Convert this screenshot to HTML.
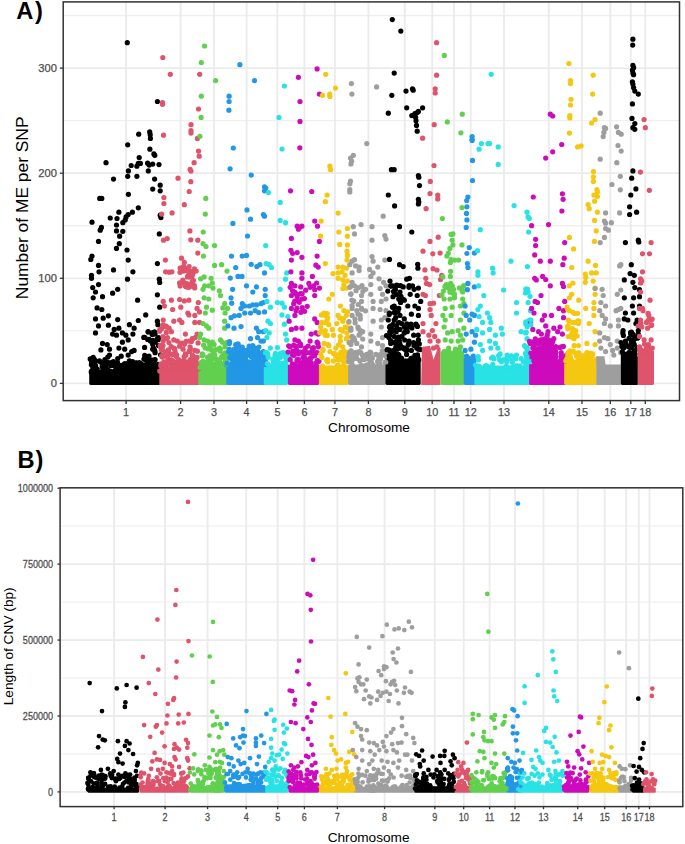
<!DOCTYPE html>
<html><head><meta charset="utf-8"><style>html,body{margin:0;padding:0;background:#fff;width:685px;height:844px;overflow:hidden}svg{display:block}text{font-family:"Liberation Sans",sans-serif}</style></head><body>
<svg width="685" height="844" viewBox="0 0 685 844" font-family="Liberation Sans, sans-serif">
<rect width="685" height="844" fill="#FFFFFF"/>
<line x1="63.2" x2="679.5" y1="330.85" y2="330.85" stroke="#F0F0F0" stroke-width="1.4"/>
<line x1="63.2" x2="679.5" y1="225.75" y2="225.75" stroke="#F0F0F0" stroke-width="1.4"/>
<line x1="63.2" x2="679.5" y1="120.65" y2="120.65" stroke="#F0F0F0" stroke-width="1.4"/>
<line x1="63.2" x2="679.5" y1="15.55" y2="15.55" stroke="#F0F0F0" stroke-width="1.4"/>
<line x1="63.2" x2="679.5" y1="383.40" y2="383.40" stroke="#EBEBEB" stroke-width="1.8"/>
<line x1="63.2" x2="679.5" y1="278.30" y2="278.30" stroke="#EBEBEB" stroke-width="1.8"/>
<line x1="63.2" x2="679.5" y1="173.20" y2="173.20" stroke="#EBEBEB" stroke-width="1.8"/>
<line x1="63.2" x2="679.5" y1="68.10" y2="68.10" stroke="#EBEBEB" stroke-width="1.8"/>
<line x1="126.10" x2="126.10" y1="1.9" y2="400.6" stroke="#EBEBEB" stroke-width="1.8"/>
<line x1="180.60" x2="180.60" y1="1.9" y2="400.6" stroke="#EBEBEB" stroke-width="1.8"/>
<line x1="214.00" x2="214.00" y1="1.9" y2="400.6" stroke="#EBEBEB" stroke-width="1.8"/>
<line x1="246.60" x2="246.60" y1="1.9" y2="400.6" stroke="#EBEBEB" stroke-width="1.8"/>
<line x1="277.40" x2="277.40" y1="1.9" y2="400.6" stroke="#EBEBEB" stroke-width="1.8"/>
<line x1="304.40" x2="304.40" y1="1.9" y2="400.6" stroke="#EBEBEB" stroke-width="1.8"/>
<line x1="334.90" x2="334.90" y1="1.9" y2="400.6" stroke="#EBEBEB" stroke-width="1.8"/>
<line x1="368.40" x2="368.40" y1="1.9" y2="400.6" stroke="#EBEBEB" stroke-width="1.8"/>
<line x1="404.80" x2="404.80" y1="1.9" y2="400.6" stroke="#EBEBEB" stroke-width="1.8"/>
<line x1="432.20" x2="432.20" y1="1.9" y2="400.6" stroke="#EBEBEB" stroke-width="1.8"/>
<line x1="454.00" x2="454.00" y1="1.9" y2="400.6" stroke="#EBEBEB" stroke-width="1.8"/>
<line x1="470.70" x2="470.70" y1="1.9" y2="400.6" stroke="#EBEBEB" stroke-width="1.8"/>
<line x1="504.00" x2="504.00" y1="1.9" y2="400.6" stroke="#EBEBEB" stroke-width="1.8"/>
<line x1="548.80" x2="548.80" y1="1.9" y2="400.6" stroke="#EBEBEB" stroke-width="1.8"/>
<line x1="582.00" x2="582.00" y1="1.9" y2="400.6" stroke="#EBEBEB" stroke-width="1.8"/>
<line x1="610.30" x2="610.30" y1="1.9" y2="400.6" stroke="#EBEBEB" stroke-width="1.8"/>
<line x1="630.80" x2="630.80" y1="1.9" y2="400.6" stroke="#EBEBEB" stroke-width="1.8"/>
<line x1="645.30" x2="645.30" y1="1.9" y2="400.6" stroke="#EBEBEB" stroke-width="1.8"/>
<rect x="89.2" y="370.3" width="71.0" height="14.6" rx="1.3" fill="#000000"/>
<g fill="#000000"><circle cx="90.2" cy="358.9" r="2.6"/><circle cx="90.8" cy="259.4" r="2.6"/><circle cx="91.2" cy="372.1" r="2.6"/><circle cx="91.4" cy="359.3" r="2.6"/><circle cx="91.4" cy="364.7" r="2.6"/><circle cx="91.5" cy="275.3" r="2.6"/><circle cx="91.5" cy="278.3" r="2.6"/><circle cx="91.6" cy="362.5" r="2.6"/><circle cx="91.7" cy="370.8" r="2.6"/><circle cx="91.8" cy="362.3" r="2.6"/><circle cx="92.0" cy="222.2" r="2.6"/><circle cx="92.0" cy="256.1" r="2.6"/><circle cx="92.1" cy="362.3" r="2.6"/><circle cx="92.1" cy="371.5" r="2.6"/><circle cx="92.7" cy="287.6" r="2.6"/><circle cx="92.9" cy="367.2" r="2.6"/><circle cx="93.2" cy="297.8" r="2.6"/><circle cx="93.2" cy="357.4" r="2.6"/><circle cx="93.5" cy="371.3" r="2.6"/><circle cx="93.5" cy="363.2" r="2.6"/><circle cx="94.0" cy="364.4" r="2.6"/><circle cx="94.2" cy="359.2" r="2.6"/><circle cx="94.5" cy="372.7" r="2.6"/><circle cx="95.0" cy="369.0" r="2.6"/><circle cx="95.2" cy="365.4" r="2.6"/><circle cx="95.5" cy="292.0" r="2.6"/><circle cx="95.5" cy="318.9" r="2.6"/><circle cx="95.5" cy="332.9" r="2.6"/><circle cx="95.5" cy="360.9" r="2.6"/><circle cx="95.6" cy="365.7" r="2.6"/><circle cx="96.6" cy="369.2" r="2.6"/><circle cx="97.1" cy="307.9" r="2.6"/><circle cx="97.2" cy="369.1" r="2.6"/><circle cx="98.5" cy="372.3" r="2.6"/><circle cx="98.5" cy="241.4" r="2.6"/><circle cx="98.5" cy="265.4" r="2.6"/><circle cx="98.5" cy="284.6" r="2.6"/><circle cx="98.5" cy="325.9" r="2.6"/><circle cx="99.0" cy="271.8" r="2.6"/><circle cx="99.4" cy="360.9" r="2.6"/><circle cx="99.7" cy="198.4" r="2.6"/><circle cx="100.2" cy="230.2" r="2.6"/><circle cx="100.7" cy="362.1" r="2.6"/><circle cx="100.9" cy="349.9" r="2.6"/><circle cx="101.4" cy="227.4" r="2.6"/><circle cx="101.8" cy="198.4" r="2.6"/><circle cx="101.8" cy="309.5" r="2.6"/><circle cx="102.2" cy="366.3" r="2.6"/><circle cx="102.3" cy="371.8" r="2.6"/><circle cx="102.4" cy="363.3" r="2.6"/><circle cx="102.5" cy="296.7" r="2.6"/><circle cx="102.5" cy="343.4" r="2.6"/><circle cx="102.5" cy="363.0" r="2.6"/><circle cx="102.6" cy="366.2" r="2.6"/><circle cx="102.6" cy="371.7" r="2.6"/><circle cx="102.7" cy="368.1" r="2.6"/><circle cx="103.2" cy="318.2" r="2.6"/><circle cx="103.4" cy="369.8" r="2.6"/><circle cx="103.8" cy="366.5" r="2.6"/><circle cx="104.2" cy="366.6" r="2.6"/><circle cx="104.6" cy="368.1" r="2.6"/><circle cx="104.9" cy="359.7" r="2.6"/><circle cx="105.2" cy="367.4" r="2.6"/><circle cx="105.5" cy="371.7" r="2.6"/><circle cx="105.5" cy="365.6" r="2.6"/><circle cx="106.0" cy="162.7" r="2.6"/><circle cx="106.1" cy="371.0" r="2.6"/><circle cx="106.3" cy="368.1" r="2.6"/><circle cx="106.7" cy="362.4" r="2.6"/><circle cx="106.8" cy="371.1" r="2.6"/><circle cx="107.2" cy="344.6" r="2.6"/><circle cx="107.4" cy="362.5" r="2.6"/><circle cx="107.5" cy="370.7" r="2.6"/><circle cx="107.8" cy="357.1" r="2.6"/><circle cx="108.0" cy="370.0" r="2.6"/><circle cx="108.4" cy="315.8" r="2.6"/><circle cx="108.4" cy="325.2" r="2.6"/><circle cx="109.2" cy="362.9" r="2.6"/><circle cx="109.5" cy="349.2" r="2.6"/><circle cx="109.5" cy="355.1" r="2.6"/><circle cx="109.6" cy="363.8" r="2.6"/><circle cx="109.9" cy="371.3" r="2.6"/><circle cx="110.2" cy="218.0" r="2.6"/><circle cx="110.9" cy="365.7" r="2.6"/><circle cx="111.1" cy="371.6" r="2.6"/><circle cx="111.2" cy="372.4" r="2.6"/><circle cx="111.4" cy="362.7" r="2.6"/><circle cx="112.6" cy="293.2" r="2.6"/><circle cx="112.6" cy="334.1" r="2.6"/><circle cx="113.4" cy="361.5" r="2.6"/><circle cx="113.4" cy="364.2" r="2.6"/><circle cx="113.5" cy="179.1" r="2.6"/><circle cx="113.5" cy="269.9" r="2.6"/><circle cx="114.2" cy="329.4" r="2.6"/><circle cx="114.5" cy="371.9" r="2.6"/><circle cx="114.7" cy="365.8" r="2.6"/><circle cx="114.7" cy="370.8" r="2.6"/><circle cx="114.7" cy="366.1" r="2.6"/><circle cx="116.2" cy="370.9" r="2.6"/><circle cx="116.3" cy="371.6" r="2.6"/><circle cx="116.5" cy="225.0" r="2.6"/><circle cx="116.5" cy="230.9" r="2.6"/><circle cx="116.5" cy="248.4" r="2.6"/><circle cx="116.5" cy="335.2" r="2.6"/><circle cx="116.9" cy="370.3" r="2.6"/><circle cx="117.0" cy="218.5" r="2.6"/><circle cx="117.5" cy="362.3" r="2.6"/><circle cx="117.5" cy="368.6" r="2.6"/><circle cx="117.7" cy="289.3" r="2.6"/><circle cx="117.7" cy="319.6" r="2.6"/><circle cx="117.7" cy="358.6" r="2.6"/><circle cx="117.9" cy="367.6" r="2.6"/><circle cx="118.9" cy="212.2" r="2.6"/><circle cx="118.9" cy="328.2" r="2.6"/><circle cx="118.9" cy="348.1" r="2.6"/><circle cx="118.9" cy="365.6" r="2.6"/><circle cx="118.9" cy="371.0" r="2.6"/><circle cx="119.3" cy="243.7" r="2.6"/><circle cx="119.5" cy="369.9" r="2.6"/><circle cx="119.6" cy="236.2" r="2.6"/><circle cx="119.8" cy="372.5" r="2.6"/><circle cx="120.2" cy="368.0" r="2.6"/><circle cx="120.4" cy="365.7" r="2.6"/><circle cx="121.1" cy="366.0" r="2.6"/><circle cx="121.2" cy="356.2" r="2.6"/><circle cx="121.4" cy="369.0" r="2.6"/><circle cx="121.8" cy="368.4" r="2.6"/><circle cx="122.2" cy="369.6" r="2.6"/><circle cx="122.4" cy="332.9" r="2.6"/><circle cx="122.4" cy="342.2" r="2.6"/><circle cx="122.4" cy="371.8" r="2.6"/><circle cx="122.4" cy="368.5" r="2.6"/><circle cx="122.5" cy="368.2" r="2.6"/><circle cx="122.8" cy="222.7" r="2.6"/><circle cx="122.8" cy="231.3" r="2.6"/><circle cx="123.3" cy="369.7" r="2.6"/><circle cx="123.5" cy="365.5" r="2.6"/><circle cx="123.7" cy="364.7" r="2.6"/><circle cx="124.3" cy="367.4" r="2.6"/><circle cx="124.7" cy="349.2" r="2.6"/><circle cx="124.8" cy="363.7" r="2.6"/><circle cx="125.2" cy="219.9" r="2.6"/><circle cx="125.3" cy="365.2" r="2.6"/><circle cx="125.5" cy="372.3" r="2.6"/><circle cx="125.9" cy="335.2" r="2.6"/><circle cx="125.9" cy="369.5" r="2.6"/><circle cx="126.1" cy="216.9" r="2.6"/><circle cx="126.4" cy="370.5" r="2.6"/><circle cx="126.6" cy="370.6" r="2.6"/><circle cx="127.0" cy="250.0" r="2.6"/><circle cx="127.2" cy="363.8" r="2.6"/><circle cx="127.3" cy="42.7" r="2.6"/><circle cx="127.5" cy="279.2" r="2.6"/><circle cx="127.6" cy="364.1" r="2.6"/><circle cx="127.7" cy="144.8" r="2.6"/><circle cx="127.7" cy="176.3" r="2.6"/><circle cx="128.0" cy="370.2" r="2.6"/><circle cx="128.2" cy="364.8" r="2.6"/><circle cx="128.2" cy="214.5" r="2.6"/><circle cx="128.2" cy="260.1" r="2.6"/><circle cx="128.2" cy="339.9" r="2.6"/><circle cx="128.2" cy="355.1" r="2.6"/><circle cx="128.2" cy="372.4" r="2.6"/><circle cx="128.4" cy="369.2" r="2.6"/><circle cx="128.4" cy="170.9" r="2.6"/><circle cx="128.4" cy="194.3" r="2.6"/><circle cx="128.6" cy="364.9" r="2.6"/><circle cx="128.7" cy="363.9" r="2.6"/><circle cx="128.8" cy="363.5" r="2.6"/><circle cx="129.4" cy="324.7" r="2.6"/><circle cx="129.4" cy="360.9" r="2.6"/><circle cx="129.7" cy="371.4" r="2.6"/><circle cx="130.5" cy="366.2" r="2.6"/><circle cx="131.1" cy="363.9" r="2.6"/><circle cx="131.2" cy="165.5" r="2.6"/><circle cx="131.7" cy="372.4" r="2.6"/><circle cx="131.7" cy="351.6" r="2.6"/><circle cx="132.2" cy="370.1" r="2.6"/><circle cx="132.4" cy="212.2" r="2.6"/><circle cx="132.5" cy="371.2" r="2.6"/><circle cx="132.6" cy="361.6" r="2.6"/><circle cx="132.9" cy="271.8" r="2.6"/><circle cx="132.9" cy="334.1" r="2.6"/><circle cx="133.2" cy="365.7" r="2.6"/><circle cx="133.4" cy="364.3" r="2.6"/><circle cx="133.8" cy="367.7" r="2.6"/><circle cx="133.9" cy="363.2" r="2.6"/><circle cx="134.1" cy="328.2" r="2.6"/><circle cx="134.1" cy="350.4" r="2.6"/><circle cx="134.3" cy="365.5" r="2.6"/><circle cx="135.5" cy="364.4" r="2.6"/><circle cx="135.8" cy="363.1" r="2.6"/><circle cx="136.4" cy="363.2" r="2.6"/><circle cx="136.4" cy="369.3" r="2.6"/><circle cx="136.5" cy="366.8" r="2.6"/><circle cx="136.7" cy="371.6" r="2.6"/><circle cx="136.7" cy="363.2" r="2.6"/><circle cx="136.9" cy="166.2" r="2.6"/><circle cx="136.9" cy="176.3" r="2.6"/><circle cx="137.3" cy="364.2" r="2.6"/><circle cx="137.3" cy="369.5" r="2.6"/><circle cx="137.4" cy="372.2" r="2.6"/><circle cx="137.6" cy="300.2" r="2.6"/><circle cx="138.2" cy="371.4" r="2.6"/><circle cx="138.3" cy="163.4" r="2.6"/><circle cx="138.3" cy="207.8" r="2.6"/><circle cx="138.3" cy="320.5" r="2.6"/><circle cx="138.7" cy="134.2" r="2.6"/><circle cx="139.2" cy="157.6" r="2.6"/><circle cx="139.3" cy="362.5" r="2.6"/><circle cx="139.4" cy="363.8" r="2.6"/><circle cx="140.3" cy="371.1" r="2.6"/><circle cx="140.4" cy="163.4" r="2.6"/><circle cx="140.4" cy="363.6" r="2.6"/><circle cx="140.8" cy="364.5" r="2.6"/><circle cx="140.9" cy="366.3" r="2.6"/><circle cx="141.7" cy="369.0" r="2.6"/><circle cx="141.9" cy="371.4" r="2.6"/><circle cx="142.0" cy="368.8" r="2.6"/><circle cx="142.1" cy="364.6" r="2.6"/><circle cx="143.8" cy="337.4" r="2.6"/><circle cx="144.0" cy="359.2" r="2.6"/><circle cx="144.5" cy="367.4" r="2.6"/><circle cx="144.6" cy="347.4" r="2.6"/><circle cx="144.7" cy="337.4" r="2.6"/><circle cx="144.7" cy="355.4" r="2.6"/><circle cx="144.8" cy="372.5" r="2.6"/><circle cx="145.0" cy="371.3" r="2.6"/><circle cx="145.1" cy="365.0" r="2.6"/><circle cx="145.7" cy="314.9" r="2.6"/><circle cx="145.7" cy="357.4" r="2.6"/><circle cx="145.9" cy="371.1" r="2.6"/><circle cx="145.9" cy="358.6" r="2.6"/><circle cx="146.3" cy="370.8" r="2.6"/><circle cx="146.4" cy="360.4" r="2.6"/><circle cx="147.1" cy="370.5" r="2.6"/><circle cx="147.1" cy="368.4" r="2.6"/><circle cx="147.4" cy="370.3" r="2.6"/><circle cx="147.6" cy="163.2" r="2.6"/><circle cx="147.7" cy="339.4" r="2.6"/><circle cx="147.9" cy="370.4" r="2.6"/><circle cx="148.1" cy="331.7" r="2.6"/><circle cx="148.1" cy="362.1" r="2.6"/><circle cx="148.2" cy="372.3" r="2.6"/><circle cx="148.3" cy="170.9" r="2.6"/><circle cx="148.3" cy="332.0" r="2.6"/><circle cx="148.5" cy="359.4" r="2.6"/><circle cx="148.6" cy="369.2" r="2.6"/><circle cx="148.7" cy="358.6" r="2.6"/><circle cx="148.8" cy="364.8" r="2.6"/><circle cx="149.0" cy="356.2" r="2.6"/><circle cx="149.1" cy="339.4" r="2.6"/><circle cx="149.2" cy="165.1" r="2.6"/><circle cx="149.7" cy="131.9" r="2.6"/><circle cx="149.9" cy="370.0" r="2.6"/><circle cx="149.9" cy="149.2" r="2.6"/><circle cx="150.0" cy="365.3" r="2.6"/><circle cx="150.2" cy="134.7" r="2.6"/><circle cx="150.2" cy="360.1" r="2.6"/><circle cx="150.4" cy="138.4" r="2.6"/><circle cx="150.4" cy="341.1" r="2.6"/><circle cx="150.5" cy="362.8" r="2.6"/><circle cx="150.8" cy="362.7" r="2.6"/><circle cx="150.9" cy="365.5" r="2.6"/><circle cx="151.2" cy="372.3" r="2.6"/><circle cx="151.2" cy="361.5" r="2.6"/><circle cx="151.5" cy="372.4" r="2.6"/><circle cx="151.8" cy="363.3" r="2.6"/><circle cx="152.0" cy="372.1" r="2.6"/><circle cx="152.2" cy="334.4" r="2.6"/><circle cx="152.4" cy="332.9" r="2.6"/><circle cx="152.7" cy="164.1" r="2.6"/><circle cx="152.7" cy="189.1" r="2.6"/><circle cx="152.7" cy="344.6" r="2.6"/><circle cx="152.7" cy="349.2" r="2.6"/><circle cx="152.8" cy="363.2" r="2.6"/><circle cx="152.9" cy="340.3" r="2.6"/><circle cx="153.0" cy="360.2" r="2.6"/><circle cx="153.2" cy="368.2" r="2.6"/><circle cx="153.6" cy="363.2" r="2.6"/><circle cx="153.8" cy="348.3" r="2.6"/><circle cx="153.9" cy="153.9" r="2.6"/><circle cx="154.5" cy="331.8" r="2.6"/><circle cx="154.6" cy="179.1" r="2.6"/><circle cx="154.7" cy="350.7" r="2.6"/><circle cx="154.8" cy="155.3" r="2.6"/><circle cx="155.0" cy="371.0" r="2.6"/><circle cx="155.1" cy="334.1" r="2.6"/><circle cx="155.1" cy="342.2" r="2.6"/><circle cx="155.1" cy="352.7" r="2.6"/><circle cx="155.1" cy="359.7" r="2.6"/><circle cx="155.6" cy="365.3" r="2.6"/><circle cx="156.5" cy="367.5" r="2.6"/><circle cx="157.1" cy="370.7" r="2.6"/><circle cx="157.3" cy="338.9" r="2.6"/><circle cx="157.4" cy="101.5" r="2.6"/><circle cx="157.4" cy="263.6" r="2.6"/><circle cx="157.4" cy="294.8" r="2.6"/><circle cx="157.4" cy="321.2" r="2.6"/><circle cx="157.7" cy="371.7" r="2.6"/><circle cx="157.7" cy="366.1" r="2.6"/><circle cx="157.9" cy="324.7" r="2.6"/><circle cx="157.9" cy="371.2" r="2.6"/><circle cx="158.1" cy="364.4" r="2.6"/><circle cx="158.2" cy="339.7" r="2.6"/><circle cx="158.5" cy="345.5" r="2.6"/><circle cx="158.5" cy="367.4" r="2.6"/><circle cx="158.6" cy="337.6" r="2.6"/><circle cx="158.7" cy="367.2" r="2.6"/><circle cx="159.0" cy="164.6" r="2.6"/><circle cx="159.3" cy="233.9" r="2.6"/><circle cx="159.3" cy="279.2" r="2.6"/></g>
<rect x="159.3" y="367.9" width="40.6" height="17.0" rx="1.3" fill="#DF536B"/>
<g fill="#DF536B"><circle cx="159.6" cy="331.2" r="2.6"/><circle cx="159.7" cy="371.1" r="2.6"/></g>
<g fill="#000000"><circle cx="159.7" cy="282.5" r="2.6"/><circle cx="159.7" cy="307.2" r="2.6"/></g>
<g fill="#DF536B"><circle cx="159.8" cy="329.6" r="2.6"/></g>
<g fill="#000000"><circle cx="160.2" cy="185.2" r="2.6"/><circle cx="160.2" cy="190.8" r="2.6"/><circle cx="160.2" cy="215.2" r="2.6"/></g>
<g fill="#DF536B"><circle cx="160.3" cy="345.3" r="2.6"/><circle cx="160.6" cy="347.1" r="2.6"/></g>
<g fill="#000000"><circle cx="160.6" cy="354.8" r="2.6"/><circle cx="160.9" cy="217.6" r="2.6"/></g>
<g fill="#DF536B"><circle cx="160.9" cy="365.9" r="2.6"/><circle cx="161.0" cy="363.9" r="2.6"/><circle cx="161.4" cy="349.8" r="2.6"/><circle cx="161.6" cy="328.7" r="2.6"/><circle cx="161.6" cy="214.1" r="2.6"/><circle cx="161.7" cy="355.6" r="2.6"/><circle cx="161.7" cy="364.9" r="2.6"/><circle cx="162.1" cy="346.9" r="2.6"/><circle cx="162.3" cy="357.0" r="2.6"/><circle cx="162.5" cy="356.8" r="2.6"/><circle cx="162.5" cy="102.7" r="2.6"/><circle cx="162.5" cy="104.3" r="2.6"/><circle cx="162.7" cy="350.0" r="2.6"/><circle cx="162.8" cy="57.5" r="2.6"/><circle cx="163.0" cy="345.5" r="2.6"/><circle cx="163.0" cy="336.5" r="2.6"/><circle cx="163.1" cy="366.7" r="2.6"/><circle cx="163.2" cy="325.5" r="2.6"/><circle cx="163.2" cy="324.9" r="2.6"/><circle cx="163.2" cy="301.4" r="2.6"/><circle cx="163.2" cy="320.0" r="2.6"/><circle cx="163.2" cy="341.1" r="2.6"/><circle cx="163.5" cy="135.2" r="2.6"/><circle cx="163.5" cy="240.2" r="2.6"/><circle cx="163.8" cy="362.2" r="2.6"/><circle cx="163.9" cy="367.9" r="2.6"/><circle cx="163.9" cy="197.5" r="2.6"/><circle cx="163.9" cy="203.5" r="2.6"/><circle cx="164.4" cy="306.0" r="2.6"/><circle cx="164.4" cy="362.1" r="2.6"/><circle cx="165.1" cy="366.5" r="2.6"/><circle cx="165.3" cy="369.6" r="2.6"/><circle cx="165.4" cy="260.1" r="2.6"/><circle cx="165.5" cy="370.9" r="2.6"/><circle cx="165.6" cy="271.8" r="2.6"/><circle cx="165.6" cy="352.7" r="2.6"/><circle cx="166.1" cy="326.1" r="2.6"/><circle cx="166.3" cy="370.9" r="2.6"/><circle cx="166.3" cy="327.1" r="2.6"/><circle cx="166.3" cy="332.4" r="2.6"/><circle cx="166.5" cy="368.3" r="2.6"/><circle cx="166.6" cy="338.6" r="2.6"/><circle cx="166.8" cy="352.3" r="2.6"/><circle cx="167.0" cy="369.1" r="2.6"/><circle cx="167.2" cy="238.6" r="2.6"/><circle cx="167.3" cy="356.2" r="2.6"/><circle cx="167.3" cy="354.7" r="2.6"/><circle cx="167.5" cy="363.3" r="2.6"/><circle cx="167.5" cy="337.6" r="2.6"/><circle cx="167.7" cy="361.0" r="2.6"/><circle cx="167.9" cy="357.4" r="2.6"/><circle cx="168.0" cy="350.7" r="2.6"/><circle cx="168.2" cy="350.5" r="2.6"/><circle cx="168.2" cy="359.8" r="2.6"/><circle cx="168.2" cy="359.3" r="2.6"/><circle cx="168.3" cy="349.9" r="2.6"/><circle cx="168.8" cy="364.2" r="2.6"/><circle cx="168.9" cy="369.5" r="2.6"/><circle cx="168.9" cy="342.5" r="2.6"/><circle cx="169.1" cy="272.2" r="2.6"/><circle cx="169.1" cy="328.2" r="2.6"/><circle cx="170.3" cy="74.3" r="2.6"/><circle cx="170.3" cy="362.1" r="2.6"/><circle cx="171.0" cy="354.1" r="2.6"/><circle cx="171.1" cy="346.6" r="2.6"/><circle cx="171.3" cy="362.3" r="2.6"/><circle cx="171.4" cy="300.2" r="2.6"/><circle cx="171.4" cy="331.7" r="2.6"/><circle cx="171.6" cy="366.9" r="2.6"/><circle cx="171.6" cy="359.8" r="2.6"/><circle cx="171.9" cy="364.2" r="2.6"/><circle cx="171.9" cy="271.8" r="2.6"/><circle cx="172.1" cy="212.9" r="2.6"/><circle cx="172.3" cy="361.1" r="2.6"/><circle cx="172.6" cy="309.5" r="2.6"/><circle cx="172.9" cy="366.4" r="2.6"/><circle cx="173.1" cy="354.6" r="2.6"/><circle cx="173.5" cy="361.7" r="2.6"/><circle cx="173.6" cy="361.7" r="2.6"/><circle cx="173.8" cy="321.2" r="2.6"/><circle cx="173.8" cy="339.9" r="2.6"/><circle cx="173.8" cy="348.1" r="2.6"/><circle cx="174.6" cy="348.7" r="2.6"/><circle cx="174.7" cy="365.6" r="2.6"/><circle cx="175.1" cy="351.7" r="2.6"/><circle cx="175.6" cy="371.1" r="2.6"/><circle cx="176.1" cy="369.9" r="2.6"/><circle cx="176.1" cy="355.1" r="2.6"/><circle cx="176.3" cy="363.3" r="2.6"/><circle cx="176.4" cy="356.5" r="2.6"/><circle cx="176.6" cy="354.8" r="2.6"/><circle cx="176.6" cy="366.8" r="2.6"/><circle cx="176.7" cy="369.5" r="2.6"/><circle cx="177.3" cy="341.1" r="2.6"/><circle cx="177.3" cy="364.3" r="2.6"/><circle cx="177.6" cy="369.1" r="2.6"/><circle cx="178.0" cy="178.2" r="2.6"/><circle cx="178.0" cy="364.8" r="2.6"/><circle cx="178.2" cy="364.9" r="2.6"/><circle cx="178.4" cy="359.7" r="2.6"/><circle cx="178.7" cy="371.3" r="2.6"/><circle cx="179.6" cy="360.7" r="2.6"/><circle cx="179.6" cy="299.5" r="2.6"/><circle cx="179.6" cy="320.0" r="2.6"/><circle cx="179.6" cy="346.2" r="2.6"/><circle cx="179.6" cy="282.8" r="2.6"/><circle cx="180.0" cy="272.3" r="2.6"/><circle cx="180.1" cy="268.0" r="2.6"/><circle cx="180.1" cy="285.9" r="2.6"/><circle cx="180.2" cy="361.3" r="2.6"/><circle cx="180.6" cy="369.4" r="2.6"/><circle cx="180.8" cy="307.2" r="2.6"/><circle cx="180.8" cy="343.4" r="2.6"/><circle cx="181.4" cy="367.0" r="2.6"/><circle cx="181.5" cy="258.2" r="2.6"/><circle cx="181.8" cy="363.1" r="2.6"/><circle cx="181.9" cy="371.1" r="2.6"/><circle cx="181.9" cy="322.4" r="2.6"/><circle cx="182.5" cy="343.2" r="2.6"/><circle cx="182.9" cy="280.2" r="2.6"/><circle cx="182.9" cy="368.7" r="2.6"/><circle cx="183.1" cy="349.2" r="2.6"/><circle cx="183.1" cy="363.2" r="2.6"/><circle cx="183.5" cy="266.6" r="2.6"/><circle cx="183.5" cy="362.9" r="2.6"/><circle cx="183.6" cy="271.1" r="2.6"/><circle cx="183.9" cy="266.7" r="2.6"/><circle cx="184.1" cy="282.9" r="2.6"/><circle cx="184.2" cy="356.5" r="2.6"/><circle cx="184.2" cy="360.2" r="2.6"/><circle cx="184.3" cy="367.1" r="2.6"/><circle cx="184.3" cy="204.7" r="2.6"/><circle cx="184.3" cy="262.4" r="2.6"/><circle cx="184.3" cy="300.9" r="2.6"/><circle cx="184.4" cy="344.3" r="2.6"/><circle cx="184.5" cy="369.4" r="2.6"/><circle cx="185.3" cy="354.8" r="2.6"/><circle cx="185.4" cy="268.6" r="2.6"/><circle cx="185.4" cy="286.2" r="2.6"/><circle cx="185.4" cy="334.1" r="2.6"/><circle cx="185.4" cy="353.9" r="2.6"/><circle cx="185.9" cy="365.5" r="2.6"/><circle cx="185.9" cy="355.1" r="2.6"/><circle cx="186.1" cy="341.3" r="2.6"/><circle cx="186.3" cy="286.8" r="2.6"/><circle cx="186.9" cy="283.6" r="2.6"/><circle cx="187.0" cy="286.7" r="2.6"/><circle cx="187.0" cy="270.7" r="2.6"/><circle cx="187.2" cy="284.5" r="2.6"/><circle cx="187.3" cy="368.9" r="2.6"/><circle cx="187.3" cy="362.7" r="2.6"/><circle cx="187.5" cy="276.9" r="2.6"/><circle cx="187.6" cy="270.8" r="2.6"/><circle cx="187.8" cy="276.4" r="2.6"/><circle cx="187.8" cy="313.0" r="2.6"/><circle cx="187.9" cy="367.4" r="2.6"/><circle cx="188.3" cy="275.6" r="2.6"/><circle cx="188.8" cy="367.0" r="2.6"/><circle cx="188.9" cy="287.3" r="2.6"/><circle cx="188.9" cy="300.2" r="2.6"/><circle cx="188.9" cy="314.9" r="2.6"/><circle cx="188.9" cy="341.1" r="2.6"/><circle cx="189.0" cy="363.0" r="2.6"/><circle cx="189.1" cy="266.5" r="2.6"/><circle cx="189.2" cy="191.5" r="2.6"/><circle cx="189.2" cy="366.6" r="2.6"/><circle cx="189.3" cy="351.3" r="2.6"/><circle cx="189.3" cy="284.5" r="2.6"/><circle cx="189.6" cy="351.3" r="2.6"/><circle cx="189.7" cy="350.8" r="2.6"/><circle cx="189.7" cy="361.1" r="2.6"/><circle cx="189.8" cy="362.6" r="2.6"/><circle cx="189.8" cy="362.6" r="2.6"/><circle cx="189.9" cy="230.9" r="2.6"/><circle cx="189.9" cy="272.6" r="2.6"/><circle cx="189.9" cy="277.1" r="2.6"/><circle cx="190.1" cy="169.3" r="2.6"/><circle cx="190.1" cy="346.9" r="2.6"/><circle cx="190.1" cy="359.7" r="2.6"/><circle cx="190.3" cy="349.0" r="2.6"/><circle cx="190.5" cy="361.1" r="2.6"/><circle cx="190.8" cy="181.7" r="2.6"/><circle cx="190.8" cy="239.8" r="2.6"/><circle cx="191.0" cy="124.7" r="2.6"/><circle cx="191.0" cy="130.5" r="2.6"/><circle cx="191.0" cy="133.1" r="2.6"/><circle cx="191.0" cy="171.1" r="2.6"/><circle cx="191.1" cy="363.7" r="2.6"/><circle cx="191.3" cy="271.3" r="2.6"/><circle cx="191.3" cy="286.2" r="2.6"/><circle cx="191.3" cy="284.3" r="2.6"/><circle cx="191.4" cy="341.4" r="2.6"/><circle cx="191.6" cy="370.0" r="2.6"/><circle cx="191.7" cy="366.6" r="2.6"/><circle cx="192.0" cy="361.0" r="2.6"/><circle cx="192.1" cy="281.9" r="2.6"/><circle cx="192.1" cy="369.0" r="2.6"/><circle cx="192.2" cy="275.8" r="2.6"/><circle cx="192.3" cy="357.2" r="2.6"/><circle cx="192.4" cy="338.7" r="2.6"/><circle cx="192.4" cy="355.1" r="2.6"/><circle cx="192.9" cy="273.6" r="2.6"/><circle cx="192.9" cy="338.6" r="2.6"/><circle cx="193.4" cy="368.8" r="2.6"/><circle cx="193.4" cy="280.4" r="2.6"/><circle cx="193.4" cy="357.0" r="2.6"/><circle cx="193.9" cy="365.5" r="2.6"/><circle cx="194.1" cy="162.7" r="2.6"/><circle cx="194.1" cy="364.5" r="2.6"/><circle cx="194.3" cy="366.5" r="2.6"/><circle cx="194.4" cy="285.5" r="2.6"/><circle cx="194.4" cy="268.9" r="2.6"/><circle cx="194.6" cy="357.1" r="2.6"/><circle cx="194.7" cy="287.9" r="2.6"/><circle cx="194.8" cy="315.4" r="2.6"/><circle cx="194.8" cy="322.4" r="2.6"/><circle cx="194.8" cy="350.4" r="2.6"/><circle cx="194.9" cy="366.7" r="2.6"/><circle cx="195.6" cy="337.3" r="2.6"/><circle cx="195.9" cy="361.2" r="2.6"/><circle cx="195.9" cy="362.1" r="2.6"/><circle cx="196.1" cy="362.9" r="2.6"/><circle cx="196.2" cy="271.0" r="2.6"/><circle cx="196.5" cy="364.9" r="2.6"/><circle cx="197.1" cy="308.4" r="2.6"/><circle cx="197.1" cy="334.1" r="2.6"/><circle cx="197.1" cy="357.4" r="2.6"/><circle cx="197.4" cy="138.4" r="2.6"/><circle cx="197.4" cy="351.2" r="2.6"/><circle cx="197.8" cy="240.2" r="2.6"/><circle cx="197.8" cy="253.1" r="2.6"/><circle cx="198.1" cy="342.9" r="2.6"/><circle cx="198.1" cy="366.1" r="2.6"/><circle cx="198.3" cy="302.5" r="2.6"/></g>
<rect x="198.3" y="365.6" width="29.7" height="19.3" rx="1.3" fill="#61D04F"/>
<g fill="#DF536B"><circle cx="198.4" cy="368.6" r="2.6"/><circle cx="198.5" cy="109.0" r="2.6"/><circle cx="198.5" cy="151.1" r="2.6"/><circle cx="199.0" cy="368.4" r="2.6"/><circle cx="199.2" cy="156.2" r="2.6"/><circle cx="199.5" cy="311.9" r="2.6"/><circle cx="199.5" cy="322.4" r="2.6"/></g>
<g fill="#61D04F"><circle cx="199.5" cy="337.6" r="2.6"/></g>
<g fill="#DF536B"><circle cx="199.7" cy="74.3" r="2.6"/></g>
<g fill="#61D04F"><circle cx="199.9" cy="136.3" r="2.6"/><circle cx="200.1" cy="367.4" r="2.6"/><circle cx="200.6" cy="278.8" r="2.6"/><circle cx="200.6" cy="334.1" r="2.6"/><circle cx="201.1" cy="117.4" r="2.6"/><circle cx="201.2" cy="362.4" r="2.6"/><circle cx="201.3" cy="62.6" r="2.6"/><circle cx="201.3" cy="96.2" r="2.6"/><circle cx="201.4" cy="365.6" r="2.6"/><circle cx="201.9" cy="366.3" r="2.6"/><circle cx="202.0" cy="362.4" r="2.6"/><circle cx="202.0" cy="355.8" r="2.6"/><circle cx="202.1" cy="364.5" r="2.6"/><circle cx="202.2" cy="353.8" r="2.6"/><circle cx="202.4" cy="363.3" r="2.6"/><circle cx="202.8" cy="364.4" r="2.6"/><circle cx="203.0" cy="243.7" r="2.6"/><circle cx="203.0" cy="289.3" r="2.6"/><circle cx="203.0" cy="323.5" r="2.6"/><circle cx="203.0" cy="355.1" r="2.6"/><circle cx="203.0" cy="361.3" r="2.6"/><circle cx="203.2" cy="232.0" r="2.6"/><circle cx="203.4" cy="256.1" r="2.6"/><circle cx="203.5" cy="365.1" r="2.6"/><circle cx="203.6" cy="345.2" r="2.6"/><circle cx="204.1" cy="276.9" r="2.6"/><circle cx="204.1" cy="297.8" r="2.6"/><circle cx="204.1" cy="339.9" r="2.6"/><circle cx="204.6" cy="46.0" r="2.6"/><circle cx="204.6" cy="285.8" r="2.6"/><circle cx="204.6" cy="363.3" r="2.6"/><circle cx="205.1" cy="367.5" r="2.6"/><circle cx="205.3" cy="214.1" r="2.6"/><circle cx="205.3" cy="313.0" r="2.6"/><circle cx="205.3" cy="348.1" r="2.6"/><circle cx="205.8" cy="198.4" r="2.6"/><circle cx="206.0" cy="246.5" r="2.6"/><circle cx="206.3" cy="364.1" r="2.6"/><circle cx="206.5" cy="307.2" r="2.6"/><circle cx="206.5" cy="325.9" r="2.6"/><circle cx="207.6" cy="361.5" r="2.6"/><circle cx="207.6" cy="341.1" r="2.6"/><circle cx="207.6" cy="357.4" r="2.6"/><circle cx="208.2" cy="365.3" r="2.6"/><circle cx="208.2" cy="357.0" r="2.6"/><circle cx="208.6" cy="349.0" r="2.6"/><circle cx="208.8" cy="285.8" r="2.6"/><circle cx="208.8" cy="299.0" r="2.6"/><circle cx="208.8" cy="328.2" r="2.6"/><circle cx="208.8" cy="362.1" r="2.6"/><circle cx="208.9" cy="359.7" r="2.6"/><circle cx="209.3" cy="363.3" r="2.6"/><circle cx="209.3" cy="348.4" r="2.6"/><circle cx="209.6" cy="359.4" r="2.6"/><circle cx="209.8" cy="344.9" r="2.6"/><circle cx="210.2" cy="355.6" r="2.6"/><circle cx="210.4" cy="364.4" r="2.6"/><circle cx="211.0" cy="360.0" r="2.6"/><circle cx="211.1" cy="278.3" r="2.6"/><circle cx="211.1" cy="349.2" r="2.6"/><circle cx="211.4" cy="359.3" r="2.6"/><circle cx="212.0" cy="364.2" r="2.6"/><circle cx="212.3" cy="283.0" r="2.6"/><circle cx="212.3" cy="310.2" r="2.6"/><circle cx="212.3" cy="342.2" r="2.6"/><circle cx="212.5" cy="350.9" r="2.6"/><circle cx="212.6" cy="366.5" r="2.6"/><circle cx="213.0" cy="288.1" r="2.6"/><circle cx="214.1" cy="344.4" r="2.6"/><circle cx="214.2" cy="353.3" r="2.6"/><circle cx="214.2" cy="365.1" r="2.6"/><circle cx="214.3" cy="355.6" r="2.6"/><circle cx="214.4" cy="365.1" r="2.6"/><circle cx="214.6" cy="245.6" r="2.6"/><circle cx="214.6" cy="265.4" r="2.6"/><circle cx="214.6" cy="355.1" r="2.6"/><circle cx="215.1" cy="358.5" r="2.6"/><circle cx="215.2" cy="363.6" r="2.6"/><circle cx="215.2" cy="357.9" r="2.6"/><circle cx="215.6" cy="349.5" r="2.6"/><circle cx="215.6" cy="80.6" r="2.6"/><circle cx="216.3" cy="366.2" r="2.6"/><circle cx="217.5" cy="364.2" r="2.6"/><circle cx="218.0" cy="361.0" r="2.6"/><circle cx="218.1" cy="359.7" r="2.6"/><circle cx="219.1" cy="361.5" r="2.6"/><circle cx="219.2" cy="360.3" r="2.6"/><circle cx="219.3" cy="360.6" r="2.6"/><circle cx="219.3" cy="290.8" r="2.6"/><circle cx="219.3" cy="348.1" r="2.6"/><circle cx="219.6" cy="365.3" r="2.6"/><circle cx="219.9" cy="351.1" r="2.6"/><circle cx="220.3" cy="365.1" r="2.6"/><circle cx="220.4" cy="349.0" r="2.6"/><circle cx="220.5" cy="295.5" r="2.6"/><circle cx="220.5" cy="339.9" r="2.6"/><circle cx="220.5" cy="365.2" r="2.6"/><circle cx="221.6" cy="366.9" r="2.6"/><circle cx="221.6" cy="264.7" r="2.6"/><circle cx="221.7" cy="366.7" r="2.6"/><circle cx="221.7" cy="356.9" r="2.6"/><circle cx="221.9" cy="363.7" r="2.6"/><circle cx="222.3" cy="342.1" r="2.6"/><circle cx="222.8" cy="307.9" r="2.6"/><circle cx="222.8" cy="355.1" r="2.6"/><circle cx="223.2" cy="364.7" r="2.6"/><circle cx="223.3" cy="367.0" r="2.6"/><circle cx="223.4" cy="366.4" r="2.6"/><circle cx="224.1" cy="357.9" r="2.6"/><circle cx="224.6" cy="354.2" r="2.6"/><circle cx="224.7" cy="303.7" r="2.6"/><circle cx="224.7" cy="321.2" r="2.6"/><circle cx="224.7" cy="328.2" r="2.6"/><circle cx="225.0" cy="352.8" r="2.6"/><circle cx="225.1" cy="344.7" r="2.6"/><circle cx="225.1" cy="313.0" r="2.6"/><circle cx="225.1" cy="346.9" r="2.6"/><circle cx="225.2" cy="357.2" r="2.6"/><circle cx="225.4" cy="361.1" r="2.6"/><circle cx="225.7" cy="355.9" r="2.6"/><circle cx="226.3" cy="366.1" r="2.6"/></g>
<rect x="226.3" y="364.4" width="19.9" height="20.5" rx="1.3" fill="#2297E6"/>
<g fill="#2297E6"><circle cx="226.4" cy="364.8" r="2.6"/></g>
<g fill="#61D04F"><circle cx="226.6" cy="363.9" r="2.6"/><circle cx="226.6" cy="363.8" r="2.6"/><circle cx="226.8" cy="358.6" r="2.6"/><circle cx="226.9" cy="342.7" r="2.6"/><circle cx="227.0" cy="271.1" r="2.6"/><circle cx="227.1" cy="360.3" r="2.6"/></g>
<g fill="#2297E6"><circle cx="227.1" cy="363.3" r="2.6"/></g>
<g fill="#61D04F"><circle cx="227.3" cy="355.2" r="2.6"/><circle cx="227.5" cy="308.4" r="2.6"/></g>
<g fill="#2297E6"><circle cx="227.9" cy="325.9" r="2.6"/><circle cx="228.5" cy="351.7" r="2.6"/><circle cx="228.9" cy="110.2" r="2.6"/><circle cx="229.1" cy="96.2" r="2.6"/><circle cx="229.1" cy="101.5" r="2.6"/><circle cx="229.4" cy="343.4" r="2.6"/><circle cx="229.4" cy="349.2" r="2.6"/><circle cx="229.5" cy="341.5" r="2.6"/><circle cx="229.8" cy="357.4" r="2.6"/><circle cx="230.1" cy="168.8" r="2.6"/><circle cx="230.3" cy="278.1" r="2.6"/><circle cx="231.0" cy="297.8" r="2.6"/><circle cx="231.0" cy="317.7" r="2.6"/><circle cx="231.1" cy="369.1" r="2.6"/><circle cx="231.1" cy="364.4" r="2.6"/><circle cx="231.5" cy="256.1" r="2.6"/><circle cx="231.7" cy="354.8" r="2.6"/><circle cx="231.7" cy="303.2" r="2.6"/><circle cx="231.9" cy="365.0" r="2.6"/><circle cx="231.9" cy="357.7" r="2.6"/><circle cx="232.0" cy="359.4" r="2.6"/><circle cx="232.0" cy="356.8" r="2.6"/><circle cx="232.2" cy="352.7" r="2.6"/><circle cx="232.6" cy="352.3" r="2.6"/><circle cx="232.6" cy="289.3" r="2.6"/><circle cx="232.9" cy="223.4" r="2.6"/><circle cx="233.2" cy="354.3" r="2.6"/><circle cx="233.3" cy="148.0" r="2.6"/><circle cx="233.5" cy="360.8" r="2.6"/><circle cx="233.9" cy="361.9" r="2.6"/><circle cx="234.0" cy="328.2" r="2.6"/><circle cx="234.1" cy="349.3" r="2.6"/><circle cx="234.3" cy="367.6" r="2.6"/><circle cx="234.4" cy="357.2" r="2.6"/><circle cx="234.5" cy="315.8" r="2.6"/><circle cx="234.5" cy="359.7" r="2.6"/><circle cx="234.6" cy="366.5" r="2.6"/><circle cx="234.9" cy="367.0" r="2.6"/><circle cx="235.0" cy="366.5" r="2.6"/><circle cx="235.4" cy="359.2" r="2.6"/><circle cx="235.5" cy="357.8" r="2.6"/><circle cx="235.7" cy="267.5" r="2.6"/><circle cx="235.7" cy="344.6" r="2.6"/><circle cx="235.7" cy="356.0" r="2.6"/><circle cx="235.7" cy="359.0" r="2.6"/><circle cx="235.9" cy="365.9" r="2.6"/><circle cx="235.9" cy="361.5" r="2.6"/><circle cx="236.1" cy="360.3" r="2.6"/><circle cx="236.1" cy="366.5" r="2.6"/><circle cx="236.2" cy="355.9" r="2.6"/><circle cx="236.3" cy="345.1" r="2.6"/><circle cx="236.4" cy="352.7" r="2.6"/><circle cx="236.4" cy="362.4" r="2.6"/><circle cx="236.5" cy="368.7" r="2.6"/><circle cx="236.5" cy="364.5" r="2.6"/><circle cx="236.6" cy="363.1" r="2.6"/><circle cx="237.3" cy="362.2" r="2.6"/><circle cx="237.7" cy="361.5" r="2.6"/><circle cx="238.0" cy="276.4" r="2.6"/><circle cx="238.0" cy="343.9" r="2.6"/><circle cx="238.1" cy="360.8" r="2.6"/><circle cx="238.2" cy="344.9" r="2.6"/><circle cx="238.4" cy="348.4" r="2.6"/><circle cx="238.8" cy="362.0" r="2.6"/></g>
<rect x="238.8" y="362.1" width="27.3" height="22.8" rx="1.3" fill="#2297E6"/>
<g fill="#2297E6"><circle cx="239.2" cy="315.4" r="2.6"/><circle cx="239.9" cy="64.7" r="2.6"/><circle cx="240.1" cy="364.3" r="2.6"/><circle cx="240.1" cy="353.1" r="2.6"/><circle cx="240.2" cy="357.8" r="2.6"/><circle cx="240.3" cy="357.9" r="2.6"/><circle cx="240.3" cy="367.5" r="2.6"/><circle cx="240.3" cy="349.8" r="2.6"/><circle cx="240.3" cy="347.6" r="2.6"/><circle cx="240.4" cy="353.7" r="2.6"/><circle cx="240.5" cy="350.5" r="2.6"/><circle cx="240.6" cy="358.3" r="2.6"/><circle cx="241.0" cy="308.4" r="2.6"/><circle cx="241.0" cy="326.6" r="2.6"/><circle cx="241.1" cy="360.7" r="2.6"/><circle cx="241.2" cy="351.9" r="2.6"/><circle cx="241.2" cy="367.4" r="2.6"/><circle cx="241.2" cy="368.3" r="2.6"/><circle cx="241.4" cy="363.3" r="2.6"/><circle cx="241.5" cy="365.2" r="2.6"/><circle cx="241.6" cy="348.9" r="2.6"/><circle cx="242.0" cy="276.4" r="2.6"/><circle cx="242.0" cy="353.7" r="2.6"/><circle cx="242.1" cy="361.8" r="2.6"/><circle cx="242.2" cy="256.1" r="2.6"/><circle cx="242.3" cy="303.7" r="2.6"/><circle cx="242.3" cy="347.1" r="2.6"/><circle cx="242.5" cy="363.5" r="2.6"/><circle cx="243.0" cy="359.0" r="2.6"/><circle cx="243.3" cy="355.4" r="2.6"/><circle cx="243.3" cy="356.7" r="2.6"/><circle cx="243.5" cy="364.1" r="2.6"/><circle cx="243.6" cy="355.4" r="2.6"/><circle cx="243.6" cy="362.1" r="2.6"/><circle cx="243.8" cy="350.5" r="2.6"/><circle cx="243.9" cy="350.7" r="2.6"/><circle cx="244.1" cy="366.5" r="2.6"/><circle cx="244.5" cy="361.5" r="2.6"/><circle cx="244.6" cy="362.8" r="2.6"/><circle cx="244.6" cy="350.9" r="2.6"/><circle cx="244.7" cy="306.0" r="2.6"/><circle cx="244.7" cy="313.0" r="2.6"/><circle cx="245.0" cy="364.0" r="2.6"/><circle cx="245.5" cy="354.5" r="2.6"/><circle cx="245.5" cy="359.4" r="2.6"/><circle cx="245.5" cy="358.7" r="2.6"/><circle cx="245.6" cy="352.4" r="2.6"/><circle cx="245.8" cy="351.7" r="2.6"/><circle cx="245.8" cy="360.8" r="2.6"/><circle cx="245.9" cy="363.2" r="2.6"/><circle cx="246.5" cy="255.4" r="2.6"/><circle cx="246.5" cy="285.8" r="2.6"/><circle cx="246.6" cy="352.5" r="2.6"/><circle cx="247.0" cy="209.9" r="2.6"/><circle cx="247.5" cy="236.0" r="2.6"/><circle cx="247.7" cy="349.9" r="2.6"/><circle cx="247.8" cy="350.1" r="2.6"/><circle cx="247.8" cy="352.4" r="2.6"/><circle cx="247.9" cy="354.7" r="2.6"/><circle cx="248.4" cy="351.3" r="2.6"/><circle cx="248.4" cy="354.8" r="2.6"/><circle cx="248.7" cy="361.9" r="2.6"/><circle cx="248.9" cy="364.1" r="2.6"/><circle cx="249.3" cy="346.2" r="2.6"/><circle cx="249.3" cy="306.0" r="2.6"/><circle cx="249.9" cy="354.0" r="2.6"/><circle cx="250.5" cy="219.2" r="2.6"/><circle cx="250.5" cy="313.0" r="2.6"/><circle cx="250.5" cy="338.7" r="2.6"/><circle cx="250.6" cy="352.7" r="2.6"/><circle cx="250.8" cy="363.8" r="2.6"/><circle cx="251.0" cy="356.2" r="2.6"/><circle cx="251.1" cy="354.7" r="2.6"/><circle cx="251.2" cy="175.1" r="2.6"/><circle cx="251.2" cy="264.3" r="2.6"/><circle cx="251.5" cy="356.8" r="2.6"/><circle cx="251.7" cy="355.1" r="2.6"/><circle cx="252.1" cy="356.0" r="2.6"/><circle cx="252.2" cy="347.4" r="2.6"/><circle cx="252.3" cy="354.2" r="2.6"/><circle cx="252.7" cy="355.2" r="2.6"/><circle cx="252.8" cy="361.2" r="2.6"/><circle cx="252.8" cy="292.0" r="2.6"/><circle cx="252.8" cy="304.9" r="2.6"/><circle cx="252.8" cy="345.7" r="2.6"/><circle cx="253.1" cy="347.4" r="2.6"/><circle cx="253.4" cy="354.5" r="2.6"/><circle cx="253.6" cy="353.5" r="2.6"/><circle cx="253.6" cy="360.0" r="2.6"/><circle cx="253.7" cy="360.9" r="2.6"/><circle cx="253.8" cy="351.7" r="2.6"/><circle cx="253.9" cy="354.5" r="2.6"/><circle cx="254.1" cy="349.2" r="2.6"/><circle cx="254.4" cy="353.4" r="2.6"/><circle cx="254.5" cy="361.1" r="2.6"/><circle cx="254.5" cy="80.6" r="2.6"/><circle cx="254.6" cy="353.4" r="2.6"/><circle cx="255.2" cy="310.7" r="2.6"/><circle cx="255.2" cy="348.1" r="2.6"/><circle cx="255.4" cy="355.6" r="2.6"/><circle cx="255.6" cy="355.5" r="2.6"/><circle cx="255.6" cy="358.5" r="2.6"/><circle cx="255.7" cy="350.2" r="2.6"/><circle cx="255.8" cy="355.0" r="2.6"/><circle cx="255.9" cy="356.4" r="2.6"/><circle cx="256.2" cy="354.4" r="2.6"/><circle cx="256.4" cy="286.9" r="2.6"/><circle cx="256.4" cy="304.9" r="2.6"/><circle cx="256.4" cy="328.2" r="2.6"/><circle cx="256.5" cy="361.2" r="2.6"/><circle cx="256.6" cy="360.9" r="2.6"/><circle cx="256.8" cy="266.6" r="2.6"/><circle cx="256.9" cy="365.4" r="2.6"/><circle cx="256.9" cy="359.5" r="2.6"/><circle cx="257.2" cy="356.8" r="2.6"/><circle cx="257.4" cy="360.4" r="2.6"/><circle cx="257.4" cy="363.3" r="2.6"/><circle cx="257.5" cy="358.9" r="2.6"/><circle cx="257.5" cy="337.6" r="2.6"/><circle cx="257.5" cy="350.4" r="2.6"/><circle cx="257.9" cy="354.6" r="2.6"/><circle cx="258.1" cy="354.6" r="2.6"/><circle cx="258.7" cy="312.6" r="2.6"/><circle cx="258.7" cy="331.7" r="2.6"/><circle cx="258.9" cy="347.0" r="2.6"/><circle cx="259.5" cy="357.1" r="2.6"/><circle cx="259.8" cy="354.2" r="2.6"/><circle cx="259.9" cy="264.7" r="2.6"/><circle cx="260.1" cy="364.0" r="2.6"/><circle cx="260.8" cy="354.6" r="2.6"/><circle cx="260.9" cy="361.4" r="2.6"/><circle cx="261.0" cy="303.7" r="2.6"/><circle cx="261.0" cy="341.1" r="2.6"/><circle cx="261.0" cy="355.1" r="2.6"/><circle cx="261.6" cy="361.1" r="2.6"/><circle cx="262.3" cy="352.3" r="2.6"/><circle cx="262.6" cy="353.2" r="2.6"/><circle cx="262.9" cy="362.7" r="2.6"/><circle cx="263.4" cy="214.5" r="2.6"/><circle cx="263.4" cy="302.5" r="2.6"/><circle cx="263.4" cy="331.7" r="2.6"/><circle cx="263.4" cy="341.1" r="2.6"/><circle cx="263.4" cy="351.6" r="2.6"/></g>
<rect x="263.8" y="363.2" width="24.3" height="21.7" rx="1.3" fill="#28E2E5"/>
<g fill="#2297E6"><circle cx="264.5" cy="186.8" r="2.6"/><circle cx="264.5" cy="190.8" r="2.6"/><circle cx="264.5" cy="216.2" r="2.6"/><circle cx="264.5" cy="272.9" r="2.6"/><circle cx="264.5" cy="311.9" r="2.6"/><circle cx="264.5" cy="357.4" r="2.6"/><circle cx="264.7" cy="359.5" r="2.6"/><circle cx="264.9" cy="364.5" r="2.6"/><circle cx="265.2" cy="289.3" r="2.6"/><circle cx="265.2" cy="295.5" r="2.6"/><circle cx="265.3" cy="360.7" r="2.6"/></g>
<g fill="#28E2E5"><circle cx="265.5" cy="352.7" r="2.6"/></g>
<g fill="#2297E6"><circle cx="265.7" cy="188.0" r="2.6"/></g>
<g fill="#28E2E5"><circle cx="265.7" cy="245.6" r="2.6"/><circle cx="265.7" cy="330.5" r="2.6"/><circle cx="266.2" cy="263.6" r="2.6"/><circle cx="266.9" cy="301.4" r="2.6"/><circle cx="266.9" cy="337.6" r="2.6"/><circle cx="266.9" cy="352.7" r="2.6"/><circle cx="267.5" cy="363.5" r="2.6"/><circle cx="267.8" cy="354.2" r="2.6"/><circle cx="268.0" cy="321.2" r="2.6"/><circle cx="268.2" cy="357.3" r="2.6"/><circle cx="268.5" cy="192.6" r="2.6"/><circle cx="269.2" cy="264.7" r="2.6"/><circle cx="269.2" cy="332.9" r="2.6"/><circle cx="270.4" cy="307.2" r="2.6"/><circle cx="270.4" cy="323.5" r="2.6"/><circle cx="270.4" cy="348.1" r="2.6"/><circle cx="271.5" cy="267.5" r="2.6"/><circle cx="272.8" cy="359.3" r="2.6"/><circle cx="273.6" cy="362.9" r="2.6"/><circle cx="274.8" cy="357.6" r="2.6"/><circle cx="275.0" cy="355.1" r="2.6"/><circle cx="275.3" cy="364.1" r="2.6"/><circle cx="275.5" cy="353.4" r="2.6"/><circle cx="276.3" cy="362.0" r="2.6"/><circle cx="277.4" cy="302.5" r="2.6"/><circle cx="277.4" cy="347.6" r="2.6"/><circle cx="277.7" cy="357.6" r="2.6"/><circle cx="277.7" cy="355.8" r="2.6"/><circle cx="278.5" cy="362.7" r="2.6"/><circle cx="278.6" cy="354.3" r="2.6"/><circle cx="278.6" cy="363.0" r="2.6"/><circle cx="278.7" cy="358.0" r="2.6"/><circle cx="279.0" cy="117.4" r="2.6"/><circle cx="279.3" cy="365.3" r="2.6"/><circle cx="279.5" cy="364.6" r="2.6"/><circle cx="279.7" cy="357.4" r="2.6"/><circle cx="279.8" cy="364.3" r="2.6"/><circle cx="279.8" cy="364.4" r="2.6"/><circle cx="279.9" cy="357.2" r="2.6"/><circle cx="280.1" cy="356.2" r="2.6"/><circle cx="280.2" cy="202.4" r="2.6"/><circle cx="280.2" cy="220.4" r="2.6"/><circle cx="280.2" cy="289.3" r="2.6"/><circle cx="281.0" cy="353.2" r="2.6"/><circle cx="282.0" cy="363.5" r="2.6"/><circle cx="282.0" cy="149.0" r="2.6"/><circle cx="282.0" cy="303.2" r="2.6"/><circle cx="282.0" cy="314.9" r="2.6"/><circle cx="283.2" cy="352.7" r="2.6"/><circle cx="283.4" cy="355.9" r="2.6"/><circle cx="283.7" cy="363.0" r="2.6"/><circle cx="284.4" cy="86.0" r="2.6"/><circle cx="284.4" cy="307.2" r="2.6"/><circle cx="284.4" cy="324.2" r="2.6"/><circle cx="285.1" cy="356.8" r="2.6"/><circle cx="285.4" cy="364.8" r="2.6"/><circle cx="285.5" cy="222.7" r="2.6"/><circle cx="285.5" cy="279.2" r="2.6"/><circle cx="285.5" cy="334.1" r="2.6"/><circle cx="285.5" cy="355.1" r="2.6"/><circle cx="285.9" cy="362.7" r="2.6"/><circle cx="286.3" cy="358.2" r="2.6"/><circle cx="286.7" cy="272.9" r="2.6"/><circle cx="286.7" cy="339.9" r="2.6"/><circle cx="286.7" cy="359.7" r="2.6"/><circle cx="286.8" cy="352.8" r="2.6"/><circle cx="287.5" cy="356.2" r="2.6"/><circle cx="287.9" cy="316.5" r="2.6"/></g>
<rect x="287.9" y="364.4" width="31.5" height="20.5" rx="1.3" fill="#CD0BBC"/>
<g fill="#CD0BBC"><circle cx="288.1" cy="352.1" r="2.6"/><circle cx="288.7" cy="345.8" r="2.6"/><circle cx="289.1" cy="321.2" r="2.6"/><circle cx="290.2" cy="287.3" r="2.6"/><circle cx="290.2" cy="346.9" r="2.6"/><circle cx="290.2" cy="359.7" r="2.6"/><circle cx="290.5" cy="190.8" r="2.6"/><circle cx="290.9" cy="250.3" r="2.6"/><circle cx="290.9" cy="271.8" r="2.6"/><circle cx="291.4" cy="238.4" r="2.6"/><circle cx="291.4" cy="260.1" r="2.6"/><circle cx="291.4" cy="283.4" r="2.6"/><circle cx="291.4" cy="295.5" r="2.6"/><circle cx="291.4" cy="308.4" r="2.6"/><circle cx="291.4" cy="329.4" r="2.6"/><circle cx="292.4" cy="363.9" r="2.6"/><circle cx="292.6" cy="253.5" r="2.6"/><circle cx="292.6" cy="290.8" r="2.6"/><circle cx="292.6" cy="355.1" r="2.6"/><circle cx="292.6" cy="353.8" r="2.6"/><circle cx="292.7" cy="351.4" r="2.6"/><circle cx="293.2" cy="352.7" r="2.6"/><circle cx="293.4" cy="364.7" r="2.6"/><circle cx="293.7" cy="345.0" r="2.6"/><circle cx="293.7" cy="303.7" r="2.6"/><circle cx="293.9" cy="365.1" r="2.6"/><circle cx="294.1" cy="355.3" r="2.6"/><circle cx="294.5" cy="292.0" r="2.6"/><circle cx="294.7" cy="301.1" r="2.6"/><circle cx="294.9" cy="285.8" r="2.6"/><circle cx="294.9" cy="315.4" r="2.6"/><circle cx="294.9" cy="339.9" r="2.6"/><circle cx="295.4" cy="293.2" r="2.6"/><circle cx="295.4" cy="351.0" r="2.6"/><circle cx="295.4" cy="365.1" r="2.6"/><circle cx="295.9" cy="346.3" r="2.6"/><circle cx="295.9" cy="346.6" r="2.6"/><circle cx="296.1" cy="310.7" r="2.6"/><circle cx="296.1" cy="328.2" r="2.6"/><circle cx="296.1" cy="348.1" r="2.6"/><circle cx="296.6" cy="294.2" r="2.6"/><circle cx="296.7" cy="350.3" r="2.6"/><circle cx="296.7" cy="351.1" r="2.6"/><circle cx="297.0" cy="361.1" r="2.6"/><circle cx="297.0" cy="308.0" r="2.6"/><circle cx="297.2" cy="226.2" r="2.6"/><circle cx="297.2" cy="252.6" r="2.6"/><circle cx="297.2" cy="296.7" r="2.6"/><circle cx="297.2" cy="359.7" r="2.6"/><circle cx="297.7" cy="300.7" r="2.6"/><circle cx="298.4" cy="77.3" r="2.6"/><circle cx="298.4" cy="229.2" r="2.6"/><circle cx="298.4" cy="341.1" r="2.6"/><circle cx="298.4" cy="353.9" r="2.6"/><circle cx="298.5" cy="359.6" r="2.6"/><circle cx="299.2" cy="302.3" r="2.6"/><circle cx="299.6" cy="227.4" r="2.6"/><circle cx="299.8" cy="147.8" r="2.6"/><circle cx="300.0" cy="101.5" r="2.6"/><circle cx="300.0" cy="121.4" r="2.6"/><circle cx="300.2" cy="352.2" r="2.6"/><circle cx="300.4" cy="343.8" r="2.6"/><circle cx="300.5" cy="364.1" r="2.6"/><circle cx="300.6" cy="293.7" r="2.6"/><circle cx="300.7" cy="286.9" r="2.6"/><circle cx="300.7" cy="345.7" r="2.6"/><circle cx="300.8" cy="363.7" r="2.6"/><circle cx="300.9" cy="312.3" r="2.6"/><circle cx="301.9" cy="226.2" r="2.6"/><circle cx="301.9" cy="257.3" r="2.6"/><circle cx="301.9" cy="272.9" r="2.6"/><circle cx="301.9" cy="278.3" r="2.6"/><circle cx="301.9" cy="299.0" r="2.6"/><circle cx="301.9" cy="328.2" r="2.6"/><circle cx="302.1" cy="293.8" r="2.6"/><circle cx="302.2" cy="307.7" r="2.6"/><circle cx="303.0" cy="357.6" r="2.6"/><circle cx="303.1" cy="362.1" r="2.6"/><circle cx="303.7" cy="353.4" r="2.6"/><circle cx="304.1" cy="356.4" r="2.6"/><circle cx="304.4" cy="298.6" r="2.6"/><circle cx="304.6" cy="311.3" r="2.6"/><circle cx="304.7" cy="350.5" r="2.6"/><circle cx="304.8" cy="357.9" r="2.6"/><circle cx="304.8" cy="363.6" r="2.6"/><circle cx="305.4" cy="348.1" r="2.6"/><circle cx="305.5" cy="352.0" r="2.6"/><circle cx="305.7" cy="365.1" r="2.6"/><circle cx="305.7" cy="290.2" r="2.6"/><circle cx="306.6" cy="352.6" r="2.6"/><circle cx="307.0" cy="363.2" r="2.6"/><circle cx="307.2" cy="306.3" r="2.6"/><circle cx="307.5" cy="360.7" r="2.6"/><circle cx="308.2" cy="346.0" r="2.6"/><circle cx="308.5" cy="365.3" r="2.6"/><circle cx="308.8" cy="363.5" r="2.6"/><circle cx="308.9" cy="283.4" r="2.6"/><circle cx="308.9" cy="360.4" r="2.6"/><circle cx="309.7" cy="358.9" r="2.6"/><circle cx="310.1" cy="287.3" r="2.6"/><circle cx="310.1" cy="341.1" r="2.6"/><circle cx="310.1" cy="352.7" r="2.6"/><circle cx="310.1" cy="359.7" r="2.6"/><circle cx="310.1" cy="364.4" r="2.6"/><circle cx="310.2" cy="365.3" r="2.6"/><circle cx="310.7" cy="364.2" r="2.6"/><circle cx="311.1" cy="357.5" r="2.6"/><circle cx="311.2" cy="363.1" r="2.6"/><circle cx="311.2" cy="334.1" r="2.6"/><circle cx="311.7" cy="191.5" r="2.6"/><circle cx="312.4" cy="276.4" r="2.6"/><circle cx="312.5" cy="348.9" r="2.6"/><circle cx="312.9" cy="352.9" r="2.6"/><circle cx="313.2" cy="347.8" r="2.6"/><circle cx="313.6" cy="285.8" r="2.6"/><circle cx="313.6" cy="347.8" r="2.6"/><circle cx="314.5" cy="356.0" r="2.6"/><circle cx="314.7" cy="221.1" r="2.6"/><circle cx="314.7" cy="289.7" r="2.6"/><circle cx="314.7" cy="295.5" r="2.6"/><circle cx="314.7" cy="318.9" r="2.6"/><circle cx="315.4" cy="352.9" r="2.6"/><circle cx="315.9" cy="265.2" r="2.6"/><circle cx="315.9" cy="332.9" r="2.6"/><circle cx="315.9" cy="363.2" r="2.6"/><circle cx="316.6" cy="283.0" r="2.6"/><circle cx="317.1" cy="68.9" r="2.6"/><circle cx="317.1" cy="256.1" r="2.6"/><circle cx="317.1" cy="322.4" r="2.6"/><circle cx="317.1" cy="342.2" r="2.6"/><circle cx="317.1" cy="352.7" r="2.6"/><circle cx="317.4" cy="360.6" r="2.6"/><circle cx="317.5" cy="226.2" r="2.6"/><circle cx="317.7" cy="361.7" r="2.6"/><circle cx="318.0" cy="343.7" r="2.6"/><circle cx="318.2" cy="267.1" r="2.6"/><circle cx="318.2" cy="334.1" r="2.6"/><circle cx="318.5" cy="346.8" r="2.6"/><circle cx="318.9" cy="361.2" r="2.6"/></g>
<rect x="318.9" y="365.6" width="29.7" height="19.3" rx="1.3" fill="#F5C710"/>
<g fill="#CD0BBC"><circle cx="319.4" cy="94.1" r="2.6"/><circle cx="319.4" cy="241.4" r="2.6"/><circle cx="319.4" cy="288.1" r="2.6"/></g>
<g fill="#F5C710"><circle cx="319.8" cy="332.7" r="2.6"/><circle cx="320.6" cy="236.2" r="2.6"/><circle cx="320.6" cy="327.0" r="2.6"/><circle cx="320.7" cy="354.3" r="2.6"/><circle cx="321.1" cy="221.1" r="2.6"/><circle cx="321.3" cy="314.9" r="2.6"/><circle cx="321.8" cy="322.4" r="2.6"/><circle cx="321.8" cy="357.4" r="2.6"/><circle cx="322.0" cy="331.0" r="2.6"/><circle cx="322.5" cy="95.3" r="2.6"/><circle cx="322.6" cy="366.1" r="2.6"/><circle cx="322.9" cy="350.4" r="2.6"/><circle cx="322.9" cy="349.4" r="2.6"/><circle cx="324.1" cy="313.0" r="2.6"/><circle cx="324.1" cy="343.4" r="2.6"/><circle cx="324.6" cy="315.3" r="2.6"/><circle cx="325.1" cy="334.3" r="2.6"/><circle cx="325.3" cy="201.7" r="2.6"/><circle cx="325.3" cy="263.6" r="2.6"/><circle cx="325.3" cy="330.5" r="2.6"/><circle cx="325.3" cy="335.2" r="2.6"/><circle cx="325.4" cy="322.7" r="2.6"/><circle cx="325.7" cy="74.3" r="2.6"/><circle cx="326.6" cy="360.3" r="2.6"/><circle cx="327.1" cy="319.9" r="2.6"/><circle cx="327.1" cy="195.0" r="2.6"/><circle cx="327.2" cy="313.6" r="2.6"/><circle cx="327.4" cy="335.4" r="2.6"/><circle cx="327.5" cy="360.0" r="2.6"/><circle cx="327.6" cy="317.7" r="2.6"/><circle cx="327.6" cy="359.7" r="2.6"/><circle cx="327.7" cy="361.9" r="2.6"/><circle cx="328.0" cy="344.4" r="2.6"/><circle cx="328.8" cy="299.0" r="2.6"/><circle cx="328.8" cy="324.7" r="2.6"/><circle cx="328.8" cy="345.7" r="2.6"/><circle cx="329.7" cy="94.1" r="2.6"/><circle cx="329.9" cy="96.5" r="2.6"/><circle cx="329.9" cy="166.2" r="2.6"/><circle cx="329.9" cy="351.6" r="2.6"/><circle cx="330.6" cy="169.7" r="2.6"/><circle cx="331.2" cy="368.1" r="2.6"/><circle cx="332.3" cy="294.3" r="2.6"/><circle cx="332.3" cy="329.4" r="2.6"/><circle cx="333.0" cy="273.6" r="2.6"/><circle cx="333.4" cy="335.2" r="2.6"/><circle cx="333.4" cy="360.9" r="2.6"/><circle cx="333.6" cy="353.6" r="2.6"/><circle cx="334.8" cy="353.6" r="2.6"/><circle cx="335.5" cy="88.1" r="2.6"/><circle cx="335.6" cy="355.7" r="2.6"/><circle cx="335.8" cy="348.1" r="2.6"/><circle cx="336.9" cy="323.5" r="2.6"/><circle cx="337.4" cy="365.7" r="2.6"/><circle cx="337.8" cy="359.4" r="2.6"/><circle cx="338.1" cy="213.1" r="2.6"/><circle cx="338.1" cy="267.1" r="2.6"/><circle cx="338.1" cy="272.9" r="2.6"/><circle cx="338.1" cy="278.3" r="2.6"/><circle cx="338.1" cy="315.4" r="2.6"/><circle cx="338.1" cy="355.1" r="2.6"/><circle cx="338.2" cy="364.9" r="2.6"/><circle cx="338.6" cy="344.8" r="2.6"/><circle cx="338.8" cy="232.0" r="2.6"/><circle cx="339.1" cy="357.1" r="2.6"/><circle cx="339.7" cy="317.9" r="2.6"/><circle cx="339.7" cy="244.4" r="2.6"/><circle cx="340.2" cy="336.4" r="2.6"/><circle cx="340.4" cy="306.0" r="2.6"/><circle cx="340.4" cy="329.4" r="2.6"/><circle cx="340.4" cy="341.1" r="2.6"/><circle cx="340.4" cy="359.7" r="2.6"/><circle cx="340.5" cy="353.8" r="2.6"/><circle cx="340.7" cy="352.4" r="2.6"/><circle cx="341.0" cy="367.5" r="2.6"/><circle cx="342.1" cy="271.8" r="2.6"/><circle cx="342.7" cy="331.1" r="2.6"/><circle cx="342.8" cy="267.1" r="2.6"/><circle cx="342.8" cy="279.9" r="2.6"/><circle cx="342.8" cy="288.5" r="2.6"/><circle cx="342.8" cy="321.2" r="2.6"/><circle cx="342.8" cy="346.9" r="2.6"/><circle cx="343.3" cy="354.8" r="2.6"/><circle cx="343.4" cy="355.2" r="2.6"/><circle cx="343.5" cy="318.6" r="2.6"/><circle cx="343.5" cy="361.1" r="2.6"/><circle cx="343.7" cy="366.0" r="2.6"/><circle cx="343.7" cy="365.2" r="2.6"/><circle cx="343.8" cy="351.7" r="2.6"/><circle cx="343.8" cy="351.3" r="2.6"/><circle cx="343.8" cy="366.0" r="2.6"/><circle cx="343.9" cy="284.6" r="2.6"/><circle cx="343.9" cy="310.7" r="2.6"/><circle cx="343.9" cy="352.7" r="2.6"/><circle cx="344.1" cy="355.8" r="2.6"/><circle cx="344.4" cy="359.8" r="2.6"/><circle cx="344.4" cy="366.3" r="2.6"/><circle cx="344.5" cy="352.0" r="2.6"/><circle cx="345.1" cy="275.3" r="2.6"/><circle cx="345.1" cy="327.0" r="2.6"/><circle cx="345.8" cy="367.4" r="2.6"/><circle cx="346.0" cy="352.2" r="2.6"/><circle cx="346.3" cy="361.1" r="2.6"/><circle cx="346.3" cy="268.2" r="2.6"/><circle cx="346.3" cy="288.1" r="2.6"/><circle cx="346.3" cy="315.4" r="2.6"/><circle cx="346.3" cy="338.7" r="2.6"/><circle cx="346.3" cy="358.6" r="2.6"/><circle cx="346.5" cy="356.2" r="2.6"/><circle cx="346.9" cy="333.0" r="2.6"/><circle cx="347.0" cy="251.2" r="2.6"/><circle cx="347.0" cy="260.1" r="2.6"/><circle cx="347.3" cy="327.7" r="2.6"/><circle cx="347.4" cy="228.5" r="2.6"/><circle cx="347.4" cy="236.2" r="2.6"/><circle cx="347.4" cy="244.9" r="2.6"/><circle cx="347.4" cy="255.4" r="2.6"/><circle cx="347.4" cy="281.1" r="2.6"/><circle cx="347.6" cy="311.8" r="2.6"/><circle cx="347.8" cy="337.3" r="2.6"/></g>
<rect x="348.1" y="364.4" width="37.8" height="20.5" rx="1.3" fill="#9E9E9E"/>
<g fill="#F5C710"><circle cx="348.2" cy="360.4" r="2.6"/><circle cx="348.6" cy="322.4" r="2.6"/></g>
<g fill="#9E9E9E"><circle cx="348.7" cy="361.8" r="2.6"/><circle cx="348.8" cy="356.9" r="2.6"/><circle cx="349.0" cy="321.5" r="2.6"/><circle cx="349.1" cy="342.6" r="2.6"/><circle cx="349.2" cy="360.7" r="2.6"/><circle cx="349.3" cy="353.4" r="2.6"/><circle cx="349.8" cy="183.8" r="2.6"/><circle cx="349.8" cy="189.6" r="2.6"/><circle cx="349.8" cy="191.9" r="2.6"/><circle cx="349.8" cy="264.7" r="2.6"/><circle cx="349.8" cy="287.3" r="2.6"/><circle cx="350.4" cy="286.6" r="2.6"/><circle cx="350.5" cy="158.1" r="2.6"/><circle cx="350.5" cy="181.0" r="2.6"/><circle cx="350.8" cy="330.2" r="2.6"/><circle cx="350.9" cy="293.8" r="2.6"/><circle cx="350.9" cy="351.2" r="2.6"/><circle cx="350.9" cy="163.9" r="2.6"/><circle cx="350.9" cy="294.3" r="2.6"/><circle cx="350.9" cy="328.2" r="2.6"/><circle cx="350.9" cy="344.6" r="2.6"/><circle cx="350.9" cy="352.7" r="2.6"/><circle cx="351.0" cy="350.9" r="2.6"/><circle cx="351.4" cy="359.1" r="2.6"/><circle cx="351.4" cy="83.6" r="2.6"/><circle cx="351.4" cy="361.9" r="2.6"/><circle cx="351.6" cy="161.1" r="2.6"/><circle cx="351.7" cy="354.1" r="2.6"/><circle cx="351.8" cy="300.0" r="2.6"/><circle cx="351.9" cy="94.1" r="2.6"/><circle cx="352.1" cy="305.5" r="2.6"/><circle cx="352.1" cy="360.0" r="2.6"/><circle cx="352.1" cy="261.2" r="2.6"/><circle cx="352.1" cy="272.9" r="2.6"/><circle cx="352.1" cy="282.3" r="2.6"/><circle cx="352.1" cy="308.4" r="2.6"/><circle cx="352.1" cy="315.4" r="2.6"/><circle cx="352.1" cy="336.4" r="2.6"/><circle cx="352.1" cy="359.7" r="2.6"/><circle cx="352.2" cy="364.7" r="2.6"/><circle cx="352.5" cy="340.7" r="2.6"/><circle cx="352.6" cy="352.5" r="2.6"/><circle cx="353.3" cy="155.3" r="2.6"/><circle cx="353.3" cy="226.7" r="2.6"/><circle cx="353.3" cy="301.4" r="2.6"/><circle cx="353.7" cy="301.1" r="2.6"/><circle cx="353.8" cy="337.8" r="2.6"/><circle cx="354.2" cy="354.8" r="2.6"/><circle cx="354.5" cy="233.9" r="2.6"/><circle cx="354.5" cy="259.6" r="2.6"/><circle cx="354.5" cy="285.8" r="2.6"/><circle cx="354.6" cy="339.5" r="2.6"/><circle cx="355.0" cy="319.1" r="2.6"/><circle cx="355.1" cy="322.8" r="2.6"/><circle cx="355.6" cy="265.9" r="2.6"/><circle cx="356.0" cy="290.7" r="2.6"/><circle cx="356.1" cy="352.3" r="2.6"/><circle cx="356.1" cy="356.9" r="2.6"/><circle cx="356.2" cy="358.4" r="2.6"/><circle cx="356.5" cy="354.1" r="2.6"/><circle cx="356.8" cy="310.7" r="2.6"/><circle cx="356.8" cy="343.4" r="2.6"/><circle cx="356.8" cy="358.6" r="2.6"/><circle cx="357.9" cy="287.7" r="2.6"/><circle cx="358.0" cy="314.2" r="2.6"/><circle cx="358.0" cy="327.0" r="2.6"/><circle cx="358.3" cy="328.4" r="2.6"/><circle cx="358.3" cy="304.5" r="2.6"/><circle cx="359.1" cy="267.1" r="2.6"/><circle cx="359.1" cy="270.6" r="2.6"/><circle cx="359.1" cy="335.2" r="2.6"/><circle cx="359.1" cy="351.6" r="2.6"/><circle cx="359.9" cy="360.7" r="2.6"/><circle cx="360.1" cy="315.2" r="2.6"/><circle cx="360.2" cy="330.4" r="2.6"/><circle cx="360.3" cy="333.2" r="2.6"/><circle cx="360.3" cy="318.9" r="2.6"/><circle cx="360.8" cy="352.7" r="2.6"/><circle cx="360.9" cy="365.3" r="2.6"/><circle cx="361.0" cy="224.6" r="2.6"/><circle cx="361.5" cy="286.9" r="2.6"/><circle cx="361.5" cy="295.5" r="2.6"/><circle cx="361.5" cy="301.4" r="2.6"/><circle cx="361.5" cy="308.4" r="2.6"/><circle cx="361.5" cy="346.9" r="2.6"/><circle cx="361.7" cy="309.3" r="2.6"/><circle cx="362.0" cy="285.7" r="2.6"/><circle cx="362.4" cy="355.1" r="2.6"/><circle cx="362.6" cy="331.7" r="2.6"/><circle cx="362.7" cy="339.1" r="2.6"/><circle cx="362.9" cy="291.5" r="2.6"/><circle cx="363.2" cy="358.4" r="2.6"/><circle cx="363.8" cy="359.7" r="2.6"/><circle cx="365.2" cy="365.7" r="2.6"/><circle cx="365.5" cy="289.3" r="2.6"/><circle cx="365.5" cy="310.8" r="2.6"/><circle cx="366.1" cy="366.2" r="2.6"/><circle cx="366.6" cy="354.3" r="2.6"/><circle cx="366.7" cy="358.6" r="2.6"/><circle cx="366.8" cy="143.6" r="2.6"/><circle cx="367.1" cy="364.8" r="2.6"/><circle cx="367.3" cy="356.7" r="2.6"/><circle cx="367.6" cy="354.8" r="2.6"/><circle cx="369.1" cy="366.1" r="2.6"/><circle cx="369.6" cy="269.4" r="2.6"/><circle cx="370.1" cy="358.1" r="2.6"/><circle cx="370.1" cy="352.0" r="2.6"/><circle cx="370.1" cy="361.5" r="2.6"/><circle cx="370.6" cy="364.0" r="2.6"/><circle cx="370.6" cy="356.4" r="2.6"/><circle cx="370.8" cy="276.4" r="2.6"/><circle cx="370.8" cy="284.6" r="2.6"/><circle cx="370.8" cy="294.3" r="2.6"/><circle cx="370.8" cy="334.1" r="2.6"/><circle cx="370.8" cy="341.1" r="2.6"/><circle cx="370.8" cy="352.7" r="2.6"/><circle cx="370.8" cy="360.9" r="2.6"/><circle cx="371.4" cy="362.3" r="2.6"/><circle cx="372.0" cy="226.7" r="2.6"/><circle cx="372.0" cy="240.2" r="2.6"/><circle cx="372.0" cy="256.6" r="2.6"/><circle cx="372.4" cy="358.1" r="2.6"/><circle cx="372.8" cy="365.0" r="2.6"/><circle cx="373.0" cy="365.2" r="2.6"/><circle cx="373.1" cy="261.2" r="2.6"/><circle cx="373.1" cy="272.9" r="2.6"/><circle cx="373.1" cy="301.4" r="2.6"/><circle cx="373.1" cy="308.4" r="2.6"/><circle cx="373.1" cy="321.2" r="2.6"/><circle cx="375.8" cy="354.4" r="2.6"/><circle cx="376.6" cy="86.9" r="2.6"/><circle cx="377.6" cy="361.4" r="2.6"/><circle cx="377.8" cy="267.1" r="2.6"/><circle cx="377.8" cy="343.4" r="2.6"/><circle cx="377.8" cy="355.1" r="2.6"/><circle cx="378.7" cy="364.7" r="2.6"/><circle cx="379.0" cy="278.8" r="2.6"/><circle cx="379.0" cy="358.6" r="2.6"/><circle cx="379.3" cy="359.2" r="2.6"/><circle cx="379.9" cy="363.8" r="2.6"/><circle cx="380.1" cy="288.5" r="2.6"/><circle cx="380.1" cy="309.5" r="2.6"/><circle cx="380.3" cy="359.3" r="2.6"/><circle cx="380.4" cy="358.7" r="2.6"/><circle cx="380.9" cy="354.3" r="2.6"/><circle cx="381.3" cy="301.4" r="2.6"/><circle cx="381.3" cy="320.0" r="2.6"/><circle cx="381.3" cy="327.0" r="2.6"/><circle cx="382.1" cy="353.4" r="2.6"/><circle cx="382.3" cy="350.6" r="2.6"/><circle cx="382.5" cy="294.3" r="2.6"/><circle cx="382.5" cy="337.6" r="2.6"/><circle cx="382.5" cy="345.7" r="2.6"/><circle cx="383.2" cy="216.2" r="2.6"/><circle cx="383.2" cy="354.8" r="2.6"/><circle cx="383.6" cy="352.8" r="2.6"/><circle cx="383.6" cy="282.3" r="2.6"/><circle cx="383.6" cy="353.9" r="2.6"/><circle cx="384.8" cy="235.5" r="2.6"/><circle cx="384.8" cy="260.1" r="2.6"/><circle cx="384.8" cy="317.7" r="2.6"/><circle cx="384.8" cy="354.1" r="2.6"/><circle cx="385.1" cy="362.6" r="2.6"/></g>
<rect x="385.5" y="355.1" width="15.6" height="29.8" rx="1.3" fill="#000000"/>
<g fill="#9E9E9E"><circle cx="385.8" cy="361.9" r="2.6"/><circle cx="385.9" cy="356.2" r="2.6"/><circle cx="386.0" cy="239.1" r="2.6"/><circle cx="386.0" cy="285.8" r="2.6"/><circle cx="386.0" cy="299.0" r="2.6"/><circle cx="386.0" cy="310.7" r="2.6"/></g>
<g fill="#000000"><circle cx="386.5" cy="335.5" r="2.6"/><circle cx="387.1" cy="349.7" r="2.6"/><circle cx="387.8" cy="291.1" r="2.6"/><circle cx="388.3" cy="113.2" r="2.6"/><circle cx="388.3" cy="195.0" r="2.6"/><circle cx="388.3" cy="320.0" r="2.6"/><circle cx="388.8" cy="337.4" r="2.6"/><circle cx="389.2" cy="350.1" r="2.6"/><circle cx="389.2" cy="314.5" r="2.6"/><circle cx="389.2" cy="355.6" r="2.6"/><circle cx="389.5" cy="259.4" r="2.6"/><circle cx="389.5" cy="313.0" r="2.6"/><circle cx="389.5" cy="327.0" r="2.6"/><circle cx="389.5" cy="335.2" r="2.6"/><circle cx="389.5" cy="350.4" r="2.6"/><circle cx="389.5" cy="358.6" r="2.6"/><circle cx="389.7" cy="332.1" r="2.6"/><circle cx="390.0" cy="281.1" r="2.6"/><circle cx="390.2" cy="326.0" r="2.6"/><circle cx="390.4" cy="328.6" r="2.6"/><circle cx="390.6" cy="340.5" r="2.6"/><circle cx="390.7" cy="343.4" r="2.6"/><circle cx="390.7" cy="285.8" r="2.6"/><circle cx="391.1" cy="286.1" r="2.6"/><circle cx="391.4" cy="169.7" r="2.6"/><circle cx="391.5" cy="327.9" r="2.6"/><circle cx="391.8" cy="331.8" r="2.6"/><circle cx="391.8" cy="95.3" r="2.6"/><circle cx="392.0" cy="354.5" r="2.6"/><circle cx="392.3" cy="19.6" r="2.6"/><circle cx="392.4" cy="307.0" r="2.6"/><circle cx="393.0" cy="324.3" r="2.6"/><circle cx="393.0" cy="285.8" r="2.6"/><circle cx="393.0" cy="296.7" r="2.6"/><circle cx="393.5" cy="291.5" r="2.6"/><circle cx="393.5" cy="354.1" r="2.6"/><circle cx="393.5" cy="308.0" r="2.6"/><circle cx="393.6" cy="342.3" r="2.6"/><circle cx="393.8" cy="350.4" r="2.6"/><circle cx="394.2" cy="73.1" r="2.6"/><circle cx="394.2" cy="169.7" r="2.6"/><circle cx="394.2" cy="306.0" r="2.6"/><circle cx="394.2" cy="320.0" r="2.6"/><circle cx="394.2" cy="336.4" r="2.6"/><circle cx="394.2" cy="352.7" r="2.6"/></g>
<rect x="394.3" y="358.6" width="26.4" height="26.3" rx="1.3" fill="#000000"/>
<g fill="#000000"><circle cx="394.4" cy="312.7" r="2.6"/><circle cx="394.6" cy="205.9" r="2.6"/><circle cx="395.1" cy="289.8" r="2.6"/><circle cx="395.2" cy="308.7" r="2.6"/><circle cx="395.2" cy="356.7" r="2.6"/><circle cx="395.3" cy="289.3" r="2.6"/><circle cx="395.3" cy="313.0" r="2.6"/><circle cx="395.3" cy="359.7" r="2.6"/><circle cx="395.4" cy="330.4" r="2.6"/><circle cx="395.5" cy="308.3" r="2.6"/><circle cx="395.7" cy="317.7" r="2.6"/><circle cx="395.8" cy="358.9" r="2.6"/><circle cx="395.8" cy="348.0" r="2.6"/><circle cx="396.1" cy="346.2" r="2.6"/><circle cx="396.2" cy="331.7" r="2.6"/><circle cx="396.5" cy="294.6" r="2.6"/><circle cx="396.5" cy="325.9" r="2.6"/><circle cx="396.5" cy="344.6" r="2.6"/><circle cx="396.6" cy="354.2" r="2.6"/><circle cx="396.7" cy="285.1" r="2.6"/><circle cx="396.7" cy="344.7" r="2.6"/><circle cx="396.8" cy="338.4" r="2.6"/><circle cx="397.3" cy="349.2" r="2.6"/><circle cx="397.4" cy="340.9" r="2.6"/><circle cx="397.4" cy="285.6" r="2.6"/><circle cx="397.6" cy="360.3" r="2.6"/><circle cx="397.6" cy="358.2" r="2.6"/><circle cx="397.9" cy="311.6" r="2.6"/><circle cx="397.9" cy="329.0" r="2.6"/><circle cx="398.0" cy="354.7" r="2.6"/><circle cx="398.0" cy="357.3" r="2.6"/><circle cx="398.3" cy="322.8" r="2.6"/><circle cx="398.5" cy="354.6" r="2.6"/><circle cx="398.5" cy="337.0" r="2.6"/><circle cx="398.8" cy="299.0" r="2.6"/><circle cx="398.8" cy="308.4" r="2.6"/><circle cx="398.8" cy="338.7" r="2.6"/><circle cx="398.8" cy="355.1" r="2.6"/><circle cx="399.2" cy="322.5" r="2.6"/><circle cx="399.3" cy="340.6" r="2.6"/><circle cx="399.5" cy="360.9" r="2.6"/><circle cx="399.5" cy="226.7" r="2.6"/><circle cx="399.5" cy="264.7" r="2.6"/><circle cx="399.6" cy="347.5" r="2.6"/><circle cx="399.8" cy="343.7" r="2.6"/><circle cx="400.0" cy="292.0" r="2.6"/><circle cx="400.0" cy="315.4" r="2.6"/><circle cx="400.0" cy="329.4" r="2.6"/><circle cx="400.1" cy="348.1" r="2.6"/><circle cx="400.2" cy="299.9" r="2.6"/><circle cx="400.3" cy="345.6" r="2.6"/><circle cx="400.5" cy="301.4" r="2.6"/><circle cx="400.5" cy="285.6" r="2.6"/><circle cx="400.6" cy="302.4" r="2.6"/><circle cx="400.8" cy="31.1" r="2.6"/><circle cx="401.0" cy="296.4" r="2.6"/><circle cx="401.2" cy="347.2" r="2.6"/><circle cx="401.4" cy="358.1" r="2.6"/><circle cx="401.6" cy="323.6" r="2.6"/><circle cx="402.0" cy="336.4" r="2.6"/><circle cx="402.5" cy="347.5" r="2.6"/><circle cx="402.7" cy="299.0" r="2.6"/><circle cx="403.2" cy="266.6" r="2.6"/><circle cx="403.2" cy="286.9" r="2.6"/><circle cx="404.0" cy="348.7" r="2.6"/><circle cx="404.2" cy="333.0" r="2.6"/><circle cx="404.3" cy="326.8" r="2.6"/><circle cx="404.3" cy="300.2" r="2.6"/><circle cx="404.3" cy="318.9" r="2.6"/><circle cx="404.3" cy="348.1" r="2.6"/><circle cx="404.7" cy="340.0" r="2.6"/><circle cx="405.5" cy="331.7" r="2.6"/><circle cx="405.6" cy="349.6" r="2.6"/><circle cx="406.0" cy="91.1" r="2.6"/><circle cx="406.1" cy="348.1" r="2.6"/><circle cx="406.1" cy="350.6" r="2.6"/><circle cx="406.2" cy="329.6" r="2.6"/><circle cx="406.6" cy="354.4" r="2.6"/><circle cx="406.7" cy="107.8" r="2.6"/><circle cx="406.7" cy="279.2" r="2.6"/><circle cx="406.8" cy="323.9" r="2.6"/><circle cx="406.9" cy="349.9" r="2.6"/><circle cx="407.0" cy="325.9" r="2.6"/><circle cx="407.3" cy="331.6" r="2.6"/><circle cx="407.8" cy="306.0" r="2.6"/><circle cx="408.3" cy="344.9" r="2.6"/><circle cx="408.9" cy="343.1" r="2.6"/><circle cx="409.0" cy="326.7" r="2.6"/><circle cx="409.0" cy="287.3" r="2.6"/><circle cx="409.0" cy="341.1" r="2.6"/><circle cx="409.1" cy="285.6" r="2.6"/><circle cx="409.5" cy="278.3" r="2.6"/><circle cx="409.8" cy="326.3" r="2.6"/><circle cx="409.9" cy="360.9" r="2.6"/><circle cx="410.2" cy="294.3" r="2.6"/><circle cx="410.2" cy="325.9" r="2.6"/><circle cx="411.0" cy="358.4" r="2.6"/><circle cx="411.0" cy="324.2" r="2.6"/><circle cx="411.4" cy="314.2" r="2.6"/><circle cx="411.4" cy="350.4" r="2.6"/><circle cx="411.8" cy="115.6" r="2.6"/><circle cx="411.8" cy="232.0" r="2.6"/><circle cx="411.9" cy="327.9" r="2.6"/><circle cx="412.3" cy="359.7" r="2.6"/><circle cx="412.4" cy="358.2" r="2.6"/><circle cx="412.5" cy="88.8" r="2.6"/><circle cx="412.5" cy="285.8" r="2.6"/><circle cx="413.2" cy="90.2" r="2.6"/><circle cx="413.5" cy="359.6" r="2.6"/><circle cx="413.6" cy="342.7" r="2.6"/><circle cx="413.7" cy="335.2" r="2.6"/><circle cx="414.0" cy="345.4" r="2.6"/><circle cx="414.1" cy="289.3" r="2.6"/><circle cx="414.9" cy="113.7" r="2.6"/><circle cx="414.9" cy="306.0" r="2.6"/><circle cx="414.9" cy="358.4" r="2.6"/><circle cx="414.9" cy="355.4" r="2.6"/><circle cx="415.3" cy="360.5" r="2.6"/><circle cx="415.6" cy="117.2" r="2.6"/><circle cx="415.9" cy="324.1" r="2.6"/><circle cx="416.0" cy="120.7" r="2.6"/><circle cx="416.0" cy="324.7" r="2.6"/><circle cx="416.0" cy="344.6" r="2.6"/><circle cx="416.2" cy="361.2" r="2.6"/><circle cx="416.5" cy="125.4" r="2.6"/><circle cx="416.7" cy="348.0" r="2.6"/><circle cx="416.8" cy="346.1" r="2.6"/><circle cx="417.1" cy="343.8" r="2.6"/><circle cx="417.2" cy="112.5" r="2.6"/><circle cx="417.2" cy="131.2" r="2.6"/><circle cx="417.2" cy="295.5" r="2.6"/><circle cx="417.4" cy="326.4" r="2.6"/><circle cx="417.6" cy="354.9" r="2.6"/><circle cx="417.7" cy="264.3" r="2.6"/><circle cx="417.9" cy="268.2" r="2.6"/><circle cx="418.0" cy="358.2" r="2.6"/><circle cx="418.2" cy="335.2" r="2.6"/><circle cx="418.4" cy="111.4" r="2.6"/><circle cx="418.4" cy="175.6" r="2.6"/><circle cx="418.4" cy="199.3" r="2.6"/><circle cx="418.4" cy="204.0" r="2.6"/><circle cx="418.4" cy="288.1" r="2.6"/><circle cx="418.4" cy="308.4" r="2.6"/><circle cx="418.4" cy="315.4" r="2.6"/><circle cx="418.4" cy="339.9" r="2.6"/><circle cx="418.4" cy="349.2" r="2.6"/><circle cx="418.8" cy="177.2" r="2.6"/><circle cx="418.8" cy="202.1" r="2.6"/><circle cx="418.8" cy="359.8" r="2.6"/><circle cx="419.3" cy="343.9" r="2.6"/><circle cx="419.5" cy="185.6" r="2.6"/><circle cx="420.6" cy="349.6" r="2.6"/><circle cx="420.7" cy="301.4" r="2.6"/></g>
<polygon points="421.9,346.9 430.0,345.7 433.5,359.7 438.2,346.9 440.5,348.1 440.5,384.9 421.2,384.9" fill="#DF536B"/>
<g fill="#000000"><circle cx="422.6" cy="107.8" r="2.6"/></g>
<g fill="#DF536B"><circle cx="422.6" cy="138.2" r="2.6"/><circle cx="423.0" cy="251.2" r="2.6"/><circle cx="423.0" cy="294.3" r="2.6"/><circle cx="423.0" cy="323.5" r="2.6"/><circle cx="423.0" cy="331.7" r="2.6"/><circle cx="424.9" cy="269.9" r="2.6"/><circle cx="425.4" cy="295.5" r="2.6"/><circle cx="425.8" cy="278.3" r="2.6"/><circle cx="426.1" cy="208.7" r="2.6"/><circle cx="426.5" cy="283.4" r="2.6"/><circle cx="428.9" cy="335.2" r="2.6"/><circle cx="429.6" cy="284.6" r="2.6"/><circle cx="430.0" cy="193.6" r="2.6"/><circle cx="430.0" cy="241.4" r="2.6"/><circle cx="430.0" cy="303.7" r="2.6"/><circle cx="430.0" cy="309.5" r="2.6"/><circle cx="430.0" cy="341.1" r="2.6"/><circle cx="430.3" cy="181.4" r="2.6"/><circle cx="431.2" cy="315.4" r="2.6"/><circle cx="432.4" cy="330.5" r="2.6"/><circle cx="432.8" cy="253.8" r="2.6"/><circle cx="433.1" cy="268.7" r="2.6"/><circle cx="433.5" cy="303.2" r="2.6"/><circle cx="433.5" cy="348.1" r="2.6"/><circle cx="434.0" cy="165.5" r="2.6"/><circle cx="434.2" cy="124.7" r="2.6"/><circle cx="434.7" cy="336.4" r="2.6"/><circle cx="435.2" cy="88.8" r="2.6"/><circle cx="435.2" cy="93.0" r="2.6"/><circle cx="435.9" cy="323.5" r="2.6"/><circle cx="436.6" cy="42.7" r="2.6"/><circle cx="436.6" cy="75.2" r="2.6"/><circle cx="437.0" cy="270.1" r="2.6"/><circle cx="437.0" cy="346.9" r="2.6"/><circle cx="437.7" cy="195.0" r="2.6"/><circle cx="437.7" cy="198.9" r="2.6"/><circle cx="438.2" cy="237.2" r="2.6"/><circle cx="438.2" cy="341.1" r="2.6"/><circle cx="439.4" cy="295.5" r="2.6"/><circle cx="440.1" cy="253.1" r="2.6"/><circle cx="440.5" cy="279.5" r="2.6"/></g>
<rect x="440.5" y="351.6" width="23.8" height="33.3" rx="1.3" fill="#61D04F"/>
<g fill="#DF536B"><circle cx="441.7" cy="275.3" r="2.6"/></g>
<g fill="#61D04F"><circle cx="441.9" cy="294.8" r="2.6"/><circle cx="442.4" cy="218.5" r="2.6"/><circle cx="442.9" cy="276.9" r="2.6"/><circle cx="442.9" cy="315.4" r="2.6"/><circle cx="443.4" cy="291.1" r="2.6"/><circle cx="444.1" cy="299.0" r="2.6"/><circle cx="444.1" cy="327.0" r="2.6"/><circle cx="444.1" cy="351.5" r="2.6"/><circle cx="444.3" cy="55.4" r="2.6"/><circle cx="444.9" cy="286.4" r="2.6"/><circle cx="445.2" cy="308.4" r="2.6"/><circle cx="445.2" cy="320.0" r="2.6"/><circle cx="445.2" cy="339.9" r="2.6"/><circle cx="446.2" cy="351.5" r="2.6"/><circle cx="446.4" cy="284.6" r="2.6"/><circle cx="446.6" cy="286.9" r="2.6"/><circle cx="446.9" cy="255.9" r="2.6"/><circle cx="447.0" cy="287.0" r="2.6"/><circle cx="447.3" cy="121.9" r="2.6"/><circle cx="447.6" cy="332.9" r="2.6"/><circle cx="448.3" cy="253.1" r="2.6"/><circle cx="448.7" cy="288.1" r="2.6"/><circle cx="448.7" cy="348.1" r="2.6"/><circle cx="449.5" cy="352.4" r="2.6"/><circle cx="449.9" cy="248.4" r="2.6"/><circle cx="449.9" cy="299.0" r="2.6"/><circle cx="450.0" cy="292.2" r="2.6"/><circle cx="450.1" cy="290.6" r="2.6"/><circle cx="450.4" cy="262.4" r="2.6"/><circle cx="450.4" cy="276.4" r="2.6"/><circle cx="450.6" cy="271.3" r="2.6"/><circle cx="450.6" cy="283.4" r="2.6"/><circle cx="451.1" cy="234.4" r="2.6"/><circle cx="451.1" cy="259.6" r="2.6"/><circle cx="451.1" cy="315.4" r="2.6"/><circle cx="451.1" cy="341.1" r="2.6"/><circle cx="452.2" cy="240.2" r="2.6"/><circle cx="452.2" cy="285.8" r="2.6"/><circle cx="452.2" cy="307.2" r="2.6"/><circle cx="452.2" cy="331.7" r="2.6"/><circle cx="452.8" cy="293.1" r="2.6"/><circle cx="452.9" cy="233.9" r="2.6"/><circle cx="452.9" cy="244.9" r="2.6"/><circle cx="453.6" cy="289.4" r="2.6"/><circle cx="454.3" cy="297.6" r="2.6"/><circle cx="454.4" cy="297.7" r="2.6"/><circle cx="454.5" cy="352.8" r="2.6"/><circle cx="454.6" cy="260.1" r="2.6"/><circle cx="454.6" cy="294.3" r="2.6"/><circle cx="455.1" cy="350.9" r="2.6"/><circle cx="455.7" cy="349.2" r="2.6"/><circle cx="458.1" cy="330.5" r="2.6"/><circle cx="458.1" cy="341.1" r="2.6"/><circle cx="458.5" cy="260.1" r="2.6"/><circle cx="458.8" cy="352.8" r="2.6"/><circle cx="459.3" cy="350.4" r="2.6"/><circle cx="459.5" cy="287.9" r="2.6"/><circle cx="460.4" cy="306.0" r="2.6"/><circle cx="460.4" cy="320.0" r="2.6"/><circle cx="460.4" cy="335.2" r="2.6"/><circle cx="460.4" cy="346.9" r="2.6"/><circle cx="460.9" cy="132.8" r="2.6"/><circle cx="462.0" cy="207.5" r="2.6"/><circle cx="462.0" cy="244.9" r="2.6"/><circle cx="462.1" cy="291.1" r="2.6"/><circle cx="462.3" cy="114.2" r="2.6"/><circle cx="462.5" cy="290.2" r="2.6"/><circle cx="462.7" cy="292.0" r="2.6"/><circle cx="462.7" cy="299.0" r="2.6"/><circle cx="462.7" cy="339.9" r="2.6"/></g>
<rect x="463.7" y="357.4" width="12.4" height="27.5" rx="1.3" fill="#2297E6"/>
<g fill="#61D04F"><circle cx="463.7" cy="285.7" r="2.6"/><circle cx="463.9" cy="303.7" r="2.6"/><circle cx="463.9" cy="313.0" r="2.6"/><circle cx="463.9" cy="328.2" r="2.6"/></g>
<g fill="#2297E6"><circle cx="465.1" cy="306.0" r="2.6"/><circle cx="465.1" cy="350.4" r="2.6"/><circle cx="466.2" cy="227.4" r="2.6"/><circle cx="466.2" cy="315.4" r="2.6"/><circle cx="466.2" cy="334.1" r="2.6"/><circle cx="466.5" cy="213.4" r="2.6"/><circle cx="466.5" cy="356.1" r="2.6"/><circle cx="466.7" cy="200.5" r="2.6"/><circle cx="466.9" cy="206.8" r="2.6"/><circle cx="466.9" cy="219.9" r="2.6"/><circle cx="466.9" cy="253.5" r="2.6"/><circle cx="467.4" cy="263.6" r="2.6"/><circle cx="467.4" cy="289.7" r="2.6"/><circle cx="467.9" cy="197.0" r="2.6"/><circle cx="467.9" cy="267.5" r="2.6"/><circle cx="467.9" cy="283.4" r="2.6"/><circle cx="468.5" cy="357.8" r="2.6"/><circle cx="469.3" cy="247.5" r="2.6"/><circle cx="469.7" cy="320.0" r="2.6"/><circle cx="470.9" cy="349.2" r="2.6"/><circle cx="472.1" cy="136.6" r="2.6"/><circle cx="472.1" cy="139.4" r="2.6"/><circle cx="472.1" cy="140.5" r="2.6"/><circle cx="472.1" cy="314.2" r="2.6"/><circle cx="472.1" cy="331.7" r="2.6"/><circle cx="472.5" cy="160.4" r="2.6"/><circle cx="472.5" cy="180.5" r="2.6"/><circle cx="473.3" cy="356.0" r="2.6"/><circle cx="474.4" cy="253.1" r="2.6"/><circle cx="474.4" cy="286.9" r="2.6"/><circle cx="474.4" cy="315.4" r="2.6"/><circle cx="474.4" cy="342.2" r="2.6"/></g>
<rect x="474.4" y="365.6" width="57.2" height="19.3" rx="1.3" fill="#28E2E5"/>
<g fill="#28E2E5"><circle cx="475.5" cy="365.1" r="2.6"/></g>
<g fill="#2297E6"><circle cx="475.6" cy="335.2" r="2.6"/></g>
<g fill="#28E2E5"><circle cx="476.8" cy="329.4" r="2.6"/><circle cx="477.5" cy="250.7" r="2.6"/><circle cx="477.7" cy="366.3" r="2.6"/><circle cx="477.9" cy="271.8" r="2.6"/><circle cx="477.9" cy="275.3" r="2.6"/><circle cx="477.9" cy="309.5" r="2.6"/><circle cx="478.2" cy="356.7" r="2.6"/><circle cx="478.4" cy="359.9" r="2.6"/><circle cx="478.6" cy="285.8" r="2.6"/><circle cx="479.0" cy="366.1" r="2.6"/><circle cx="479.1" cy="149.2" r="2.6"/><circle cx="479.1" cy="316.5" r="2.6"/><circle cx="479.7" cy="367.0" r="2.6"/><circle cx="480.3" cy="229.7" r="2.6"/><circle cx="480.3" cy="306.0" r="2.6"/><circle cx="480.3" cy="344.6" r="2.6"/><circle cx="481.4" cy="143.6" r="2.6"/><circle cx="482.6" cy="322.4" r="2.6"/><circle cx="482.6" cy="332.9" r="2.6"/><circle cx="482.6" cy="350.4" r="2.6"/><circle cx="483.8" cy="295.5" r="2.6"/><circle cx="485.4" cy="365.9" r="2.6"/><circle cx="485.6" cy="366.4" r="2.6"/><circle cx="486.0" cy="366.0" r="2.6"/><circle cx="486.6" cy="365.9" r="2.6"/><circle cx="487.3" cy="313.0" r="2.6"/><circle cx="488.0" cy="143.6" r="2.6"/><circle cx="489.6" cy="143.6" r="2.6"/><circle cx="489.6" cy="317.7" r="2.6"/><circle cx="489.6" cy="329.4" r="2.6"/><circle cx="489.6" cy="341.1" r="2.6"/><circle cx="489.9" cy="367.0" r="2.6"/><circle cx="490.8" cy="322.4" r="2.6"/><circle cx="490.8" cy="348.1" r="2.6"/><circle cx="491.2" cy="74.3" r="2.6"/><circle cx="491.6" cy="358.0" r="2.6"/><circle cx="492.6" cy="268.2" r="2.6"/><circle cx="492.8" cy="357.2" r="2.6"/><circle cx="492.8" cy="364.4" r="2.6"/><circle cx="493.1" cy="272.9" r="2.6"/><circle cx="494.1" cy="358.8" r="2.6"/><circle cx="495.4" cy="335.2" r="2.6"/><circle cx="495.4" cy="343.4" r="2.6"/><circle cx="497.8" cy="348.1" r="2.6"/><circle cx="498.2" cy="146.9" r="2.6"/><circle cx="498.2" cy="164.4" r="2.6"/><circle cx="498.6" cy="355.6" r="2.6"/><circle cx="499.6" cy="359.7" r="2.6"/><circle cx="500.1" cy="353.9" r="2.6"/><circle cx="501.3" cy="328.2" r="2.6"/><circle cx="501.4" cy="361.8" r="2.6"/><circle cx="502.4" cy="334.1" r="2.6"/><circle cx="503.6" cy="290.0" r="2.6"/><circle cx="503.7" cy="359.7" r="2.6"/><circle cx="505.8" cy="359.4" r="2.6"/><circle cx="506.3" cy="367.1" r="2.6"/><circle cx="506.3" cy="366.1" r="2.6"/><circle cx="506.5" cy="368.0" r="2.6"/><circle cx="506.7" cy="366.9" r="2.6"/><circle cx="506.7" cy="361.7" r="2.6"/><circle cx="507.1" cy="355.1" r="2.6"/><circle cx="509.9" cy="358.5" r="2.6"/><circle cx="510.9" cy="261.2" r="2.6"/><circle cx="511.1" cy="359.2" r="2.6"/><circle cx="511.3" cy="355.8" r="2.6"/><circle cx="511.8" cy="356.2" r="2.6"/><circle cx="512.3" cy="362.2" r="2.6"/><circle cx="512.8" cy="366.7" r="2.6"/><circle cx="514.1" cy="205.6" r="2.6"/><circle cx="515.4" cy="357.9" r="2.6"/><circle cx="516.0" cy="358.8" r="2.6"/><circle cx="516.5" cy="365.5" r="2.6"/><circle cx="516.5" cy="302.5" r="2.6"/><circle cx="516.5" cy="313.0" r="2.6"/><circle cx="516.5" cy="355.1" r="2.6"/><circle cx="519.8" cy="365.8" r="2.6"/><circle cx="520.4" cy="367.9" r="2.6"/><circle cx="521.1" cy="331.7" r="2.6"/><circle cx="521.2" cy="358.7" r="2.6"/><circle cx="523.4" cy="361.7" r="2.6"/></g>
<rect x="523.8" y="359.7" width="6.3" height="25.2" rx="1.3" fill="#28E2E5"/>
<g fill="#28E2E5"><circle cx="524.3" cy="362.1" r="2.6"/><circle cx="524.6" cy="345.7" r="2.6"/><circle cx="524.7" cy="367.3" r="2.6"/><circle cx="525.5" cy="353.5" r="2.6"/><circle cx="525.5" cy="293.0" r="2.6"/><circle cx="525.8" cy="321.8" r="2.6"/><circle cx="525.8" cy="289.1" r="2.6"/><circle cx="525.8" cy="332.9" r="2.6"/><circle cx="525.8" cy="324.1" r="2.6"/><circle cx="526.1" cy="347.5" r="2.6"/><circle cx="526.2" cy="332.1" r="2.6"/><circle cx="526.2" cy="356.5" r="2.6"/><circle cx="526.8" cy="359.5" r="2.6"/><circle cx="527.0" cy="212.2" r="2.6"/><circle cx="527.0" cy="338.7" r="2.6"/><circle cx="527.0" cy="352.7" r="2.6"/><circle cx="527.2" cy="326.7" r="2.6"/><circle cx="527.3" cy="350.5" r="2.6"/><circle cx="527.3" cy="348.1" r="2.6"/><circle cx="527.4" cy="356.7" r="2.6"/><circle cx="527.4" cy="289.1" r="2.6"/><circle cx="527.4" cy="266.6" r="2.6"/><circle cx="527.7" cy="360.8" r="2.6"/><circle cx="528.1" cy="216.9" r="2.6"/><circle cx="528.1" cy="292.0" r="2.6"/><circle cx="528.1" cy="302.5" r="2.6"/><circle cx="528.1" cy="359.7" r="2.6"/><circle cx="528.6" cy="232.0" r="2.6"/><circle cx="528.8" cy="353.4" r="2.6"/><circle cx="528.9" cy="364.8" r="2.6"/></g>
<rect x="529.2" y="359.3" width="37.8" height="25.6" rx="1.3" fill="#CD0BBC"/>
<g fill="#28E2E5"><circle cx="529.3" cy="218.5" r="2.6"/></g>
<g fill="#CD0BBC"><circle cx="529.5" cy="341.3" r="2.6"/></g>
<g fill="#28E2E5"><circle cx="529.5" cy="320.0" r="2.6"/></g>
<rect x="529.5" y="355.1" width="26.6" height="29.8" rx="1.3" fill="#CD0BBC"/>
<g fill="#28E2E5"><circle cx="530.0" cy="296.3" r="2.6"/></g>
<g fill="#CD0BBC"><circle cx="530.2" cy="343.6" r="2.6"/></g>
<g fill="#28E2E5"><circle cx="530.3" cy="361.7" r="2.6"/><circle cx="530.5" cy="310.7" r="2.6"/></g>
<g fill="#CD0BBC"><circle cx="530.5" cy="322.4" r="2.6"/><circle cx="530.8" cy="353.1" r="2.6"/></g>
<g fill="#28E2E5"><circle cx="530.8" cy="320.0" r="2.6"/><circle cx="530.8" cy="324.7" r="2.6"/></g>
<g fill="#CD0BBC"><circle cx="531.6" cy="225.7" r="2.6"/><circle cx="531.6" cy="308.4" r="2.6"/><circle cx="532.1" cy="342.1" r="2.6"/><circle cx="532.4" cy="354.8" r="2.6"/><circle cx="532.8" cy="329.4" r="2.6"/><circle cx="532.8" cy="348.1" r="2.6"/><circle cx="532.9" cy="354.3" r="2.6"/><circle cx="533.3" cy="197.0" r="2.6"/><circle cx="533.9" cy="359.7" r="2.6"/><circle cx="534.0" cy="313.0" r="2.6"/><circle cx="534.0" cy="346.0" r="2.6"/><circle cx="534.2" cy="361.3" r="2.6"/><circle cx="534.5" cy="351.4" r="2.6"/><circle cx="534.7" cy="254.9" r="2.6"/><circle cx="534.7" cy="278.3" r="2.6"/><circle cx="534.7" cy="359.9" r="2.6"/><circle cx="535.1" cy="355.7" r="2.6"/><circle cx="535.1" cy="301.4" r="2.6"/><circle cx="535.1" cy="341.1" r="2.6"/><circle cx="535.3" cy="338.9" r="2.6"/><circle cx="535.6" cy="341.7" r="2.6"/><circle cx="535.6" cy="239.3" r="2.6"/><circle cx="535.6" cy="245.6" r="2.6"/><circle cx="535.7" cy="361.3" r="2.6"/><circle cx="536.0" cy="340.7" r="2.6"/><circle cx="536.2" cy="355.7" r="2.6"/><circle cx="536.2" cy="353.6" r="2.6"/><circle cx="536.3" cy="279.9" r="2.6"/><circle cx="536.6" cy="351.6" r="2.6"/><circle cx="537.2" cy="342.6" r="2.6"/><circle cx="537.2" cy="348.8" r="2.6"/><circle cx="537.5" cy="302.5" r="2.6"/><circle cx="537.5" cy="352.7" r="2.6"/><circle cx="537.8" cy="354.9" r="2.6"/><circle cx="537.8" cy="350.2" r="2.6"/><circle cx="538.1" cy="343.8" r="2.6"/><circle cx="538.6" cy="331.7" r="2.6"/><circle cx="538.8" cy="351.7" r="2.6"/><circle cx="539.3" cy="340.3" r="2.6"/><circle cx="539.5" cy="359.8" r="2.6"/><circle cx="540.3" cy="261.2" r="2.6"/><circle cx="540.3" cy="347.8" r="2.6"/><circle cx="540.5" cy="357.2" r="2.6"/><circle cx="540.6" cy="354.6" r="2.6"/><circle cx="541.0" cy="295.5" r="2.6"/><circle cx="541.0" cy="339.9" r="2.6"/><circle cx="541.0" cy="355.4" r="2.6"/><circle cx="541.4" cy="334.1" r="2.6"/><circle cx="541.4" cy="351.3" r="2.6"/><circle cx="541.5" cy="350.2" r="2.6"/><circle cx="541.6" cy="355.0" r="2.6"/><circle cx="541.8" cy="357.0" r="2.6"/><circle cx="541.9" cy="355.9" r="2.6"/><circle cx="542.1" cy="339.8" r="2.6"/><circle cx="542.2" cy="320.0" r="2.6"/><circle cx="542.2" cy="358.3" r="2.6"/><circle cx="542.4" cy="349.4" r="2.6"/><circle cx="542.5" cy="343.4" r="2.6"/><circle cx="542.5" cy="360.6" r="2.6"/><circle cx="542.6" cy="276.4" r="2.6"/><circle cx="543.5" cy="346.2" r="2.6"/><circle cx="543.5" cy="358.5" r="2.6"/><circle cx="543.6" cy="358.3" r="2.6"/><circle cx="544.0" cy="352.1" r="2.6"/><circle cx="544.4" cy="348.8" r="2.6"/><circle cx="544.5" cy="315.4" r="2.6"/><circle cx="544.5" cy="350.4" r="2.6"/><circle cx="544.5" cy="354.3" r="2.6"/><circle cx="544.9" cy="355.1" r="2.6"/><circle cx="544.9" cy="338.8" r="2.6"/><circle cx="545.0" cy="353.4" r="2.6"/><circle cx="545.0" cy="354.3" r="2.6"/><circle cx="545.1" cy="341.5" r="2.6"/><circle cx="545.2" cy="350.7" r="2.6"/><circle cx="545.7" cy="158.1" r="2.6"/><circle cx="545.7" cy="279.5" r="2.6"/><circle cx="545.7" cy="325.9" r="2.6"/><circle cx="546.1" cy="344.9" r="2.6"/><circle cx="546.3" cy="348.9" r="2.6"/><circle cx="546.3" cy="349.0" r="2.6"/><circle cx="547.0" cy="351.6" r="2.6"/><circle cx="547.2" cy="335.2" r="2.6"/><circle cx="547.8" cy="361.5" r="2.6"/><circle cx="547.9" cy="339.6" r="2.6"/><circle cx="548.0" cy="331.7" r="2.6"/><circle cx="548.4" cy="346.9" r="2.6"/><circle cx="548.5" cy="224.6" r="2.6"/><circle cx="548.8" cy="355.8" r="2.6"/><circle cx="548.8" cy="354.3" r="2.6"/><circle cx="549.1" cy="361.3" r="2.6"/><circle cx="549.2" cy="343.4" r="2.6"/><circle cx="549.3" cy="353.8" r="2.6"/><circle cx="549.6" cy="340.3" r="2.6"/><circle cx="549.8" cy="348.2" r="2.6"/><circle cx="549.9" cy="347.6" r="2.6"/><circle cx="550.2" cy="358.3" r="2.6"/><circle cx="550.2" cy="345.9" r="2.6"/><circle cx="550.3" cy="114.2" r="2.6"/><circle cx="550.3" cy="261.2" r="2.6"/><circle cx="550.3" cy="285.8" r="2.6"/><circle cx="550.7" cy="352.7" r="2.6"/><circle cx="550.8" cy="346.0" r="2.6"/><circle cx="551.5" cy="315.4" r="2.6"/><circle cx="551.5" cy="349.2" r="2.6"/><circle cx="551.9" cy="345.7" r="2.6"/><circle cx="552.3" cy="361.1" r="2.6"/><circle cx="552.7" cy="116.0" r="2.6"/><circle cx="552.7" cy="151.8" r="2.6"/><circle cx="552.7" cy="341.7" r="2.6"/><circle cx="553.0" cy="355.4" r="2.6"/><circle cx="553.4" cy="350.7" r="2.6"/><circle cx="553.8" cy="328.2" r="2.6"/><circle cx="553.8" cy="338.7" r="2.6"/><circle cx="554.8" cy="354.9" r="2.6"/><circle cx="555.3" cy="358.6" r="2.6"/><circle cx="555.4" cy="350.4" r="2.6"/><circle cx="555.8" cy="346.6" r="2.6"/><circle cx="555.9" cy="352.8" r="2.6"/><circle cx="555.9" cy="356.8" r="2.6"/><circle cx="557.7" cy="331.7" r="2.6"/><circle cx="558.9" cy="308.4" r="2.6"/><circle cx="559.9" cy="347.5" r="2.6"/><circle cx="560.0" cy="327.0" r="2.6"/><circle cx="561.0" cy="359.2" r="2.6"/><circle cx="561.1" cy="356.4" r="2.6"/><circle cx="561.2" cy="346.9" r="2.6"/><circle cx="561.2" cy="352.7" r="2.6"/><circle cx="561.6" cy="356.6" r="2.6"/><circle cx="561.7" cy="144.5" r="2.6"/><circle cx="561.9" cy="211.0" r="2.6"/><circle cx="562.4" cy="193.8" r="2.6"/><circle cx="562.4" cy="283.4" r="2.6"/><circle cx="562.4" cy="334.1" r="2.6"/><circle cx="562.8" cy="264.7" r="2.6"/><circle cx="563.1" cy="199.3" r="2.6"/><circle cx="563.4" cy="346.4" r="2.6"/><circle cx="563.5" cy="356.4" r="2.6"/><circle cx="563.5" cy="286.5" r="2.6"/><circle cx="563.5" cy="310.7" r="2.6"/><circle cx="563.5" cy="317.7" r="2.6"/><circle cx="564.2" cy="258.2" r="2.6"/></g>
<rect x="564.2" y="359.7" width="32.2" height="25.2" rx="1.3" fill="#F5C710"/>
<g fill="#CD0BBC"><circle cx="564.7" cy="242.6" r="2.6"/><circle cx="564.7" cy="301.4" r="2.6"/><circle cx="564.7" cy="357.4" r="2.6"/><circle cx="564.9" cy="361.4" r="2.6"/><circle cx="565.2" cy="357.6" r="2.6"/></g>
<g fill="#F5C710"><circle cx="566.0" cy="361.2" r="2.6"/><circle cx="566.1" cy="360.4" r="2.6"/><circle cx="566.5" cy="355.0" r="2.6"/></g>
<g fill="#CD0BBC"><circle cx="566.6" cy="355.2" r="2.6"/></g>
<g fill="#F5C710"><circle cx="567.0" cy="307.2" r="2.6"/><circle cx="567.2" cy="359.3" r="2.6"/><circle cx="567.3" cy="358.2" r="2.6"/><circle cx="567.5" cy="326.7" r="2.6"/><circle cx="567.8" cy="309.6" r="2.6"/><circle cx="567.8" cy="328.8" r="2.6"/><circle cx="567.9" cy="354.7" r="2.6"/><circle cx="568.2" cy="325.6" r="2.6"/><circle cx="568.2" cy="336.5" r="2.6"/><circle cx="568.2" cy="320.0" r="2.6"/><circle cx="568.2" cy="352.7" r="2.6"/><circle cx="568.5" cy="358.8" r="2.6"/><circle cx="568.9" cy="63.5" r="2.6"/><circle cx="569.1" cy="356.5" r="2.6"/><circle cx="569.1" cy="320.9" r="2.6"/><circle cx="569.2" cy="359.9" r="2.6"/><circle cx="569.4" cy="133.1" r="2.6"/><circle cx="569.4" cy="237.4" r="2.6"/><circle cx="569.4" cy="285.8" r="2.6"/><circle cx="569.4" cy="297.8" r="2.6"/><circle cx="569.4" cy="310.7" r="2.6"/><circle cx="569.4" cy="359.7" r="2.6"/><circle cx="569.8" cy="350.9" r="2.6"/><circle cx="569.8" cy="352.9" r="2.6"/><circle cx="569.8" cy="115.6" r="2.6"/><circle cx="569.8" cy="117.9" r="2.6"/><circle cx="570.2" cy="359.0" r="2.6"/><circle cx="570.3" cy="336.2" r="2.6"/><circle cx="570.4" cy="356.8" r="2.6"/><circle cx="570.5" cy="80.6" r="2.6"/><circle cx="570.5" cy="83.6" r="2.6"/><circle cx="570.5" cy="105.0" r="2.6"/><circle cx="571.0" cy="99.3" r="2.6"/><circle cx="571.6" cy="360.4" r="2.6"/><circle cx="571.7" cy="267.5" r="2.6"/><circle cx="571.7" cy="294.3" r="2.6"/><circle cx="571.8" cy="333.8" r="2.6"/><circle cx="572.2" cy="337.3" r="2.6"/><circle cx="572.5" cy="328.5" r="2.6"/><circle cx="572.9" cy="283.0" r="2.6"/><circle cx="572.9" cy="322.4" r="2.6"/><circle cx="572.9" cy="331.7" r="2.6"/><circle cx="573.0" cy="312.4" r="2.6"/><circle cx="573.2" cy="351.0" r="2.6"/><circle cx="573.3" cy="330.7" r="2.6"/><circle cx="573.6" cy="248.9" r="2.6"/><circle cx="573.6" cy="335.1" r="2.6"/><circle cx="574.1" cy="338.7" r="2.6"/><circle cx="574.1" cy="345.7" r="2.6"/><circle cx="574.2" cy="322.7" r="2.6"/><circle cx="574.6" cy="352.5" r="2.6"/><circle cx="574.7" cy="313.5" r="2.6"/><circle cx="574.9" cy="333.5" r="2.6"/><circle cx="575.6" cy="330.7" r="2.6"/><circle cx="576.5" cy="356.2" r="2.6"/><circle cx="577.2" cy="336.0" r="2.6"/><circle cx="577.6" cy="146.9" r="2.6"/><circle cx="577.6" cy="321.2" r="2.6"/><circle cx="577.6" cy="313.3" r="2.6"/><circle cx="578.0" cy="361.0" r="2.6"/><circle cx="578.4" cy="359.8" r="2.6"/><circle cx="578.4" cy="323.4" r="2.6"/><circle cx="578.5" cy="345.6" r="2.6"/><circle cx="578.7" cy="320.9" r="2.6"/><circle cx="578.7" cy="300.2" r="2.6"/><circle cx="578.7" cy="352.7" r="2.6"/><circle cx="579.7" cy="359.0" r="2.6"/><circle cx="580.2" cy="355.4" r="2.6"/><circle cx="580.6" cy="360.9" r="2.6"/><circle cx="581.1" cy="145.9" r="2.6"/><circle cx="581.1" cy="359.7" r="2.6"/><circle cx="582.5" cy="356.2" r="2.6"/><circle cx="582.7" cy="359.0" r="2.6"/><circle cx="583.0" cy="360.2" r="2.6"/><circle cx="583.1" cy="358.5" r="2.6"/><circle cx="583.6" cy="357.6" r="2.6"/><circle cx="583.9" cy="359.5" r="2.6"/><circle cx="585.3" cy="274.1" r="2.6"/><circle cx="585.3" cy="282.3" r="2.6"/><circle cx="585.3" cy="355.0" r="2.6"/><circle cx="585.7" cy="357.6" r="2.6"/><circle cx="585.7" cy="277.6" r="2.6"/><circle cx="585.7" cy="308.4" r="2.6"/><circle cx="585.9" cy="360.1" r="2.6"/><circle cx="585.9" cy="359.2" r="2.6"/><circle cx="586.8" cy="357.0" r="2.6"/><circle cx="586.9" cy="343.4" r="2.6"/><circle cx="586.9" cy="352.7" r="2.6"/><circle cx="587.4" cy="360.9" r="2.6"/><circle cx="588.1" cy="204.5" r="2.6"/><circle cx="588.1" cy="261.2" r="2.6"/><circle cx="589.2" cy="359.3" r="2.6"/><circle cx="589.2" cy="208.7" r="2.6"/><circle cx="589.2" cy="323.5" r="2.6"/><circle cx="589.5" cy="361.2" r="2.6"/><circle cx="589.7" cy="356.8" r="2.6"/><circle cx="590.4" cy="359.7" r="2.6"/><circle cx="590.6" cy="360.2" r="2.6"/><circle cx="590.6" cy="353.2" r="2.6"/><circle cx="591.4" cy="356.0" r="2.6"/><circle cx="591.6" cy="123.0" r="2.6"/><circle cx="591.6" cy="272.9" r="2.6"/><circle cx="592.0" cy="356.6" r="2.6"/><circle cx="592.7" cy="94.1" r="2.6"/><circle cx="592.7" cy="353.9" r="2.6"/><circle cx="593.1" cy="361.8" r="2.6"/><circle cx="593.2" cy="75.2" r="2.6"/><circle cx="593.2" cy="281.1" r="2.6"/><circle cx="593.4" cy="171.6" r="2.6"/><circle cx="593.4" cy="176.8" r="2.6"/><circle cx="593.4" cy="181.4" r="2.6"/><circle cx="593.9" cy="195.0" r="2.6"/><circle cx="593.9" cy="302.5" r="2.6"/><circle cx="593.9" cy="308.4" r="2.6"/><circle cx="593.9" cy="315.4" r="2.6"/><circle cx="594.4" cy="241.4" r="2.6"/><circle cx="594.6" cy="201.2" r="2.6"/><circle cx="594.6" cy="220.4" r="2.6"/><circle cx="595.1" cy="119.5" r="2.6"/><circle cx="595.1" cy="288.1" r="2.6"/><circle cx="595.1" cy="294.3" r="2.6"/><circle cx="595.1" cy="331.7" r="2.6"/><circle cx="595.1" cy="344.6" r="2.6"/></g>
<g fill="#9E9E9E"><circle cx="595.1" cy="288.5" r="2.6"/></g>
<g fill="#F5C710"><circle cx="595.5" cy="265.4" r="2.6"/><circle cx="596.1" cy="359.5" r="2.6"/><circle cx="596.2" cy="230.9" r="2.6"/><circle cx="596.2" cy="272.9" r="2.6"/></g>
<polygon points="596.2,356.2 604.4,356.2 605.6,364.4 620.8,364.4 620.8,384.9 596.2,384.9" fill="#9E9E9E"/>
<g fill="#F5C710"><circle cx="596.9" cy="189.6" r="2.6"/><circle cx="597.4" cy="191.9" r="2.6"/><circle cx="597.4" cy="196.5" r="2.6"/><circle cx="597.4" cy="212.2" r="2.6"/></g>
<g fill="#9E9E9E"><circle cx="599.7" cy="310.7" r="2.6"/><circle cx="599.7" cy="332.9" r="2.6"/><circle cx="599.7" cy="341.1" r="2.6"/><circle cx="600.2" cy="113.2" r="2.6"/><circle cx="600.2" cy="159.2" r="2.6"/><circle cx="600.2" cy="242.6" r="2.6"/><circle cx="600.9" cy="302.5" r="2.6"/><circle cx="600.9" cy="348.1" r="2.6"/><circle cx="602.1" cy="289.3" r="2.6"/><circle cx="602.1" cy="315.4" r="2.6"/><circle cx="603.2" cy="136.6" r="2.6"/><circle cx="603.2" cy="295.5" r="2.6"/><circle cx="603.9" cy="132.4" r="2.6"/><circle cx="604.4" cy="127.7" r="2.6"/><circle cx="604.4" cy="221.1" r="2.6"/><circle cx="604.4" cy="237.4" r="2.6"/><circle cx="604.4" cy="323.5" r="2.6"/><circle cx="604.4" cy="337.6" r="2.6"/><circle cx="605.6" cy="128.4" r="2.6"/><circle cx="605.6" cy="212.9" r="2.6"/><circle cx="605.6" cy="223.2" r="2.6"/><circle cx="605.6" cy="228.5" r="2.6"/><circle cx="605.6" cy="306.0" r="2.6"/><circle cx="605.6" cy="318.9" r="2.6"/><circle cx="605.6" cy="351.6" r="2.6"/><circle cx="607.9" cy="338.7" r="2.6"/><circle cx="608.4" cy="230.2" r="2.6"/><circle cx="610.3" cy="325.9" r="2.6"/><circle cx="610.3" cy="344.6" r="2.6"/><circle cx="611.4" cy="222.7" r="2.6"/><circle cx="611.9" cy="184.5" r="2.6"/><circle cx="612.6" cy="350.4" r="2.6"/><circle cx="613.8" cy="355.1" r="2.6"/><circle cx="616.1" cy="310.7" r="2.6"/><circle cx="616.6" cy="126.8" r="2.6"/><circle cx="616.8" cy="162.7" r="2.6"/><circle cx="617.3" cy="294.3" r="2.6"/><circle cx="617.3" cy="341.1" r="2.6"/><circle cx="617.3" cy="348.1" r="2.6"/><circle cx="618.0" cy="145.5" r="2.6"/><circle cx="618.4" cy="132.4" r="2.6"/><circle cx="618.4" cy="309.5" r="2.6"/><circle cx="618.4" cy="320.0" r="2.6"/><circle cx="618.4" cy="325.9" r="2.6"/><circle cx="619.6" cy="212.9" r="2.6"/><circle cx="619.6" cy="265.9" r="2.6"/><circle cx="620.3" cy="176.3" r="2.6"/><circle cx="620.3" cy="189.8" r="2.6"/><circle cx="620.8" cy="264.7" r="2.6"/><circle cx="620.8" cy="290.0" r="2.6"/><circle cx="620.8" cy="308.4" r="2.6"/><circle cx="620.8" cy="352.7" r="2.6"/></g>
<rect x="620.8" y="352.7" width="17.5" height="32.2" rx="1.3" fill="#000000"/>
<g fill="#000000"><circle cx="621.0" cy="342.5" r="2.6"/></g>
<g fill="#9E9E9E"><circle cx="621.2" cy="134.2" r="2.6"/><circle cx="621.2" cy="151.1" r="2.6"/></g>
<g fill="#000000"><circle cx="621.9" cy="346.3" r="2.6"/><circle cx="622.3" cy="351.9" r="2.6"/><circle cx="622.8" cy="333.0" r="2.6"/><circle cx="623.1" cy="330.5" r="2.6"/><circle cx="623.1" cy="348.1" r="2.6"/><circle cx="623.4" cy="335.5" r="2.6"/><circle cx="623.8" cy="353.8" r="2.6"/><circle cx="624.1" cy="347.6" r="2.6"/><circle cx="624.3" cy="279.9" r="2.6"/><circle cx="624.3" cy="297.8" r="2.6"/><circle cx="624.3" cy="318.9" r="2.6"/><circle cx="624.3" cy="355.1" r="2.6"/><circle cx="625.4" cy="242.6" r="2.6"/><circle cx="625.4" cy="313.0" r="2.6"/><circle cx="625.4" cy="341.1" r="2.6"/><circle cx="625.4" cy="344.9" r="2.6"/><circle cx="625.6" cy="354.3" r="2.6"/><circle cx="626.1" cy="344.4" r="2.6"/><circle cx="627.8" cy="320.0" r="2.6"/><circle cx="628.7" cy="354.5" r="2.6"/><circle cx="628.9" cy="346.9" r="2.6"/><circle cx="628.9" cy="352.7" r="2.6"/><circle cx="629.1" cy="338.3" r="2.6"/><circle cx="629.6" cy="206.8" r="2.6"/><circle cx="629.6" cy="214.5" r="2.6"/><circle cx="630.1" cy="273.6" r="2.6"/><circle cx="630.3" cy="353.0" r="2.6"/><circle cx="630.5" cy="332.7" r="2.6"/><circle cx="630.7" cy="347.9" r="2.6"/><circle cx="630.8" cy="195.0" r="2.6"/><circle cx="630.9" cy="334.9" r="2.6"/><circle cx="631.1" cy="344.1" r="2.6"/><circle cx="631.3" cy="264.7" r="2.6"/><circle cx="631.3" cy="341.1" r="2.6"/><circle cx="631.5" cy="332.2" r="2.6"/><circle cx="631.5" cy="342.2" r="2.6"/><circle cx="631.7" cy="178.2" r="2.6"/><circle cx="631.9" cy="345.9" r="2.6"/><circle cx="632.0" cy="118.4" r="2.6"/><circle cx="632.4" cy="70.1" r="2.6"/><circle cx="632.4" cy="81.8" r="2.6"/><circle cx="632.4" cy="103.9" r="2.6"/><circle cx="632.4" cy="306.0" r="2.6"/><circle cx="632.4" cy="334.1" r="2.6"/><circle cx="632.7" cy="45.1" r="2.6"/><circle cx="632.8" cy="334.3" r="2.6"/><circle cx="632.9" cy="340.0" r="2.6"/><circle cx="632.9" cy="39.2" r="2.6"/><circle cx="632.9" cy="65.4" r="2.6"/><circle cx="632.9" cy="72.9" r="2.6"/><circle cx="632.9" cy="84.1" r="2.6"/><circle cx="632.9" cy="127.7" r="2.6"/><circle cx="632.9" cy="170.9" r="2.6"/><circle cx="632.9" cy="282.3" r="2.6"/><circle cx="633.5" cy="353.0" r="2.6"/><circle cx="633.5" cy="342.1" r="2.6"/><circle cx="633.6" cy="67.7" r="2.6"/><circle cx="633.6" cy="74.7" r="2.6"/><circle cx="633.6" cy="87.6" r="2.6"/><circle cx="633.6" cy="297.8" r="2.6"/><circle cx="633.6" cy="313.0" r="2.6"/><circle cx="633.8" cy="352.7" r="2.6"/><circle cx="634.2" cy="344.3" r="2.6"/><circle cx="634.3" cy="275.3" r="2.6"/><circle cx="634.5" cy="338.8" r="2.6"/><circle cx="634.6" cy="351.3" r="2.6"/><circle cx="634.8" cy="91.1" r="2.6"/><circle cx="634.8" cy="123.5" r="2.6"/><circle cx="634.8" cy="129.3" r="2.6"/><circle cx="634.8" cy="287.6" r="2.6"/><circle cx="634.8" cy="350.4" r="2.6"/><circle cx="634.8" cy="357.4" r="2.6"/><circle cx="635.7" cy="355.0" r="2.6"/><circle cx="635.8" cy="337.5" r="2.6"/><circle cx="635.9" cy="188.9" r="2.6"/><circle cx="635.9" cy="323.5" r="2.6"/><circle cx="636.6" cy="212.2" r="2.6"/><circle cx="637.0" cy="347.8" r="2.6"/><circle cx="637.1" cy="337.9" r="2.6"/><circle cx="637.1" cy="320.0" r="2.6"/></g>
<rect x="637.6" y="350.4" width="16.4" height="34.5" rx="1.3" fill="#DF536B"/>
<g fill="#000000"><circle cx="637.6" cy="337.9" r="2.6"/><circle cx="637.9" cy="334.6" r="2.6"/></g>
<g fill="#DF536B"><circle cx="638.1" cy="326.1" r="2.6"/></g>
<g fill="#000000"><circle cx="638.2" cy="334.2" r="2.6"/><circle cx="638.3" cy="94.1" r="2.6"/><circle cx="638.3" cy="240.2" r="2.6"/><circle cx="638.3" cy="330.5" r="2.6"/><circle cx="638.8" cy="241.9" r="2.6"/><circle cx="639.5" cy="289.7" r="2.6"/><circle cx="639.5" cy="296.7" r="2.6"/><circle cx="639.5" cy="306.0" r="2.6"/></g>
<g fill="#DF536B"><circle cx="639.5" cy="308.4" r="2.6"/><circle cx="639.5" cy="336.4" r="2.6"/><circle cx="639.5" cy="346.9" r="2.6"/><circle cx="639.5" cy="355.1" r="2.6"/><circle cx="639.6" cy="348.8" r="2.6"/><circle cx="640.4" cy="172.1" r="2.6"/><circle cx="640.6" cy="278.8" r="2.6"/><circle cx="640.6" cy="283.0" r="2.6"/><circle cx="640.6" cy="292.0" r="2.6"/><circle cx="640.6" cy="320.0" r="2.6"/><circle cx="640.9" cy="323.4" r="2.6"/><circle cx="641.3" cy="349.9" r="2.6"/><circle cx="641.8" cy="281.1" r="2.6"/><circle cx="641.8" cy="327.0" r="2.6"/><circle cx="642.4" cy="308.4" r="2.6"/><circle cx="642.5" cy="253.8" r="2.6"/><circle cx="642.5" cy="271.8" r="2.6"/><circle cx="643.0" cy="310.7" r="2.6"/><circle cx="644.1" cy="119.5" r="2.6"/><circle cx="644.1" cy="339.9" r="2.6"/><circle cx="644.2" cy="351.5" r="2.6"/><circle cx="644.6" cy="344.2" r="2.6"/><circle cx="645.0" cy="351.0" r="2.6"/><circle cx="645.3" cy="127.7" r="2.6"/><circle cx="645.6" cy="354.1" r="2.6"/><circle cx="646.5" cy="322.4" r="2.6"/><circle cx="646.5" cy="348.1" r="2.6"/><circle cx="646.6" cy="349.6" r="2.6"/><circle cx="646.8" cy="352.5" r="2.6"/><circle cx="647.5" cy="348.4" r="2.6"/><circle cx="647.6" cy="328.2" r="2.6"/><circle cx="648.1" cy="313.4" r="2.6"/><circle cx="648.2" cy="345.6" r="2.6"/><circle cx="648.2" cy="320.4" r="2.6"/><circle cx="648.4" cy="349.8" r="2.6"/><circle cx="648.4" cy="344.6" r="2.6"/><circle cx="648.8" cy="315.4" r="2.6"/><circle cx="649.3" cy="190.3" r="2.6"/><circle cx="649.5" cy="253.8" r="2.6"/><circle cx="649.6" cy="350.3" r="2.6"/><circle cx="649.8" cy="354.6" r="2.6"/><circle cx="650.0" cy="300.2" r="2.6"/><circle cx="651.0" cy="325.4" r="2.6"/><circle cx="651.1" cy="242.6" r="2.6"/><circle cx="651.1" cy="320.0" r="2.6"/><circle cx="651.1" cy="339.9" r="2.6"/><circle cx="651.1" cy="355.1" r="2.6"/><circle cx="651.4" cy="354.9" r="2.6"/><circle cx="651.6" cy="324.9" r="2.6"/><circle cx="652.1" cy="319.1" r="2.6"/><circle cx="652.3" cy="348.1" r="2.6"/></g>
<rect x="63.2" y="1.9" width="616.30" height="398.70" fill="none" stroke="#333333" stroke-width="1.5"/>
<line x1="59.800000000000004" x2="63.2" y1="383.40" y2="383.40" stroke="#333333" stroke-width="1.3"/>
<text transform="translate(56.90,387.41) scale(1,1)" font-size="11.2" fill="#4D4D4D" stroke="#4D4D4D" stroke-width="0.25" text-anchor="end">0</text>
<line x1="59.800000000000004" x2="63.2" y1="278.30" y2="278.30" stroke="#333333" stroke-width="1.3"/>
<text transform="translate(56.90,282.31) scale(1,1)" font-size="11.2" fill="#4D4D4D" stroke="#4D4D4D" stroke-width="0.25" text-anchor="end">100</text>
<line x1="59.800000000000004" x2="63.2" y1="173.20" y2="173.20" stroke="#333333" stroke-width="1.3"/>
<text transform="translate(56.90,177.21) scale(1,1)" font-size="11.2" fill="#4D4D4D" stroke="#4D4D4D" stroke-width="0.25" text-anchor="end">200</text>
<line x1="59.800000000000004" x2="63.2" y1="68.10" y2="68.10" stroke="#333333" stroke-width="1.3"/>
<text transform="translate(56.90,72.11) scale(1,1)" font-size="11.2" fill="#4D4D4D" stroke="#4D4D4D" stroke-width="0.25" text-anchor="end">300</text>
<line x1="126.10" x2="126.10" y1="400.6" y2="404.0" stroke="#333333" stroke-width="1.3"/>
<text transform="translate(126.10,416.1) scale(1,1)" font-size="10.8" fill="#4D4D4D" stroke="#4D4D4D" stroke-width="0.25" text-anchor="middle">1</text>
<line x1="180.60" x2="180.60" y1="400.6" y2="404.0" stroke="#333333" stroke-width="1.3"/>
<text transform="translate(180.60,416.1) scale(1,1)" font-size="10.8" fill="#4D4D4D" stroke="#4D4D4D" stroke-width="0.25" text-anchor="middle">2</text>
<line x1="214.00" x2="214.00" y1="400.6" y2="404.0" stroke="#333333" stroke-width="1.3"/>
<text transform="translate(214.00,416.1) scale(1,1)" font-size="10.8" fill="#4D4D4D" stroke="#4D4D4D" stroke-width="0.25" text-anchor="middle">3</text>
<line x1="246.60" x2="246.60" y1="400.6" y2="404.0" stroke="#333333" stroke-width="1.3"/>
<text transform="translate(246.60,416.1) scale(1,1)" font-size="10.8" fill="#4D4D4D" stroke="#4D4D4D" stroke-width="0.25" text-anchor="middle">4</text>
<line x1="277.40" x2="277.40" y1="400.6" y2="404.0" stroke="#333333" stroke-width="1.3"/>
<text transform="translate(277.40,416.1) scale(1,1)" font-size="10.8" fill="#4D4D4D" stroke="#4D4D4D" stroke-width="0.25" text-anchor="middle">5</text>
<line x1="304.40" x2="304.40" y1="400.6" y2="404.0" stroke="#333333" stroke-width="1.3"/>
<text transform="translate(304.40,416.1) scale(1,1)" font-size="10.8" fill="#4D4D4D" stroke="#4D4D4D" stroke-width="0.25" text-anchor="middle">6</text>
<line x1="334.90" x2="334.90" y1="400.6" y2="404.0" stroke="#333333" stroke-width="1.3"/>
<text transform="translate(334.90,416.1) scale(1,1)" font-size="10.8" fill="#4D4D4D" stroke="#4D4D4D" stroke-width="0.25" text-anchor="middle">7</text>
<line x1="368.40" x2="368.40" y1="400.6" y2="404.0" stroke="#333333" stroke-width="1.3"/>
<text transform="translate(368.40,416.1) scale(1,1)" font-size="10.8" fill="#4D4D4D" stroke="#4D4D4D" stroke-width="0.25" text-anchor="middle">8</text>
<line x1="404.80" x2="404.80" y1="400.6" y2="404.0" stroke="#333333" stroke-width="1.3"/>
<text transform="translate(404.80,416.1) scale(1,1)" font-size="10.8" fill="#4D4D4D" stroke="#4D4D4D" stroke-width="0.25" text-anchor="middle">9</text>
<line x1="432.20" x2="432.20" y1="400.6" y2="404.0" stroke="#333333" stroke-width="1.3"/>
<text transform="translate(432.20,416.1) scale(1,1)" font-size="10.8" fill="#4D4D4D" stroke="#4D4D4D" stroke-width="0.25" text-anchor="middle">10</text>
<line x1="454.00" x2="454.00" y1="400.6" y2="404.0" stroke="#333333" stroke-width="1.3"/>
<text transform="translate(454.00,416.1) scale(1,1)" font-size="10.8" fill="#4D4D4D" stroke="#4D4D4D" stroke-width="0.25" text-anchor="middle">11</text>
<line x1="470.70" x2="470.70" y1="400.6" y2="404.0" stroke="#333333" stroke-width="1.3"/>
<text transform="translate(470.70,416.1) scale(1,1)" font-size="10.8" fill="#4D4D4D" stroke="#4D4D4D" stroke-width="0.25" text-anchor="middle">12</text>
<line x1="504.00" x2="504.00" y1="400.6" y2="404.0" stroke="#333333" stroke-width="1.3"/>
<text transform="translate(504.00,416.1) scale(1,1)" font-size="10.8" fill="#4D4D4D" stroke="#4D4D4D" stroke-width="0.25" text-anchor="middle">13</text>
<line x1="548.80" x2="548.80" y1="400.6" y2="404.0" stroke="#333333" stroke-width="1.3"/>
<text transform="translate(548.80,416.1) scale(1,1)" font-size="10.8" fill="#4D4D4D" stroke="#4D4D4D" stroke-width="0.25" text-anchor="middle">14</text>
<line x1="582.00" x2="582.00" y1="400.6" y2="404.0" stroke="#333333" stroke-width="1.3"/>
<text transform="translate(582.00,416.1) scale(1,1)" font-size="10.8" fill="#4D4D4D" stroke="#4D4D4D" stroke-width="0.25" text-anchor="middle">15</text>
<line x1="610.30" x2="610.30" y1="400.6" y2="404.0" stroke="#333333" stroke-width="1.3"/>
<text transform="translate(610.30,416.1) scale(1,1)" font-size="10.8" fill="#4D4D4D" stroke="#4D4D4D" stroke-width="0.25" text-anchor="middle">16</text>
<line x1="630.80" x2="630.80" y1="400.6" y2="404.0" stroke="#333333" stroke-width="1.3"/>
<text transform="translate(630.80,416.1) scale(1,1)" font-size="10.8" fill="#4D4D4D" stroke="#4D4D4D" stroke-width="0.25" text-anchor="middle">17</text>
<line x1="645.30" x2="645.30" y1="400.6" y2="404.0" stroke="#333333" stroke-width="1.3"/>
<text transform="translate(645.30,416.1) scale(1,1)" font-size="10.8" fill="#4D4D4D" stroke="#4D4D4D" stroke-width="0.25" text-anchor="middle">18</text>
<line x1="60.1" x2="682.8" y1="753.94" y2="753.94" stroke="#F0F0F0" stroke-width="1.4"/>
<line x1="60.1" x2="682.8" y1="678.01" y2="678.01" stroke="#F0F0F0" stroke-width="1.4"/>
<line x1="60.1" x2="682.8" y1="602.09" y2="602.09" stroke="#F0F0F0" stroke-width="1.4"/>
<line x1="60.1" x2="682.8" y1="526.16" y2="526.16" stroke="#F0F0F0" stroke-width="1.4"/>
<line x1="60.1" x2="682.8" y1="791.90" y2="791.90" stroke="#EBEBEB" stroke-width="1.8"/>
<line x1="60.1" x2="682.8" y1="715.98" y2="715.98" stroke="#EBEBEB" stroke-width="1.8"/>
<line x1="60.1" x2="682.8" y1="640.05" y2="640.05" stroke="#EBEBEB" stroke-width="1.8"/>
<line x1="60.1" x2="682.8" y1="564.12" y2="564.12" stroke="#EBEBEB" stroke-width="1.8"/>
<line x1="60.1" x2="682.8" y1="488.20" y2="488.20" stroke="#EBEBEB" stroke-width="1.8"/>
<line x1="114.10" x2="114.10" y1="487.8" y2="806.6" stroke="#EBEBEB" stroke-width="1.8"/>
<line x1="165.10" x2="165.10" y1="487.8" y2="806.6" stroke="#EBEBEB" stroke-width="1.8"/>
<line x1="207.60" x2="207.60" y1="487.8" y2="806.6" stroke="#EBEBEB" stroke-width="1.8"/>
<line x1="246.20" x2="246.20" y1="487.8" y2="806.6" stroke="#EBEBEB" stroke-width="1.8"/>
<line x1="277.70" x2="277.70" y1="487.8" y2="806.6" stroke="#EBEBEB" stroke-width="1.8"/>
<line x1="304.40" x2="304.40" y1="487.8" y2="806.6" stroke="#EBEBEB" stroke-width="1.8"/>
<line x1="337.40" x2="337.40" y1="487.8" y2="806.6" stroke="#EBEBEB" stroke-width="1.8"/>
<line x1="384.60" x2="384.60" y1="487.8" y2="806.6" stroke="#EBEBEB" stroke-width="1.8"/>
<line x1="434.80" x2="434.80" y1="487.8" y2="806.6" stroke="#EBEBEB" stroke-width="1.8"/>
<line x1="463.70" x2="463.70" y1="487.8" y2="806.6" stroke="#EBEBEB" stroke-width="1.8"/>
<line x1="489.60" x2="489.60" y1="487.8" y2="806.6" stroke="#EBEBEB" stroke-width="1.8"/>
<line x1="515.00" x2="515.00" y1="487.8" y2="806.6" stroke="#EBEBEB" stroke-width="1.8"/>
<line x1="543.50" x2="543.50" y1="487.8" y2="806.6" stroke="#EBEBEB" stroke-width="1.8"/>
<line x1="577.70" x2="577.70" y1="487.8" y2="806.6" stroke="#EBEBEB" stroke-width="1.8"/>
<line x1="604.70" x2="604.70" y1="487.8" y2="806.6" stroke="#EBEBEB" stroke-width="1.8"/>
<line x1="626.20" x2="626.20" y1="487.8" y2="806.6" stroke="#EBEBEB" stroke-width="1.8"/>
<line x1="638.80" x2="638.80" y1="487.8" y2="806.6" stroke="#EBEBEB" stroke-width="1.8"/>
<line x1="649.50" x2="649.50" y1="487.8" y2="806.6" stroke="#EBEBEB" stroke-width="1.8"/>
<g fill="#000000"><circle cx="87.4" cy="783.0" r="2.35"/></g>
<rect x="87.6" y="787.4" width="51.4" height="5.4" rx="1.3" fill="#000000"/>
<g fill="#000000"><circle cx="88.1" cy="788.3" r="2.35"/><circle cx="88.2" cy="777.8" r="2.35"/><circle cx="88.2" cy="784.7" r="2.35"/><circle cx="88.3" cy="789.3" r="2.35"/><circle cx="88.3" cy="778.1" r="2.35"/><circle cx="88.4" cy="789.4" r="2.35"/><circle cx="88.4" cy="779.0" r="2.35"/><circle cx="88.9" cy="777.8" r="2.35"/><circle cx="89.1" cy="789.4" r="2.35"/><circle cx="89.7" cy="683.1" r="2.35"/><circle cx="90.4" cy="772.3" r="2.35"/><circle cx="90.7" cy="775.2" r="2.35"/><circle cx="91.0" cy="788.2" r="2.35"/><circle cx="91.2" cy="781.4" r="2.35"/><circle cx="91.3" cy="788.3" r="2.35"/><circle cx="91.3" cy="788.5" r="2.35"/><circle cx="92.3" cy="787.2" r="2.35"/><circle cx="92.4" cy="789.3" r="2.35"/><circle cx="93.5" cy="776.7" r="2.35"/><circle cx="93.7" cy="783.4" r="2.35"/><circle cx="93.9" cy="773.0" r="2.35"/><circle cx="94.0" cy="787.9" r="2.35"/><circle cx="94.1" cy="774.8" r="2.35"/><circle cx="94.1" cy="774.7" r="2.35"/><circle cx="95.5" cy="777.7" r="2.35"/><circle cx="95.9" cy="787.6" r="2.35"/><circle cx="97.0" cy="782.8" r="2.35"/><circle cx="97.0" cy="787.8" r="2.35"/><circle cx="97.1" cy="782.8" r="2.35"/><circle cx="97.5" cy="784.3" r="2.35"/><circle cx="98.1" cy="747.3" r="2.35"/><circle cx="98.1" cy="776.9" r="2.35"/><circle cx="98.1" cy="778.3" r="2.35"/><circle cx="98.8" cy="788.0" r="2.35"/><circle cx="99.0" cy="788.8" r="2.35"/><circle cx="99.0" cy="775.7" r="2.35"/><circle cx="99.0" cy="736.1" r="2.35"/><circle cx="99.6" cy="776.8" r="2.35"/><circle cx="99.8" cy="779.2" r="2.35"/><circle cx="100.1" cy="787.5" r="2.35"/><circle cx="100.5" cy="777.0" r="2.35"/><circle cx="100.9" cy="769.9" r="2.35"/><circle cx="101.5" cy="782.7" r="2.35"/><circle cx="101.6" cy="774.7" r="2.35"/><circle cx="101.8" cy="786.0" r="2.35"/><circle cx="102.0" cy="711.1" r="2.35"/><circle cx="102.6" cy="786.1" r="2.35"/><circle cx="102.7" cy="779.5" r="2.35"/><circle cx="102.7" cy="739.6" r="2.35"/><circle cx="103.0" cy="775.3" r="2.35"/><circle cx="103.2" cy="785.2" r="2.35"/><circle cx="103.2" cy="785.2" r="2.35"/><circle cx="104.8" cy="740.3" r="2.35"/><circle cx="105.1" cy="783.9" r="2.35"/><circle cx="105.2" cy="778.6" r="2.35"/><circle cx="105.5" cy="776.2" r="2.35"/><circle cx="107.9" cy="768.8" r="2.35"/><circle cx="108.2" cy="786.8" r="2.35"/><circle cx="108.4" cy="786.8" r="2.35"/><circle cx="109.1" cy="787.5" r="2.35"/><circle cx="110.2" cy="773.4" r="2.35"/><circle cx="110.6" cy="775.8" r="2.35"/><circle cx="110.7" cy="786.3" r="2.35"/><circle cx="110.9" cy="789.1" r="2.35"/><circle cx="111.8" cy="778.1" r="2.35"/><circle cx="112.1" cy="777.3" r="2.35"/><circle cx="112.1" cy="774.7" r="2.35"/><circle cx="113.7" cy="771.1" r="2.35"/><circle cx="114.7" cy="787.9" r="2.35"/><circle cx="114.8" cy="786.6" r="2.35"/><circle cx="115.1" cy="779.3" r="2.35"/><circle cx="115.4" cy="778.5" r="2.35"/><circle cx="116.0" cy="781.2" r="2.35"/><circle cx="116.8" cy="688.4" r="2.35"/><circle cx="117.2" cy="758.9" r="2.35"/><circle cx="117.6" cy="789.3" r="2.35"/><circle cx="117.9" cy="741.2" r="2.35"/><circle cx="118.2" cy="778.7" r="2.35"/><circle cx="118.4" cy="762.2" r="2.35"/><circle cx="118.4" cy="774.6" r="2.35"/><circle cx="118.6" cy="778.4" r="2.35"/><circle cx="119.2" cy="779.0" r="2.35"/><circle cx="119.5" cy="787.6" r="2.35"/><circle cx="120.0" cy="753.6" r="2.35"/><circle cx="120.2" cy="789.6" r="2.35"/><circle cx="120.4" cy="777.9" r="2.35"/><circle cx="122.1" cy="786.5" r="2.35"/><circle cx="122.2" cy="775.9" r="2.35"/><circle cx="122.6" cy="763.6" r="2.35"/><circle cx="122.9" cy="784.1" r="2.35"/><circle cx="124.4" cy="776.9" r="2.35"/><circle cx="124.4" cy="782.5" r="2.35"/><circle cx="124.9" cy="706.9" r="2.35"/><circle cx="124.9" cy="745.9" r="2.35"/><circle cx="125.4" cy="702.4" r="2.35"/><circle cx="125.4" cy="773.4" r="2.35"/><circle cx="126.5" cy="781.0" r="2.35"/><circle cx="126.6" cy="685.0" r="2.35"/><circle cx="126.6" cy="741.2" r="2.35"/><circle cx="127.9" cy="774.8" r="2.35"/><circle cx="128.0" cy="776.2" r="2.35"/><circle cx="128.1" cy="787.9" r="2.35"/><circle cx="128.4" cy="777.9" r="2.35"/><circle cx="128.4" cy="750.1" r="2.35"/><circle cx="128.6" cy="782.4" r="2.35"/><circle cx="129.6" cy="743.5" r="2.35"/><circle cx="130.1" cy="774.6" r="2.35"/><circle cx="130.5" cy="778.6" r="2.35"/><circle cx="130.6" cy="789.7" r="2.35"/><circle cx="131.0" cy="786.2" r="2.35"/><circle cx="131.0" cy="788.9" r="2.35"/><circle cx="131.1" cy="782.1" r="2.35"/><circle cx="131.4" cy="786.0" r="2.35"/><circle cx="131.6" cy="784.0" r="2.35"/><circle cx="132.9" cy="784.1" r="2.35"/><circle cx="133.1" cy="754.0" r="2.35"/><circle cx="134.3" cy="780.6" r="2.35"/><circle cx="134.5" cy="777.6" r="2.35"/><circle cx="134.6" cy="779.4" r="2.35"/><circle cx="134.6" cy="789.6" r="2.35"/><circle cx="134.6" cy="783.8" r="2.35"/><circle cx="134.7" cy="784.6" r="2.35"/><circle cx="134.9" cy="783.0" r="2.35"/><circle cx="135.9" cy="771.1" r="2.35"/><circle cx="136.4" cy="786.5" r="2.35"/><circle cx="136.5" cy="784.1" r="2.35"/><circle cx="136.6" cy="687.7" r="2.35"/><circle cx="136.8" cy="787.3" r="2.35"/><circle cx="137.1" cy="765.3" r="2.35"/><circle cx="137.1" cy="775.8" r="2.35"/><circle cx="137.8" cy="762.9" r="2.35"/><circle cx="137.9" cy="786.2" r="2.35"/></g>
<rect x="139.4" y="786.7" width="50.2" height="6.1" rx="1.3" fill="#DF536B"/>
<g fill="#DF536B"><circle cx="140.4" cy="776.2" r="2.35"/><circle cx="140.6" cy="784.7" r="2.35"/><circle cx="140.7" cy="777.3" r="2.35"/><circle cx="141.1" cy="788.6" r="2.35"/><circle cx="141.2" cy="772.6" r="2.35"/><circle cx="142.5" cy="782.5" r="2.35"/><circle cx="142.6" cy="787.6" r="2.35"/><circle cx="142.9" cy="656.9" r="2.35"/><circle cx="144.1" cy="725.1" r="2.35"/><circle cx="144.1" cy="773.4" r="2.35"/><circle cx="144.1" cy="787.1" r="2.35"/><circle cx="145.5" cy="788.5" r="2.35"/><circle cx="145.9" cy="787.1" r="2.35"/><circle cx="147.5" cy="787.6" r="2.35"/><circle cx="147.6" cy="785.4" r="2.35"/><circle cx="147.6" cy="783.1" r="2.35"/><circle cx="148.0" cy="785.2" r="2.35"/><circle cx="148.0" cy="781.1" r="2.35"/><circle cx="148.2" cy="779.2" r="2.35"/><circle cx="148.2" cy="780.6" r="2.35"/><circle cx="148.7" cy="786.8" r="2.35"/><circle cx="148.8" cy="683.1" r="2.35"/><circle cx="148.8" cy="775.8" r="2.35"/><circle cx="149.6" cy="785.6" r="2.35"/><circle cx="150.2" cy="736.8" r="2.35"/><circle cx="150.4" cy="783.9" r="2.35"/><circle cx="150.6" cy="786.9" r="2.35"/><circle cx="151.1" cy="789.7" r="2.35"/><circle cx="151.1" cy="768.8" r="2.35"/><circle cx="152.2" cy="789.1" r="2.35"/><circle cx="152.3" cy="761.3" r="2.35"/><circle cx="152.6" cy="783.8" r="2.35"/><circle cx="153.1" cy="781.2" r="2.35"/><circle cx="153.3" cy="785.3" r="2.35"/><circle cx="153.3" cy="784.1" r="2.35"/><circle cx="153.8" cy="781.9" r="2.35"/><circle cx="154.6" cy="752.9" r="2.35"/><circle cx="155.3" cy="694.0" r="2.35"/><circle cx="155.8" cy="726.7" r="2.35"/><circle cx="156.9" cy="777.3" r="2.35"/><circle cx="156.9" cy="725.1" r="2.35"/><circle cx="156.9" cy="759.4" r="2.35"/><circle cx="157.3" cy="788.8" r="2.35"/><circle cx="157.4" cy="619.6" r="2.35"/><circle cx="157.9" cy="781.2" r="2.35"/><circle cx="158.1" cy="769.9" r="2.35"/><circle cx="158.3" cy="669.6" r="2.35"/><circle cx="158.7" cy="780.8" r="2.35"/><circle cx="159.2" cy="781.2" r="2.35"/><circle cx="160.0" cy="759.9" r="2.35"/><circle cx="160.0" cy="784.8" r="2.35"/><circle cx="160.5" cy="773.6" r="2.35"/><circle cx="161.2" cy="788.1" r="2.35"/><circle cx="161.4" cy="789.3" r="2.35"/><circle cx="161.7" cy="787.1" r="2.35"/><circle cx="161.9" cy="786.6" r="2.35"/><circle cx="162.1" cy="732.6" r="2.35"/><circle cx="162.2" cy="785.9" r="2.35"/><circle cx="162.2" cy="788.8" r="2.35"/><circle cx="162.8" cy="768.8" r="2.35"/><circle cx="163.1" cy="786.4" r="2.35"/><circle cx="163.3" cy="778.2" r="2.35"/><circle cx="164.6" cy="746.3" r="2.35"/><circle cx="164.6" cy="762.9" r="2.35"/><circle cx="164.9" cy="781.2" r="2.35"/><circle cx="166.4" cy="777.7" r="2.35"/><circle cx="166.5" cy="772.3" r="2.35"/><circle cx="166.5" cy="723.4" r="2.35"/><circle cx="166.8" cy="787.9" r="2.35"/><circle cx="166.8" cy="778.5" r="2.35"/><circle cx="167.4" cy="715.5" r="2.35"/><circle cx="167.7" cy="782.1" r="2.35"/><circle cx="167.9" cy="786.6" r="2.35"/><circle cx="167.9" cy="789.7" r="2.35"/><circle cx="167.9" cy="703.8" r="2.35"/><circle cx="168.7" cy="786.6" r="2.35"/><circle cx="168.9" cy="785.7" r="2.35"/><circle cx="168.9" cy="773.0" r="2.35"/><circle cx="169.8" cy="764.1" r="2.35"/><circle cx="169.8" cy="786.9" r="2.35"/><circle cx="170.6" cy="778.9" r="2.35"/><circle cx="170.8" cy="773.7" r="2.35"/><circle cx="171.4" cy="778.8" r="2.35"/><circle cx="172.1" cy="766.4" r="2.35"/><circle cx="172.1" cy="771.1" r="2.35"/><circle cx="172.7" cy="789.3" r="2.35"/><circle cx="173.2" cy="788.7" r="2.35"/><circle cx="173.3" cy="699.9" r="2.35"/><circle cx="173.6" cy="783.1" r="2.35"/><circle cx="173.9" cy="774.1" r="2.35"/><circle cx="173.9" cy="775.2" r="2.35"/><circle cx="174.0" cy="698.2" r="2.35"/><circle cx="174.0" cy="748.9" r="2.35"/><circle cx="174.5" cy="744.2" r="2.35"/><circle cx="174.5" cy="757.1" r="2.35"/><circle cx="174.8" cy="787.8" r="2.35"/><circle cx="175.4" cy="604.9" r="2.35"/><circle cx="175.5" cy="786.1" r="2.35"/><circle cx="175.6" cy="759.4" r="2.35"/><circle cx="176.1" cy="784.8" r="2.35"/><circle cx="176.1" cy="677.5" r="2.35"/><circle cx="176.3" cy="590.0" r="2.35"/><circle cx="176.6" cy="661.6" r="2.35"/><circle cx="176.8" cy="747.7" r="2.35"/><circle cx="177.0" cy="789.6" r="2.35"/><circle cx="177.5" cy="785.5" r="2.35"/><circle cx="177.8" cy="783.2" r="2.35"/><circle cx="178.0" cy="782.6" r="2.35"/><circle cx="178.2" cy="723.4" r="2.35"/><circle cx="178.7" cy="714.6" r="2.35"/><circle cx="179.1" cy="749.6" r="2.35"/><circle cx="179.1" cy="766.9" r="2.35"/><circle cx="179.1" cy="785.7" r="2.35"/><circle cx="179.9" cy="782.8" r="2.35"/><circle cx="181.2" cy="773.6" r="2.35"/><circle cx="181.3" cy="783.9" r="2.35"/><circle cx="181.4" cy="779.8" r="2.35"/><circle cx="181.5" cy="773.4" r="2.35"/><circle cx="181.5" cy="786.3" r="2.35"/><circle cx="181.8" cy="778.3" r="2.35"/><circle cx="182.7" cy="788.7" r="2.35"/><circle cx="183.1" cy="784.7" r="2.35"/><circle cx="183.3" cy="772.6" r="2.35"/><circle cx="183.8" cy="722.5" r="2.35"/><circle cx="184.0" cy="781.2" r="2.35"/><circle cx="184.4" cy="786.8" r="2.35"/><circle cx="184.6" cy="785.6" r="2.35"/><circle cx="185.9" cy="778.2" r="2.35"/><circle cx="186.1" cy="739.8" r="2.35"/><circle cx="186.4" cy="786.5" r="2.35"/><circle cx="187.1" cy="788.4" r="2.35"/><circle cx="187.3" cy="747.7" r="2.35"/><circle cx="187.3" cy="758.2" r="2.35"/><circle cx="188.0" cy="776.4" r="2.35"/><circle cx="188.0" cy="501.9" r="2.35"/><circle cx="188.0" cy="743.1" r="2.35"/><circle cx="188.0" cy="760.6" r="2.35"/><circle cx="188.5" cy="641.1" r="2.35"/><circle cx="188.5" cy="713.9" r="2.35"/><circle cx="189.6" cy="768.3" r="2.35"/></g>
<rect x="189.6" y="785.8" width="31.5" height="7.0" rx="1.3" fill="#61D04F"/>
<g fill="#61D04F"><circle cx="189.9" cy="772.5" r="2.35"/><circle cx="190.2" cy="789.7" r="2.35"/><circle cx="190.7" cy="783.6" r="2.35"/><circle cx="191.7" cy="789.1" r="2.35"/><circle cx="192.0" cy="655.5" r="2.35"/><circle cx="193.1" cy="788.0" r="2.35"/><circle cx="193.1" cy="786.4" r="2.35"/><circle cx="193.1" cy="768.3" r="2.35"/><circle cx="193.8" cy="786.6" r="2.35"/><circle cx="194.2" cy="774.4" r="2.35"/><circle cx="194.3" cy="754.3" r="2.35"/><circle cx="196.4" cy="786.6" r="2.35"/><circle cx="197.8" cy="771.1" r="2.35"/><circle cx="197.9" cy="780.2" r="2.35"/><circle cx="198.1" cy="769.3" r="2.35"/><circle cx="198.5" cy="782.2" r="2.35"/><circle cx="198.7" cy="785.0" r="2.35"/><circle cx="199.2" cy="784.8" r="2.35"/><circle cx="200.8" cy="770.3" r="2.35"/><circle cx="201.3" cy="774.3" r="2.35"/><circle cx="201.3" cy="785.9" r="2.35"/><circle cx="201.6" cy="771.0" r="2.35"/><circle cx="201.8" cy="783.9" r="2.35"/><circle cx="202.5" cy="782.4" r="2.35"/><circle cx="202.9" cy="784.1" r="2.35"/><circle cx="203.9" cy="780.5" r="2.35"/><circle cx="204.5" cy="777.2" r="2.35"/><circle cx="204.8" cy="765.3" r="2.35"/><circle cx="206.0" cy="769.9" r="2.35"/><circle cx="207.4" cy="778.0" r="2.35"/><circle cx="207.5" cy="778.1" r="2.35"/><circle cx="208.0" cy="787.4" r="2.35"/><circle cx="208.2" cy="770.5" r="2.35"/><circle cx="208.4" cy="773.7" r="2.35"/><circle cx="208.4" cy="787.6" r="2.35"/><circle cx="209.5" cy="735.6" r="2.35"/><circle cx="209.5" cy="757.5" r="2.35"/><circle cx="209.5" cy="766.9" r="2.35"/><circle cx="209.7" cy="656.5" r="2.35"/><circle cx="210.5" cy="775.3" r="2.35"/><circle cx="210.5" cy="778.1" r="2.35"/><circle cx="210.7" cy="787.8" r="2.35"/><circle cx="211.1" cy="769.3" r="2.35"/><circle cx="211.2" cy="787.9" r="2.35"/><circle cx="211.4" cy="786.6" r="2.35"/><circle cx="211.5" cy="771.8" r="2.35"/><circle cx="211.7" cy="773.8" r="2.35"/><circle cx="212.3" cy="711.5" r="2.35"/><circle cx="212.7" cy="783.4" r="2.35"/><circle cx="212.8" cy="681.9" r="2.35"/><circle cx="213.0" cy="621.9" r="2.35"/><circle cx="213.0" cy="725.5" r="2.35"/><circle cx="213.0" cy="750.1" r="2.35"/><circle cx="213.5" cy="787.3" r="2.35"/><circle cx="213.6" cy="786.4" r="2.35"/></g>
<rect x="213.8" y="785.8" width="10.5" height="7.0" rx="1.3" fill="#61D04F"/>
<g fill="#61D04F"><circle cx="214.3" cy="769.8" r="2.35"/><circle cx="215.3" cy="724.4" r="2.35"/><circle cx="215.3" cy="762.2" r="2.35"/><circle cx="215.7" cy="784.2" r="2.35"/><circle cx="215.7" cy="777.7" r="2.35"/><circle cx="215.7" cy="769.6" r="2.35"/><circle cx="215.9" cy="785.0" r="2.35"/><circle cx="216.1" cy="768.9" r="2.35"/><circle cx="216.4" cy="777.4" r="2.35"/><circle cx="216.4" cy="786.9" r="2.35"/><circle cx="216.4" cy="786.0" r="2.35"/><circle cx="216.5" cy="784.3" r="2.35"/><circle cx="216.5" cy="787.4" r="2.35"/><circle cx="217.0" cy="716.9" r="2.35"/><circle cx="217.0" cy="754.7" r="2.35"/><circle cx="217.0" cy="788.2" r="2.35"/><circle cx="217.3" cy="772.0" r="2.35"/><circle cx="217.3" cy="774.6" r="2.35"/><circle cx="217.4" cy="774.5" r="2.35"/><circle cx="217.5" cy="785.1" r="2.35"/><circle cx="217.5" cy="782.1" r="2.35"/><circle cx="217.6" cy="789.2" r="2.35"/><circle cx="218.2" cy="785.3" r="2.35"/><circle cx="218.4" cy="773.1" r="2.35"/><circle cx="218.7" cy="777.0" r="2.35"/><circle cx="218.7" cy="772.3" r="2.35"/><circle cx="218.8" cy="737.2" r="2.35"/><circle cx="218.9" cy="769.9" r="2.35"/><circle cx="219.1" cy="780.9" r="2.35"/><circle cx="219.2" cy="781.2" r="2.35"/><circle cx="219.7" cy="751.2" r="2.35"/><circle cx="219.7" cy="761.8" r="2.35"/><circle cx="219.7" cy="775.8" r="2.35"/><circle cx="220.0" cy="724.4" r="2.35"/><circle cx="220.1" cy="767.6" r="2.35"/><circle cx="220.9" cy="784.7" r="2.35"/><circle cx="221.0" cy="779.3" r="2.35"/><circle cx="221.2" cy="787.7" r="2.35"/><circle cx="221.5" cy="727.9" r="2.35"/><circle cx="222.0" cy="762.9" r="2.35"/><circle cx="222.3" cy="783.0" r="2.35"/><circle cx="222.3" cy="778.6" r="2.35"/><circle cx="222.4" cy="782.9" r="2.35"/><circle cx="222.5" cy="784.1" r="2.35"/><circle cx="223.2" cy="750.1" r="2.35"/><circle cx="223.5" cy="789.5" r="2.35"/><circle cx="223.8" cy="777.0" r="2.35"/><circle cx="223.8" cy="771.0" r="2.35"/><circle cx="223.9" cy="781.5" r="2.35"/><circle cx="224.3" cy="754.7" r="2.35"/></g>
<rect x="224.3" y="786.3" width="42.0" height="6.5" rx="1.3" fill="#2297E6"/>
<g fill="#2297E6"><circle cx="225.0" cy="782.7" r="2.35"/><circle cx="226.3" cy="787.5" r="2.35"/><circle cx="226.4" cy="786.4" r="2.35"/><circle cx="226.6" cy="774.2" r="2.35"/><circle cx="226.7" cy="723.9" r="2.35"/><circle cx="227.8" cy="757.1" r="2.35"/><circle cx="228.0" cy="774.0" r="2.35"/><circle cx="229.0" cy="764.1" r="2.35"/><circle cx="229.1" cy="786.5" r="2.35"/><circle cx="230.2" cy="771.1" r="2.35"/><circle cx="230.3" cy="779.7" r="2.35"/><circle cx="231.0" cy="786.7" r="2.35"/><circle cx="231.4" cy="758.2" r="2.35"/><circle cx="231.6" cy="787.4" r="2.35"/><circle cx="232.3" cy="786.5" r="2.35"/><circle cx="232.4" cy="787.1" r="2.35"/><circle cx="233.1" cy="787.8" r="2.35"/><circle cx="233.1" cy="775.8" r="2.35"/><circle cx="233.2" cy="738.4" r="2.35"/><circle cx="233.6" cy="777.1" r="2.35"/><circle cx="233.6" cy="774.9" r="2.35"/><circle cx="233.7" cy="766.4" r="2.35"/><circle cx="233.7" cy="774.7" r="2.35"/><circle cx="233.7" cy="787.1" r="2.35"/><circle cx="234.0" cy="783.0" r="2.35"/><circle cx="234.5" cy="786.9" r="2.35"/><circle cx="235.8" cy="775.1" r="2.35"/><circle cx="235.9" cy="784.0" r="2.35"/><circle cx="236.0" cy="745.4" r="2.35"/><circle cx="237.2" cy="777.2" r="2.35"/><circle cx="237.2" cy="772.3" r="2.35"/><circle cx="237.3" cy="784.9" r="2.35"/><circle cx="238.0" cy="784.0" r="2.35"/><circle cx="238.1" cy="786.9" r="2.35"/><circle cx="238.2" cy="778.2" r="2.35"/><circle cx="238.4" cy="760.6" r="2.35"/><circle cx="238.8" cy="786.2" r="2.35"/><circle cx="239.2" cy="777.1" r="2.35"/><circle cx="239.4" cy="787.0" r="2.35"/><circle cx="239.5" cy="748.2" r="2.35"/><circle cx="239.9" cy="784.3" r="2.35"/><circle cx="240.2" cy="737.2" r="2.35"/><circle cx="240.7" cy="764.1" r="2.35"/><circle cx="241.1" cy="786.8" r="2.35"/><circle cx="242.0" cy="787.9" r="2.35"/><circle cx="242.5" cy="773.9" r="2.35"/><circle cx="243.0" cy="729.1" r="2.35"/><circle cx="243.0" cy="735.6" r="2.35"/><circle cx="243.5" cy="742.6" r="2.35"/><circle cx="243.6" cy="786.0" r="2.35"/><circle cx="244.2" cy="762.9" r="2.35"/><circle cx="244.3" cy="786.2" r="2.35"/><circle cx="244.9" cy="736.1" r="2.35"/><circle cx="245.4" cy="772.3" r="2.35"/><circle cx="245.8" cy="785.9" r="2.35"/><circle cx="246.0" cy="777.4" r="2.35"/><circle cx="246.5" cy="711.1" r="2.35"/><circle cx="247.7" cy="768.8" r="2.35"/><circle cx="248.2" cy="785.3" r="2.35"/><circle cx="248.5" cy="772.5" r="2.35"/><circle cx="248.9" cy="788.6" r="2.35"/><circle cx="249.9" cy="785.0" r="2.35"/><circle cx="250.0" cy="758.2" r="2.35"/><circle cx="250.0" cy="773.4" r="2.35"/><circle cx="250.2" cy="789.3" r="2.35"/><circle cx="250.6" cy="779.8" r="2.35"/><circle cx="251.3" cy="776.2" r="2.35"/><circle cx="251.3" cy="785.6" r="2.35"/><circle cx="252.5" cy="774.5" r="2.35"/><circle cx="253.3" cy="773.5" r="2.35"/><circle cx="253.4" cy="782.6" r="2.35"/><circle cx="253.7" cy="786.3" r="2.35"/><circle cx="254.2" cy="778.7" r="2.35"/><circle cx="255.6" cy="786.9" r="2.35"/><circle cx="255.9" cy="738.4" r="2.35"/><circle cx="255.9" cy="742.6" r="2.35"/><circle cx="255.9" cy="745.9" r="2.35"/><circle cx="256.0" cy="788.8" r="2.35"/><circle cx="256.3" cy="778.8" r="2.35"/><circle cx="256.5" cy="774.7" r="2.35"/><circle cx="256.8" cy="789.7" r="2.35"/><circle cx="257.0" cy="764.1" r="2.35"/><circle cx="257.9" cy="781.2" r="2.35"/><circle cx="257.9" cy="783.9" r="2.35"/><circle cx="258.0" cy="773.8" r="2.35"/><circle cx="258.1" cy="786.7" r="2.35"/><circle cx="258.2" cy="773.6" r="2.35"/><circle cx="258.4" cy="786.5" r="2.35"/><circle cx="258.9" cy="756.6" r="2.35"/><circle cx="259.0" cy="783.9" r="2.35"/><circle cx="260.5" cy="772.3" r="2.35"/><circle cx="261.0" cy="778.3" r="2.35"/><circle cx="261.1" cy="788.4" r="2.35"/><circle cx="261.1" cy="782.3" r="2.35"/><circle cx="261.2" cy="735.6" r="2.35"/><circle cx="261.6" cy="786.8" r="2.35"/><circle cx="262.3" cy="788.4" r="2.35"/><circle cx="262.5" cy="776.8" r="2.35"/><circle cx="262.6" cy="787.0" r="2.35"/><circle cx="263.1" cy="776.0" r="2.35"/><circle cx="263.5" cy="787.3" r="2.35"/><circle cx="263.6" cy="789.1" r="2.35"/><circle cx="263.8" cy="772.6" r="2.35"/><circle cx="263.8" cy="787.8" r="2.35"/><circle cx="264.1" cy="743.1" r="2.35"/><circle cx="264.1" cy="788.6" r="2.35"/><circle cx="264.9" cy="774.3" r="2.35"/><circle cx="265.2" cy="766.9" r="2.35"/></g>
<rect x="265.2" y="785.8" width="23.4" height="7.0" rx="1.3" fill="#28E2E5"/>
<g fill="#28E2E5"><circle cx="265.5" cy="771.5" r="2.35"/><circle cx="266.0" cy="779.7" r="2.35"/><circle cx="266.1" cy="772.2" r="2.35"/></g>
<g fill="#2297E6"><circle cx="266.4" cy="713.9" r="2.35"/></g>
<g fill="#28E2E5"><circle cx="267.3" cy="779.5" r="2.35"/><circle cx="267.6" cy="773.4" r="2.35"/><circle cx="267.8" cy="777.5" r="2.35"/><circle cx="268.7" cy="761.8" r="2.35"/><circle cx="268.9" cy="786.9" r="2.35"/><circle cx="270.0" cy="779.0" r="2.35"/><circle cx="270.1" cy="781.7" r="2.35"/><circle cx="271.1" cy="709.9" r="2.35"/><circle cx="271.1" cy="738.9" r="2.35"/><circle cx="271.1" cy="747.7" r="2.35"/><circle cx="271.1" cy="758.2" r="2.35"/><circle cx="271.1" cy="785.3" r="2.35"/><circle cx="271.7" cy="775.5" r="2.35"/><circle cx="272.0" cy="788.1" r="2.35"/><circle cx="272.0" cy="785.4" r="2.35"/><circle cx="272.0" cy="774.3" r="2.35"/><circle cx="272.2" cy="769.5" r="2.35"/><circle cx="272.2" cy="753.6" r="2.35"/><circle cx="272.3" cy="782.4" r="2.35"/><circle cx="272.4" cy="779.8" r="2.35"/><circle cx="272.6" cy="789.2" r="2.35"/><circle cx="273.0" cy="771.6" r="2.35"/><circle cx="273.0" cy="785.6" r="2.35"/><circle cx="273.4" cy="772.3" r="2.35"/><circle cx="273.5" cy="773.8" r="2.35"/><circle cx="273.9" cy="720.9" r="2.35"/><circle cx="274.3" cy="771.9" r="2.35"/><circle cx="274.6" cy="719.7" r="2.35"/><circle cx="274.6" cy="729.8" r="2.35"/><circle cx="274.6" cy="760.6" r="2.35"/><circle cx="275.4" cy="776.7" r="2.35"/><circle cx="275.6" cy="769.2" r="2.35"/><circle cx="275.7" cy="766.4" r="2.35"/><circle cx="276.8" cy="786.3" r="2.35"/><circle cx="276.8" cy="780.8" r="2.35"/><circle cx="276.9" cy="755.2" r="2.35"/><circle cx="278.2" cy="775.3" r="2.35"/><circle cx="278.8" cy="769.6" r="2.35"/><circle cx="279.0" cy="775.8" r="2.35"/><circle cx="279.2" cy="754.7" r="2.35"/><circle cx="279.8" cy="787.4" r="2.35"/><circle cx="280.2" cy="785.2" r="2.35"/><circle cx="280.4" cy="768.3" r="2.35"/><circle cx="280.6" cy="783.1" r="2.35"/><circle cx="281.6" cy="749.6" r="2.35"/><circle cx="281.6" cy="781.7" r="2.35"/><circle cx="281.9" cy="777.9" r="2.35"/><circle cx="282.1" cy="785.4" r="2.35"/><circle cx="282.4" cy="785.9" r="2.35"/><circle cx="282.7" cy="758.9" r="2.35"/><circle cx="283.2" cy="724.8" r="2.35"/><circle cx="283.9" cy="732.6" r="2.35"/><circle cx="283.9" cy="743.1" r="2.35"/><circle cx="284.0" cy="784.4" r="2.35"/><circle cx="284.1" cy="772.3" r="2.35"/><circle cx="285.1" cy="744.2" r="2.35"/><circle cx="285.1" cy="769.9" r="2.35"/><circle cx="285.9" cy="772.3" r="2.35"/><circle cx="286.0" cy="786.3" r="2.35"/><circle cx="286.7" cy="775.3" r="2.35"/><circle cx="286.9" cy="728.6" r="2.35"/><circle cx="287.2" cy="782.9" r="2.35"/><circle cx="287.4" cy="753.6" r="2.35"/><circle cx="287.5" cy="777.0" r="2.35"/><circle cx="288.6" cy="787.9" r="2.35"/></g>
<rect x="288.6" y="786.3" width="30.4" height="6.5" rx="1.3" fill="#CD0BBC"/>
<g fill="#CD0BBC"><circle cx="288.7" cy="780.5" r="2.35"/><circle cx="288.7" cy="771.4" r="2.35"/><circle cx="288.7" cy="777.4" r="2.35"/><circle cx="288.9" cy="778.6" r="2.35"/><circle cx="289.2" cy="781.1" r="2.35"/><circle cx="289.7" cy="690.5" r="2.35"/><circle cx="289.8" cy="787.2" r="2.35"/><circle cx="289.9" cy="775.0" r="2.35"/><circle cx="290.2" cy="776.7" r="2.35"/><circle cx="290.9" cy="722.0" r="2.35"/><circle cx="290.9" cy="765.3" r="2.35"/><circle cx="291.2" cy="776.0" r="2.35"/><circle cx="291.4" cy="774.1" r="2.35"/><circle cx="291.5" cy="778.2" r="2.35"/><circle cx="292.1" cy="691.2" r="2.35"/><circle cx="292.9" cy="781.9" r="2.35"/><circle cx="293.0" cy="789.3" r="2.35"/><circle cx="293.2" cy="780.1" r="2.35"/><circle cx="293.2" cy="769.9" r="2.35"/><circle cx="293.5" cy="777.1" r="2.35"/><circle cx="293.7" cy="775.2" r="2.35"/><circle cx="294.4" cy="704.5" r="2.35"/><circle cx="294.4" cy="767.6" r="2.35"/><circle cx="294.9" cy="785.6" r="2.35"/><circle cx="295.1" cy="699.9" r="2.35"/><circle cx="295.6" cy="723.2" r="2.35"/><circle cx="296.1" cy="786.4" r="2.35"/><circle cx="296.3" cy="774.4" r="2.35"/><circle cx="296.4" cy="778.3" r="2.35"/><circle cx="296.4" cy="776.6" r="2.35"/><circle cx="296.5" cy="772.2" r="2.35"/><circle cx="297.2" cy="671.4" r="2.35"/><circle cx="297.3" cy="782.6" r="2.35"/><circle cx="297.9" cy="784.1" r="2.35"/><circle cx="297.9" cy="766.4" r="2.35"/><circle cx="299.1" cy="660.7" r="2.35"/><circle cx="299.6" cy="782.9" r="2.35"/><circle cx="300.0" cy="783.0" r="2.35"/><circle cx="300.3" cy="772.3" r="2.35"/><circle cx="300.3" cy="787.2" r="2.35"/><circle cx="300.9" cy="775.2" r="2.35"/><circle cx="301.2" cy="778.5" r="2.35"/><circle cx="301.4" cy="762.2" r="2.35"/><circle cx="302.0" cy="786.3" r="2.35"/><circle cx="303.3" cy="729.1" r="2.35"/><circle cx="303.4" cy="785.6" r="2.35"/><circle cx="303.8" cy="784.6" r="2.35"/><circle cx="305.1" cy="779.5" r="2.35"/><circle cx="306.1" cy="755.9" r="2.35"/><circle cx="306.7" cy="774.7" r="2.35"/><circle cx="307.1" cy="783.2" r="2.35"/><circle cx="307.3" cy="784.0" r="2.35"/><circle cx="307.3" cy="717.4" r="2.35"/><circle cx="307.3" cy="769.9" r="2.35"/><circle cx="307.3" cy="778.9" r="2.35"/><circle cx="307.5" cy="593.9" r="2.35"/><circle cx="308.0" cy="738.9" r="2.35"/><circle cx="308.0" cy="783.8" r="2.35"/><circle cx="308.4" cy="757.1" r="2.35"/><circle cx="308.8" cy="787.0" r="2.35"/><circle cx="308.9" cy="684.3" r="2.35"/><circle cx="309.0" cy="785.3" r="2.35"/><circle cx="309.6" cy="787.6" r="2.35"/><circle cx="309.7" cy="774.1" r="2.35"/><circle cx="310.3" cy="595.3" r="2.35"/><circle cx="310.5" cy="781.0" r="2.35"/><circle cx="310.8" cy="609.8" r="2.35"/><circle cx="310.8" cy="722.0" r="2.35"/><circle cx="310.8" cy="772.3" r="2.35"/><circle cx="311.0" cy="641.5" r="2.35"/><circle cx="311.5" cy="744.9" r="2.35"/><circle cx="311.5" cy="782.7" r="2.35"/><circle cx="311.9" cy="710.4" r="2.35"/><circle cx="311.9" cy="765.3" r="2.35"/><circle cx="312.3" cy="772.5" r="2.35"/><circle cx="313.1" cy="559.8" r="2.35"/><circle cx="313.1" cy="754.7" r="2.35"/><circle cx="313.3" cy="785.8" r="2.35"/><circle cx="313.3" cy="785.0" r="2.35"/><circle cx="313.6" cy="703.4" r="2.35"/><circle cx="313.7" cy="785.1" r="2.35"/><circle cx="314.0" cy="789.1" r="2.35"/><circle cx="314.2" cy="786.5" r="2.35"/><circle cx="314.4" cy="787.1" r="2.35"/><circle cx="314.4" cy="776.7" r="2.35"/><circle cx="314.6" cy="776.3" r="2.35"/><circle cx="314.6" cy="778.7" r="2.35"/><circle cx="314.7" cy="775.2" r="2.35"/><circle cx="314.8" cy="785.4" r="2.35"/><circle cx="315.0" cy="703.8" r="2.35"/><circle cx="315.4" cy="762.9" r="2.35"/><circle cx="316.4" cy="772.1" r="2.35"/><circle cx="317.1" cy="784.5" r="2.35"/></g>
<rect x="318.9" y="786.3" width="36.2" height="6.5" rx="1.3" fill="#F5C710"/>
<g fill="#F5C710"><circle cx="320.9" cy="787.0" r="2.35"/><circle cx="321.3" cy="776.3" r="2.35"/><circle cx="321.6" cy="786.7" r="2.35"/><circle cx="321.8" cy="779.5" r="2.35"/><circle cx="322.4" cy="777.0" r="2.35"/><circle cx="323.0" cy="783.4" r="2.35"/><circle cx="323.2" cy="782.5" r="2.35"/><circle cx="323.3" cy="785.9" r="2.35"/><circle cx="325.4" cy="782.1" r="2.35"/><circle cx="325.6" cy="782.6" r="2.35"/><circle cx="325.9" cy="768.8" r="2.35"/><circle cx="326.2" cy="776.0" r="2.35"/><circle cx="326.3" cy="781.6" r="2.35"/><circle cx="326.3" cy="774.4" r="2.35"/><circle cx="326.6" cy="778.3" r="2.35"/><circle cx="326.7" cy="780.4" r="2.35"/><circle cx="326.8" cy="783.3" r="2.35"/><circle cx="327.1" cy="774.6" r="2.35"/><circle cx="327.2" cy="774.9" r="2.35"/><circle cx="327.8" cy="778.8" r="2.35"/><circle cx="327.8" cy="784.6" r="2.35"/><circle cx="328.3" cy="698.0" r="2.35"/><circle cx="328.7" cy="783.1" r="2.35"/><circle cx="329.2" cy="781.2" r="2.35"/><circle cx="329.3" cy="773.5" r="2.35"/><circle cx="330.1" cy="784.9" r="2.35"/><circle cx="330.6" cy="716.7" r="2.35"/><circle cx="331.3" cy="744.9" r="2.35"/><circle cx="331.8" cy="737.2" r="2.35"/><circle cx="331.8" cy="769.9" r="2.35"/><circle cx="332.5" cy="781.1" r="2.35"/><circle cx="333.1" cy="782.6" r="2.35"/><circle cx="334.1" cy="750.1" r="2.35"/><circle cx="334.1" cy="775.8" r="2.35"/><circle cx="334.6" cy="782.7" r="2.35"/><circle cx="335.0" cy="779.4" r="2.35"/><circle cx="335.0" cy="788.6" r="2.35"/><circle cx="336.0" cy="753.6" r="2.35"/><circle cx="336.5" cy="768.8" r="2.35"/><circle cx="336.8" cy="787.1" r="2.35"/><circle cx="336.9" cy="786.7" r="2.35"/><circle cx="337.2" cy="775.2" r="2.35"/><circle cx="337.3" cy="779.1" r="2.35"/><circle cx="337.6" cy="784.8" r="2.35"/><circle cx="337.6" cy="760.6" r="2.35"/><circle cx="338.6" cy="786.5" r="2.35"/><circle cx="338.8" cy="789.1" r="2.35"/><circle cx="339.1" cy="789.3" r="2.35"/><circle cx="339.7" cy="785.7" r="2.35"/><circle cx="339.8" cy="782.5" r="2.35"/><circle cx="341.0" cy="776.8" r="2.35"/><circle cx="341.0" cy="788.6" r="2.35"/><circle cx="341.1" cy="759.4" r="2.35"/><circle cx="341.2" cy="776.5" r="2.35"/><circle cx="341.9" cy="785.6" r="2.35"/><circle cx="342.3" cy="774.6" r="2.35"/><circle cx="343.0" cy="781.0" r="2.35"/><circle cx="343.5" cy="778.5" r="2.35"/><circle cx="343.6" cy="781.7" r="2.35"/><circle cx="343.8" cy="779.7" r="2.35"/><circle cx="343.8" cy="777.2" r="2.35"/><circle cx="344.6" cy="788.6" r="2.35"/><circle cx="344.9" cy="775.5" r="2.35"/><circle cx="345.3" cy="713.9" r="2.35"/><circle cx="345.8" cy="787.9" r="2.35"/><circle cx="345.8" cy="673.3" r="2.35"/><circle cx="345.8" cy="762.9" r="2.35"/><circle cx="345.8" cy="767.6" r="2.35"/><circle cx="346.4" cy="773.6" r="2.35"/><circle cx="346.6" cy="776.6" r="2.35"/><circle cx="347.0" cy="771.1" r="2.35"/><circle cx="347.7" cy="784.9" r="2.35"/><circle cx="348.0" cy="785.3" r="2.35"/><circle cx="348.1" cy="761.8" r="2.35"/><circle cx="349.1" cy="778.1" r="2.35"/><circle cx="349.3" cy="751.9" r="2.35"/><circle cx="349.7" cy="779.8" r="2.35"/><circle cx="350.2" cy="789.6" r="2.35"/><circle cx="350.3" cy="786.7" r="2.35"/><circle cx="350.5" cy="775.8" r="2.35"/><circle cx="350.5" cy="787.2" r="2.35"/><circle cx="350.7" cy="784.8" r="2.35"/><circle cx="352.2" cy="774.3" r="2.35"/><circle cx="352.3" cy="731.9" r="2.35"/><circle cx="352.5" cy="782.6" r="2.35"/></g>
<g fill="#9E9E9E"><circle cx="352.8" cy="750.1" r="2.35"/></g>
<g fill="#F5C710"><circle cx="353.1" cy="779.6" r="2.35"/><circle cx="354.0" cy="754.3" r="2.35"/></g>
<rect x="354.0" y="786.7" width="22.2" height="6.1" rx="1.3" fill="#9E9E9E"/>
<g fill="#9E9E9E"><circle cx="354.8" cy="779.4" r="2.35"/></g>
<g fill="#F5C710"><circle cx="354.8" cy="789.2" r="2.35"/><circle cx="355.1" cy="784.4" r="2.35"/></g>
<g fill="#9E9E9E"><circle cx="355.1" cy="687.0" r="2.35"/><circle cx="355.1" cy="723.2" r="2.35"/><circle cx="355.5" cy="781.8" r="2.35"/><circle cx="355.8" cy="783.6" r="2.35"/><circle cx="356.0" cy="783.7" r="2.35"/><circle cx="356.3" cy="691.2" r="2.35"/><circle cx="356.3" cy="757.1" r="2.35"/><circle cx="356.8" cy="636.9" r="2.35"/><circle cx="357.2" cy="785.3" r="2.35"/><circle cx="357.5" cy="678.4" r="2.35"/><circle cx="357.5" cy="726.7" r="2.35"/><circle cx="357.5" cy="789.0" r="2.35"/><circle cx="357.6" cy="778.4" r="2.35"/><circle cx="357.7" cy="787.2" r="2.35"/><circle cx="357.7" cy="782.1" r="2.35"/><circle cx="358.0" cy="789.4" r="2.35"/><circle cx="358.4" cy="773.6" r="2.35"/><circle cx="358.5" cy="788.2" r="2.35"/><circle cx="358.6" cy="664.4" r="2.35"/><circle cx="358.6" cy="681.9" r="2.35"/><circle cx="358.6" cy="768.8" r="2.35"/><circle cx="358.9" cy="786.6" r="2.35"/><circle cx="359.3" cy="775.8" r="2.35"/><circle cx="359.4" cy="677.3" r="2.35"/><circle cx="359.5" cy="787.1" r="2.35"/><circle cx="360.2" cy="786.6" r="2.35"/><circle cx="361.0" cy="684.3" r="2.35"/><circle cx="361.0" cy="729.1" r="2.35"/><circle cx="361.0" cy="736.1" r="2.35"/><circle cx="361.5" cy="788.7" r="2.35"/><circle cx="362.1" cy="789.1" r="2.35"/><circle cx="362.2" cy="739.6" r="2.35"/><circle cx="362.2" cy="750.1" r="2.35"/><circle cx="362.2" cy="760.6" r="2.35"/><circle cx="362.3" cy="774.8" r="2.35"/><circle cx="362.6" cy="782.3" r="2.35"/><circle cx="363.3" cy="684.3" r="2.35"/><circle cx="364.0" cy="699.2" r="2.35"/><circle cx="365.4" cy="775.7" r="2.35"/><circle cx="365.7" cy="690.5" r="2.35"/><circle cx="366.8" cy="679.6" r="2.35"/><circle cx="366.8" cy="730.2" r="2.35"/><circle cx="366.8" cy="771.1" r="2.35"/><circle cx="366.9" cy="786.6" r="2.35"/><circle cx="368.5" cy="781.7" r="2.35"/><circle cx="368.6" cy="779.0" r="2.35"/></g>
<rect x="368.8" y="786.7" width="46.7" height="6.1" rx="1.3" fill="#9E9E9E"/>
<g fill="#9E9E9E"><circle cx="369.0" cy="786.4" r="2.35"/><circle cx="369.2" cy="647.6" r="2.35"/><circle cx="369.2" cy="696.4" r="2.35"/><circle cx="369.2" cy="742.6" r="2.35"/><circle cx="369.2" cy="764.1" r="2.35"/><circle cx="369.2" cy="789.0" r="2.35"/><circle cx="369.9" cy="786.5" r="2.35"/><circle cx="369.9" cy="789.6" r="2.35"/><circle cx="370.1" cy="789.6" r="2.35"/><circle cx="370.2" cy="775.4" r="2.35"/><circle cx="370.3" cy="703.4" r="2.35"/><circle cx="370.3" cy="751.2" r="2.35"/><circle cx="370.3" cy="777.9" r="2.35"/><circle cx="370.5" cy="788.3" r="2.35"/><circle cx="371.3" cy="788.6" r="2.35"/><circle cx="371.5" cy="697.5" r="2.35"/><circle cx="371.5" cy="779.3" r="2.35"/><circle cx="371.6" cy="788.9" r="2.35"/><circle cx="371.7" cy="780.0" r="2.35"/><circle cx="372.3" cy="760.6" r="2.35"/><circle cx="373.2" cy="785.4" r="2.35"/><circle cx="373.6" cy="786.2" r="2.35"/><circle cx="373.7" cy="775.7" r="2.35"/><circle cx="373.8" cy="743.1" r="2.35"/><circle cx="373.8" cy="768.8" r="2.35"/><circle cx="373.8" cy="787.9" r="2.35"/><circle cx="374.1" cy="777.0" r="2.35"/><circle cx="374.2" cy="788.8" r="2.35"/><circle cx="374.2" cy="780.1" r="2.35"/><circle cx="374.5" cy="776.7" r="2.35"/><circle cx="374.7" cy="754.7" r="2.35"/><circle cx="375.6" cy="779.1" r="2.35"/><circle cx="375.8" cy="787.8" r="2.35"/><circle cx="376.0" cy="776.0" r="2.35"/><circle cx="376.1" cy="778.5" r="2.35"/><circle cx="376.8" cy="788.5" r="2.35"/><circle cx="376.9" cy="773.5" r="2.35"/><circle cx="377.0" cy="699.9" r="2.35"/><circle cx="377.0" cy="745.4" r="2.35"/><circle cx="378.2" cy="691.7" r="2.35"/><circle cx="378.2" cy="769.9" r="2.35"/><circle cx="378.4" cy="783.5" r="2.35"/><circle cx="378.6" cy="671.0" r="2.35"/><circle cx="378.8" cy="785.7" r="2.35"/><circle cx="378.9" cy="789.1" r="2.35"/><circle cx="379.3" cy="750.1" r="2.35"/><circle cx="380.5" cy="773.6" r="2.35"/><circle cx="380.5" cy="695.9" r="2.35"/><circle cx="381.2" cy="786.3" r="2.35"/><circle cx="381.2" cy="675.2" r="2.35"/><circle cx="381.4" cy="785.2" r="2.35"/><circle cx="381.7" cy="760.6" r="2.35"/><circle cx="381.8" cy="786.8" r="2.35"/><circle cx="382.0" cy="780.6" r="2.35"/><circle cx="382.4" cy="636.2" r="2.35"/><circle cx="382.7" cy="774.0" r="2.35"/><circle cx="382.8" cy="692.8" r="2.35"/><circle cx="382.8" cy="741.9" r="2.35"/><circle cx="383.3" cy="780.8" r="2.35"/><circle cx="384.0" cy="666.3" r="2.35"/><circle cx="384.0" cy="669.1" r="2.35"/><circle cx="384.0" cy="746.6" r="2.35"/><circle cx="384.0" cy="767.6" r="2.35"/><circle cx="385.0" cy="788.2" r="2.35"/><circle cx="385.7" cy="785.7" r="2.35"/><circle cx="385.8" cy="788.2" r="2.35"/><circle cx="385.9" cy="681.2" r="2.35"/><circle cx="386.2" cy="788.8" r="2.35"/><circle cx="386.4" cy="667.2" r="2.35"/><circle cx="386.4" cy="691.7" r="2.35"/><circle cx="386.4" cy="736.1" r="2.35"/><circle cx="386.4" cy="751.2" r="2.35"/><circle cx="386.4" cy="780.4" r="2.35"/><circle cx="386.7" cy="786.6" r="2.35"/><circle cx="386.8" cy="624.7" r="2.35"/><circle cx="387.5" cy="761.8" r="2.35"/><circle cx="387.6" cy="781.6" r="2.35"/><circle cx="388.7" cy="701.0" r="2.35"/><circle cx="388.7" cy="771.1" r="2.35"/><circle cx="388.8" cy="789.6" r="2.35"/><circle cx="389.1" cy="778.4" r="2.35"/><circle cx="389.9" cy="694.0" r="2.35"/><circle cx="390.6" cy="684.3" r="2.35"/><circle cx="390.8" cy="774.5" r="2.35"/><circle cx="391.0" cy="732.6" r="2.35"/><circle cx="392.2" cy="681.9" r="2.35"/><circle cx="392.2" cy="744.2" r="2.35"/><circle cx="392.7" cy="652.5" r="2.35"/><circle cx="392.7" cy="787.3" r="2.35"/><circle cx="392.9" cy="787.6" r="2.35"/><circle cx="393.4" cy="729.1" r="2.35"/><circle cx="393.4" cy="750.1" r="2.35"/><circle cx="393.4" cy="762.9" r="2.35"/><circle cx="393.6" cy="777.5" r="2.35"/><circle cx="393.6" cy="659.0" r="2.35"/><circle cx="393.7" cy="788.4" r="2.35"/><circle cx="393.9" cy="786.5" r="2.35"/><circle cx="394.1" cy="680.8" r="2.35"/><circle cx="394.5" cy="629.4" r="2.35"/><circle cx="395.2" cy="685.0" r="2.35"/><circle cx="395.3" cy="786.6" r="2.35"/><circle cx="396.4" cy="662.5" r="2.35"/><circle cx="396.9" cy="690.5" r="2.35"/><circle cx="396.9" cy="752.4" r="2.35"/><circle cx="398.0" cy="648.5" r="2.35"/><circle cx="398.0" cy="743.1" r="2.35"/><circle cx="398.0" cy="767.6" r="2.35"/><circle cx="398.5" cy="703.4" r="2.35"/><circle cx="398.7" cy="628.4" r="2.35"/><circle cx="399.2" cy="760.6" r="2.35"/><circle cx="400.8" cy="787.0" r="2.35"/><circle cx="401.5" cy="742.6" r="2.35"/><circle cx="401.6" cy="775.7" r="2.35"/><circle cx="402.0" cy="717.8" r="2.35"/><circle cx="402.0" cy="726.2" r="2.35"/><circle cx="402.3" cy="786.2" r="2.35"/><circle cx="402.5" cy="785.1" r="2.35"/><circle cx="403.9" cy="692.8" r="2.35"/><circle cx="404.3" cy="630.1" r="2.35"/><circle cx="405.0" cy="687.5" r="2.35"/><circle cx="405.0" cy="754.7" r="2.35"/><circle cx="406.2" cy="734.2" r="2.35"/><circle cx="406.2" cy="769.9" r="2.35"/><circle cx="406.2" cy="776.8" r="2.35"/><circle cx="406.7" cy="785.1" r="2.35"/><circle cx="407.3" cy="788.0" r="2.35"/><circle cx="407.4" cy="754.7" r="2.35"/><circle cx="408.0" cy="775.8" r="2.35"/><circle cx="408.5" cy="789.5" r="2.35"/><circle cx="408.8" cy="621.7" r="2.35"/><circle cx="408.8" cy="777.1" r="2.35"/><circle cx="409.7" cy="782.5" r="2.35"/><circle cx="409.7" cy="691.7" r="2.35"/><circle cx="410.1" cy="787.7" r="2.35"/><circle cx="410.2" cy="777.8" r="2.35"/><circle cx="410.3" cy="775.7" r="2.35"/><circle cx="410.4" cy="788.6" r="2.35"/><circle cx="410.9" cy="671.9" r="2.35"/><circle cx="411.6" cy="692.8" r="2.35"/><circle cx="412.0" cy="627.3" r="2.35"/><circle cx="412.0" cy="760.6" r="2.35"/><circle cx="413.2" cy="787.0" r="2.35"/><circle cx="413.2" cy="737.9" r="2.35"/><circle cx="413.2" cy="771.1" r="2.35"/><circle cx="413.5" cy="779.2" r="2.35"/><circle cx="413.5" cy="785.4" r="2.35"/><circle cx="413.9" cy="788.0" r="2.35"/><circle cx="414.4" cy="743.1" r="2.35"/></g>
<rect x="414.4" y="786.3" width="40.9" height="6.5" rx="1.3" fill="#000000"/>
<g fill="#9E9E9E"><circle cx="414.4" cy="781.2" r="2.35"/></g>
<g fill="#000000"><circle cx="415.0" cy="788.5" r="2.35"/><circle cx="415.4" cy="774.9" r="2.35"/><circle cx="415.5" cy="776.2" r="2.35"/><circle cx="415.9" cy="784.4" r="2.35"/><circle cx="416.2" cy="754.3" r="2.35"/><circle cx="416.9" cy="774.1" r="2.35"/><circle cx="416.9" cy="780.4" r="2.35"/><circle cx="417.8" cy="781.0" r="2.35"/><circle cx="419.1" cy="755.9" r="2.35"/><circle cx="419.2" cy="786.8" r="2.35"/><circle cx="419.7" cy="782.7" r="2.35"/><circle cx="419.8" cy="764.1" r="2.35"/><circle cx="420.2" cy="766.4" r="2.35"/><circle cx="420.7" cy="787.7" r="2.35"/><circle cx="421.1" cy="782.6" r="2.35"/><circle cx="421.9" cy="782.1" r="2.35"/><circle cx="422.1" cy="750.5" r="2.35"/><circle cx="422.1" cy="785.0" r="2.35"/><circle cx="422.2" cy="784.5" r="2.35"/><circle cx="422.5" cy="787.1" r="2.35"/><circle cx="422.9" cy="780.4" r="2.35"/><circle cx="423.0" cy="785.1" r="2.35"/><circle cx="423.2" cy="789.3" r="2.35"/><circle cx="423.4" cy="777.3" r="2.35"/><circle cx="423.4" cy="785.3" r="2.35"/><circle cx="423.6" cy="778.8" r="2.35"/><circle cx="423.7" cy="760.6" r="2.35"/><circle cx="423.7" cy="773.4" r="2.35"/><circle cx="423.8" cy="782.3" r="2.35"/><circle cx="424.1" cy="779.1" r="2.35"/><circle cx="424.4" cy="786.8" r="2.35"/><circle cx="424.4" cy="783.7" r="2.35"/><circle cx="426.4" cy="779.7" r="2.35"/><circle cx="426.4" cy="786.8" r="2.35"/><circle cx="426.4" cy="776.8" r="2.35"/><circle cx="426.9" cy="787.5" r="2.35"/><circle cx="427.1" cy="783.8" r="2.35"/><circle cx="428.4" cy="769.9" r="2.35"/><circle cx="430.2" cy="785.3" r="2.35"/><circle cx="430.7" cy="774.6" r="2.35"/><circle cx="432.0" cy="788.5" r="2.35"/><circle cx="432.6" cy="756.6" r="2.35"/><circle cx="433.5" cy="777.5" r="2.35"/><circle cx="434.5" cy="774.3" r="2.35"/><circle cx="434.9" cy="789.3" r="2.35"/><circle cx="435.2" cy="789.6" r="2.35"/><circle cx="436.6" cy="769.9" r="2.35"/><circle cx="437.2" cy="781.0" r="2.35"/><circle cx="437.7" cy="782.6" r="2.35"/><circle cx="438.1" cy="776.1" r="2.35"/><circle cx="438.5" cy="777.8" r="2.35"/><circle cx="438.7" cy="780.2" r="2.35"/><circle cx="439.6" cy="785.0" r="2.35"/><circle cx="439.8" cy="785.2" r="2.35"/><circle cx="440.1" cy="755.9" r="2.35"/><circle cx="440.1" cy="772.3" r="2.35"/><circle cx="440.5" cy="762.9" r="2.35"/><circle cx="440.9" cy="782.0" r="2.35"/><circle cx="441.0" cy="785.3" r="2.35"/><circle cx="441.4" cy="774.4" r="2.35"/><circle cx="441.7" cy="786.3" r="2.35"/><circle cx="441.7" cy="778.4" r="2.35"/><circle cx="442.1" cy="786.3" r="2.35"/><circle cx="443.3" cy="788.8" r="2.35"/><circle cx="443.6" cy="784.1" r="2.35"/><circle cx="444.3" cy="778.9" r="2.35"/><circle cx="444.3" cy="755.9" r="2.35"/><circle cx="444.7" cy="750.8" r="2.35"/><circle cx="444.7" cy="769.9" r="2.35"/><circle cx="446.8" cy="788.7" r="2.35"/><circle cx="448.2" cy="773.4" r="2.35"/><circle cx="448.9" cy="779.9" r="2.35"/><circle cx="449.0" cy="785.3" r="2.35"/><circle cx="449.5" cy="784.2" r="2.35"/><circle cx="449.6" cy="778.3" r="2.35"/><circle cx="450.3" cy="775.0" r="2.35"/><circle cx="450.6" cy="761.3" r="2.35"/><circle cx="450.7" cy="786.2" r="2.35"/><circle cx="451.3" cy="785.6" r="2.35"/><circle cx="451.8" cy="765.3" r="2.35"/><circle cx="452.1" cy="783.9" r="2.35"/><circle cx="452.9" cy="754.7" r="2.35"/><circle cx="453.0" cy="788.4" r="2.35"/><circle cx="453.4" cy="775.4" r="2.35"/><circle cx="453.4" cy="778.3" r="2.35"/><circle cx="453.8" cy="781.8" r="2.35"/><circle cx="454.0" cy="773.9" r="2.35"/><circle cx="454.6" cy="758.2" r="2.35"/></g>
<rect x="454.6" y="785.8" width="17.1" height="7.0" rx="1.3" fill="#DF536B"/>
<g fill="#000000"><circle cx="455.0" cy="788.5" r="2.35"/></g>
<g fill="#DF536B"><circle cx="455.7" cy="787.0" r="2.35"/><circle cx="455.8" cy="773.5" r="2.35"/><circle cx="457.6" cy="769.9" r="2.35"/><circle cx="458.0" cy="789.6" r="2.35"/><circle cx="458.1" cy="787.4" r="2.35"/><circle cx="458.3" cy="776.4" r="2.35"/><circle cx="458.3" cy="784.5" r="2.35"/><circle cx="458.3" cy="762.2" r="2.35"/><circle cx="458.8" cy="787.9" r="2.35"/><circle cx="459.4" cy="774.4" r="2.35"/><circle cx="459.4" cy="781.9" r="2.35"/><circle cx="459.7" cy="788.2" r="2.35"/><circle cx="461.1" cy="766.4" r="2.35"/><circle cx="461.6" cy="786.1" r="2.35"/><circle cx="461.9" cy="769.4" r="2.35"/><circle cx="462.0" cy="780.9" r="2.35"/><circle cx="462.2" cy="788.6" r="2.35"/><circle cx="462.3" cy="772.3" r="2.35"/><circle cx="462.5" cy="787.6" r="2.35"/><circle cx="463.2" cy="786.4" r="2.35"/><circle cx="463.3" cy="787.6" r="2.35"/><circle cx="463.4" cy="762.9" r="2.35"/><circle cx="464.0" cy="783.2" r="2.35"/><circle cx="464.8" cy="772.2" r="2.35"/><circle cx="464.9" cy="773.4" r="2.35"/><circle cx="464.9" cy="785.5" r="2.35"/><circle cx="465.1" cy="787.0" r="2.35"/><circle cx="466.0" cy="777.9" r="2.35"/><circle cx="466.0" cy="774.7" r="2.35"/><circle cx="466.6" cy="771.6" r="2.35"/><circle cx="466.6" cy="772.1" r="2.35"/><circle cx="466.9" cy="742.6" r="2.35"/><circle cx="467.2" cy="771.9" r="2.35"/><circle cx="468.1" cy="769.9" r="2.35"/><circle cx="468.1" cy="776.7" r="2.35"/><circle cx="468.5" cy="779.7" r="2.35"/><circle cx="469.8" cy="778.5" r="2.35"/><circle cx="469.8" cy="783.1" r="2.35"/></g>
<rect x="470.4" y="786.3" width="37.4" height="6.5" rx="1.3" fill="#61D04F"/>
<g fill="#61D04F"><circle cx="471.1" cy="782.3" r="2.35"/><circle cx="471.1" cy="789.2" r="2.35"/></g>
<g fill="#DF536B"><circle cx="471.3" cy="785.9" r="2.35"/></g>
<g fill="#61D04F"><circle cx="471.3" cy="786.6" r="2.35"/><circle cx="471.5" cy="775.2" r="2.35"/><circle cx="471.8" cy="788.0" r="2.35"/><circle cx="472.8" cy="713.9" r="2.35"/><circle cx="472.8" cy="719.2" r="2.35"/><circle cx="472.8" cy="734.4" r="2.35"/><circle cx="472.9" cy="782.5" r="2.35"/><circle cx="473.5" cy="778.1" r="2.35"/><circle cx="473.5" cy="788.5" r="2.35"/><circle cx="475.1" cy="779.1" r="2.35"/><circle cx="475.5" cy="787.3" r="2.35"/><circle cx="476.0" cy="783.7" r="2.35"/><circle cx="476.3" cy="772.3" r="2.35"/><circle cx="477.0" cy="780.6" r="2.35"/><circle cx="477.3" cy="788.4" r="2.35"/><circle cx="477.4" cy="761.3" r="2.35"/><circle cx="477.5" cy="781.8" r="2.35"/><circle cx="477.9" cy="786.3" r="2.35"/><circle cx="478.0" cy="787.5" r="2.35"/><circle cx="478.4" cy="782.1" r="2.35"/><circle cx="478.6" cy="715.0" r="2.35"/><circle cx="479.8" cy="751.2" r="2.35"/><circle cx="480.7" cy="789.1" r="2.35"/><circle cx="481.4" cy="785.3" r="2.35"/><circle cx="481.9" cy="789.5" r="2.35"/><circle cx="481.9" cy="785.3" r="2.35"/><circle cx="482.0" cy="772.3" r="2.35"/><circle cx="482.1" cy="771.1" r="2.35"/><circle cx="483.3" cy="737.2" r="2.35"/><circle cx="483.3" cy="751.9" r="2.35"/><circle cx="483.3" cy="780.2" r="2.35"/><circle cx="484.0" cy="731.9" r="2.35"/><circle cx="484.0" cy="780.1" r="2.35"/><circle cx="484.5" cy="740.3" r="2.35"/><circle cx="484.5" cy="758.2" r="2.35"/><circle cx="484.8" cy="789.3" r="2.35"/><circle cx="487.3" cy="593.9" r="2.35"/><circle cx="487.3" cy="774.0" r="2.35"/><circle cx="487.5" cy="776.5" r="2.35"/><circle cx="488.0" cy="741.2" r="2.35"/><circle cx="488.1" cy="772.4" r="2.35"/><circle cx="488.1" cy="786.8" r="2.35"/><circle cx="488.4" cy="631.7" r="2.35"/><circle cx="489.1" cy="779.0" r="2.35"/><circle cx="489.3" cy="786.3" r="2.35"/><circle cx="490.1" cy="785.7" r="2.35"/><circle cx="490.6" cy="787.4" r="2.35"/><circle cx="491.5" cy="717.4" r="2.35"/><circle cx="491.5" cy="741.2" r="2.35"/><circle cx="491.5" cy="762.9" r="2.35"/><circle cx="491.7" cy="783.4" r="2.35"/><circle cx="492.3" cy="776.0" r="2.35"/><circle cx="492.6" cy="778.6" r="2.35"/><circle cx="492.7" cy="787.8" r="2.35"/><circle cx="493.3" cy="787.5" r="2.35"/><circle cx="493.8" cy="719.7" r="2.35"/><circle cx="493.8" cy="767.6" r="2.35"/><circle cx="494.0" cy="776.7" r="2.35"/><circle cx="494.4" cy="786.3" r="2.35"/><circle cx="495.0" cy="715.0" r="2.35"/><circle cx="495.0" cy="727.9" r="2.35"/><circle cx="495.0" cy="753.6" r="2.35"/><circle cx="495.1" cy="786.5" r="2.35"/><circle cx="495.1" cy="778.1" r="2.35"/><circle cx="496.1" cy="764.1" r="2.35"/><circle cx="498.4" cy="786.5" r="2.35"/><circle cx="499.7" cy="781.3" r="2.35"/><circle cx="500.5" cy="778.2" r="2.35"/><circle cx="500.9" cy="782.2" r="2.35"/><circle cx="501.0" cy="778.2" r="2.35"/><circle cx="501.3" cy="779.6" r="2.35"/><circle cx="501.4" cy="784.2" r="2.35"/><circle cx="502.5" cy="783.1" r="2.35"/><circle cx="502.7" cy="724.4" r="2.35"/><circle cx="503.0" cy="777.8" r="2.35"/><circle cx="503.7" cy="773.2" r="2.35"/><circle cx="503.7" cy="786.5" r="2.35"/><circle cx="503.9" cy="785.9" r="2.35"/><circle cx="504.3" cy="722.0" r="2.35"/><circle cx="504.3" cy="753.6" r="2.35"/><circle cx="504.8" cy="775.0" r="2.35"/><circle cx="505.0" cy="716.2" r="2.35"/><circle cx="505.5" cy="772.3" r="2.35"/></g>
<rect x="506.6" y="785.8" width="15.2" height="7.0" rx="1.3" fill="#2297E6"/>
<g fill="#2297E6"><circle cx="507.1" cy="768.8" r="2.35"/></g>
<g fill="#61D04F"><circle cx="507.2" cy="788.4" r="2.35"/></g>
<g fill="#2297E6"><circle cx="507.3" cy="778.3" r="2.35"/><circle cx="507.6" cy="784.0" r="2.35"/><circle cx="507.8" cy="782.9" r="2.35"/><circle cx="507.8" cy="758.2" r="2.35"/><circle cx="507.8" cy="767.6" r="2.35"/><circle cx="508.0" cy="770.3" r="2.35"/><circle cx="508.2" cy="779.3" r="2.35"/><circle cx="509.8" cy="781.4" r="2.35"/><circle cx="510.1" cy="776.1" r="2.35"/><circle cx="510.5" cy="784.7" r="2.35"/><circle cx="510.7" cy="788.3" r="2.35"/><circle cx="511.3" cy="761.8" r="2.35"/><circle cx="511.6" cy="779.6" r="2.35"/><circle cx="511.7" cy="779.1" r="2.35"/><circle cx="511.7" cy="786.9" r="2.35"/><circle cx="512.0" cy="777.4" r="2.35"/><circle cx="512.0" cy="782.7" r="2.35"/><circle cx="512.5" cy="709.2" r="2.35"/><circle cx="512.6" cy="786.1" r="2.35"/><circle cx="512.9" cy="726.7" r="2.35"/><circle cx="512.9" cy="733.3" r="2.35"/><circle cx="513.6" cy="767.6" r="2.35"/><circle cx="514.1" cy="710.4" r="2.35"/><circle cx="514.8" cy="762.9" r="2.35"/><circle cx="515.0" cy="786.9" r="2.35"/><circle cx="515.5" cy="784.4" r="2.35"/><circle cx="515.6" cy="772.0" r="2.35"/><circle cx="516.0" cy="740.3" r="2.35"/><circle cx="516.0" cy="785.7" r="2.35"/><circle cx="516.3" cy="785.5" r="2.35"/><circle cx="516.7" cy="769.0" r="2.35"/><circle cx="516.8" cy="770.2" r="2.35"/><circle cx="517.0" cy="777.8" r="2.35"/><circle cx="517.2" cy="733.3" r="2.35"/><circle cx="517.2" cy="750.5" r="2.35"/><circle cx="517.6" cy="716.2" r="2.35"/><circle cx="517.9" cy="503.5" r="2.35"/></g>
<rect x="518.0" y="786.3" width="45.5" height="6.5" rx="1.3" fill="#28E2E5"/>
<g fill="#2297E6"><circle cx="518.3" cy="771.9" r="2.35"/></g>
<g fill="#28E2E5"><circle cx="518.3" cy="789.2" r="2.35"/></g>
<g fill="#2297E6"><circle cx="518.6" cy="782.6" r="2.35"/><circle cx="519.3" cy="777.6" r="2.35"/><circle cx="519.5" cy="760.6" r="2.35"/><circle cx="519.5" cy="771.1" r="2.35"/></g>
<g fill="#28E2E5"><circle cx="519.9" cy="773.4" r="2.35"/><circle cx="520.2" cy="780.9" r="2.35"/></g>
<g fill="#2297E6"><circle cx="520.3" cy="783.1" r="2.35"/></g>
<g fill="#28E2E5"><circle cx="520.8" cy="782.8" r="2.35"/></g>
<g fill="#2297E6"><circle cx="521.3" cy="786.1" r="2.35"/><circle cx="521.5" cy="772.1" r="2.35"/><circle cx="521.8" cy="770.1" r="2.35"/></g>
<g fill="#28E2E5"><circle cx="522.4" cy="783.5" r="2.35"/><circle cx="522.6" cy="777.5" r="2.35"/><circle cx="523.0" cy="752.9" r="2.35"/><circle cx="523.7" cy="788.6" r="2.35"/><circle cx="524.2" cy="773.4" r="2.35"/><circle cx="524.6" cy="686.3" r="2.35"/><circle cx="524.6" cy="702.9" r="2.35"/><circle cx="526.0" cy="785.7" r="2.35"/><circle cx="526.1" cy="786.3" r="2.35"/><circle cx="527.3" cy="778.8" r="2.35"/><circle cx="527.5" cy="778.7" r="2.35"/><circle cx="528.7" cy="783.5" r="2.35"/><circle cx="528.8" cy="778.1" r="2.35"/><circle cx="529.8" cy="788.2" r="2.35"/><circle cx="530.2" cy="785.6" r="2.35"/><circle cx="530.3" cy="783.4" r="2.35"/><circle cx="531.5" cy="759.9" r="2.35"/><circle cx="531.6" cy="786.7" r="2.35"/><circle cx="531.7" cy="773.9" r="2.35"/><circle cx="531.9" cy="782.7" r="2.35"/><circle cx="533.2" cy="766.9" r="2.35"/><circle cx="533.8" cy="788.5" r="2.35"/><circle cx="533.8" cy="787.7" r="2.35"/><circle cx="534.6" cy="775.7" r="2.35"/><circle cx="535.0" cy="783.8" r="2.35"/><circle cx="535.5" cy="786.3" r="2.35"/><circle cx="535.5" cy="768.8" r="2.35"/><circle cx="536.0" cy="789.2" r="2.35"/><circle cx="536.2" cy="750.5" r="2.35"/><circle cx="537.8" cy="675.2" r="2.35"/><circle cx="537.8" cy="773.4" r="2.35"/><circle cx="538.0" cy="785.6" r="2.35"/><circle cx="538.9" cy="782.6" r="2.35"/><circle cx="539.0" cy="757.1" r="2.35"/><circle cx="539.4" cy="777.4" r="2.35"/><circle cx="540.2" cy="760.6" r="2.35"/><circle cx="541.6" cy="786.7" r="2.35"/><circle cx="541.6" cy="788.7" r="2.35"/><circle cx="542.5" cy="762.9" r="2.35"/><circle cx="542.5" cy="774.6" r="2.35"/><circle cx="542.7" cy="788.0" r="2.35"/><circle cx="543.0" cy="789.4" r="2.35"/><circle cx="544.0" cy="788.5" r="2.35"/><circle cx="544.2" cy="730.9" r="2.35"/><circle cx="544.3" cy="788.7" r="2.35"/><circle cx="545.1" cy="787.7" r="2.35"/><circle cx="546.0" cy="727.9" r="2.35"/><circle cx="546.0" cy="741.9" r="2.35"/><circle cx="547.2" cy="786.0" r="2.35"/><circle cx="547.2" cy="787.5" r="2.35"/><circle cx="547.3" cy="783.1" r="2.35"/><circle cx="548.4" cy="769.9" r="2.35"/><circle cx="549.0" cy="787.8" r="2.35"/><circle cx="549.6" cy="788.7" r="2.35"/><circle cx="549.8" cy="774.7" r="2.35"/><circle cx="549.9" cy="786.3" r="2.35"/><circle cx="550.2" cy="742.6" r="2.35"/><circle cx="550.6" cy="785.4" r="2.35"/><circle cx="550.7" cy="775.8" r="2.35"/><circle cx="551.6" cy="779.8" r="2.35"/><circle cx="552.3" cy="651.3" r="2.35"/><circle cx="552.6" cy="747.0" r="2.35"/><circle cx="553.3" cy="659.3" r="2.35"/><circle cx="553.5" cy="690.5" r="2.35"/><circle cx="553.9" cy="785.2" r="2.35"/><circle cx="554.2" cy="786.2" r="2.35"/><circle cx="554.2" cy="696.4" r="2.35"/><circle cx="554.2" cy="761.8" r="2.35"/><circle cx="554.4" cy="786.5" r="2.35"/><circle cx="554.7" cy="736.8" r="2.35"/><circle cx="554.7" cy="778.9" r="2.35"/><circle cx="554.8" cy="786.8" r="2.35"/><circle cx="555.1" cy="777.6" r="2.35"/><circle cx="555.2" cy="786.3" r="2.35"/><circle cx="555.3" cy="780.1" r="2.35"/><circle cx="555.4" cy="771.1" r="2.35"/><circle cx="555.7" cy="774.7" r="2.35"/><circle cx="555.8" cy="671.9" r="2.35"/><circle cx="555.9" cy="784.1" r="2.35"/><circle cx="556.0" cy="778.0" r="2.35"/><circle cx="556.2" cy="787.7" r="2.35"/><circle cx="556.2" cy="780.2" r="2.35"/><circle cx="556.4" cy="785.4" r="2.35"/><circle cx="556.4" cy="784.8" r="2.35"/><circle cx="556.5" cy="752.4" r="2.35"/><circle cx="557.2" cy="701.0" r="2.35"/><circle cx="557.7" cy="774.6" r="2.35"/><circle cx="558.9" cy="760.6" r="2.35"/><circle cx="558.9" cy="774.6" r="2.35"/><circle cx="559.5" cy="785.0" r="2.35"/><circle cx="560.0" cy="781.0" r="2.35"/><circle cx="560.0" cy="781.8" r="2.35"/><circle cx="560.7" cy="774.1" r="2.35"/><circle cx="562.1" cy="786.8" r="2.35"/><circle cx="562.2" cy="787.9" r="2.35"/><circle cx="562.4" cy="771.1" r="2.35"/><circle cx="562.8" cy="789.5" r="2.35"/><circle cx="562.9" cy="775.7" r="2.35"/><circle cx="563.1" cy="788.1" r="2.35"/></g>
<rect x="563.5" y="784.9" width="25.7" height="7.9" rx="1.3" fill="#CD0BBC"/>
<g fill="#CD0BBC"><circle cx="564.0" cy="786.6" r="2.35"/><circle cx="564.3" cy="789.5" r="2.35"/><circle cx="565.5" cy="789.3" r="2.35"/><circle cx="565.6" cy="789.1" r="2.35"/><circle cx="565.9" cy="785.0" r="2.35"/><circle cx="566.3" cy="773.0" r="2.35"/><circle cx="567.0" cy="761.8" r="2.35"/><circle cx="567.1" cy="777.6" r="2.35"/><circle cx="567.8" cy="785.2" r="2.35"/><circle cx="567.8" cy="774.2" r="2.35"/><circle cx="568.0" cy="785.7" r="2.35"/><circle cx="568.2" cy="766.4" r="2.35"/><circle cx="568.3" cy="782.3" r="2.35"/><circle cx="568.7" cy="785.3" r="2.35"/><circle cx="568.7" cy="775.6" r="2.35"/><circle cx="569.1" cy="781.8" r="2.35"/><circle cx="569.2" cy="787.0" r="2.35"/><circle cx="570.0" cy="779.6" r="2.35"/><circle cx="570.2" cy="773.3" r="2.35"/><circle cx="570.3" cy="772.7" r="2.35"/><circle cx="570.5" cy="735.6" r="2.35"/><circle cx="570.8" cy="778.0" r="2.35"/><circle cx="571.1" cy="786.5" r="2.35"/><circle cx="572.7" cy="773.1" r="2.35"/><circle cx="572.7" cy="786.9" r="2.35"/><circle cx="573.7" cy="784.6" r="2.35"/><circle cx="573.8" cy="781.2" r="2.35"/><circle cx="574.0" cy="786.0" r="2.35"/><circle cx="574.1" cy="767.6" r="2.35"/><circle cx="574.3" cy="785.1" r="2.35"/><circle cx="574.5" cy="784.6" r="2.35"/><circle cx="574.5" cy="781.4" r="2.35"/><circle cx="574.9" cy="785.7" r="2.35"/><circle cx="575.5" cy="779.5" r="2.35"/><circle cx="576.3" cy="788.3" r="2.35"/><circle cx="576.8" cy="778.6" r="2.35"/><circle cx="576.9" cy="785.3" r="2.35"/><circle cx="577.6" cy="751.2" r="2.35"/><circle cx="578.6" cy="784.6" r="2.35"/><circle cx="578.7" cy="731.9" r="2.35"/><circle cx="579.2" cy="754.3" r="2.35"/><circle cx="579.3" cy="786.2" r="2.35"/><circle cx="579.8" cy="774.6" r="2.35"/><circle cx="579.9" cy="716.7" r="2.35"/><circle cx="580.4" cy="780.4" r="2.35"/><circle cx="580.6" cy="784.0" r="2.35"/><circle cx="581.1" cy="717.4" r="2.35"/><circle cx="581.1" cy="768.3" r="2.35"/><circle cx="582.1" cy="784.3" r="2.35"/><circle cx="582.2" cy="759.4" r="2.35"/><circle cx="583.4" cy="746.6" r="2.35"/><circle cx="584.1" cy="785.2" r="2.35"/><circle cx="584.8" cy="788.4" r="2.35"/><circle cx="585.6" cy="782.9" r="2.35"/><circle cx="585.7" cy="772.3" r="2.35"/><circle cx="585.8" cy="779.7" r="2.35"/><circle cx="586.3" cy="780.2" r="2.35"/><circle cx="586.9" cy="781.4" r="2.35"/><circle cx="588.2" cy="788.0" r="2.35"/><circle cx="588.2" cy="776.5" r="2.35"/><circle cx="588.7" cy="787.7" r="2.35"/><circle cx="589.2" cy="762.9" r="2.35"/></g>
<rect x="589.2" y="785.3" width="30.4" height="7.5" rx="1.3" fill="#F5C710"/>
<g fill="#F5C710"><circle cx="590.0" cy="773.7" r="2.35"/><circle cx="590.4" cy="780.8" r="2.35"/><circle cx="591.6" cy="751.2" r="2.35"/><circle cx="592.6" cy="789.2" r="2.35"/><circle cx="592.7" cy="761.8" r="2.35"/><circle cx="592.7" cy="773.4" r="2.35"/><circle cx="592.9" cy="785.3" r="2.35"/><circle cx="593.3" cy="787.6" r="2.35"/><circle cx="593.6" cy="777.2" r="2.35"/><circle cx="593.6" cy="774.6" r="2.35"/><circle cx="593.9" cy="788.4" r="2.35"/><circle cx="594.0" cy="780.9" r="2.35"/><circle cx="594.4" cy="789.7" r="2.35"/><circle cx="595.1" cy="768.8" r="2.35"/><circle cx="595.1" cy="784.4" r="2.35"/><circle cx="596.9" cy="787.6" r="2.35"/><circle cx="596.9" cy="773.1" r="2.35"/><circle cx="597.1" cy="776.8" r="2.35"/><circle cx="597.2" cy="773.7" r="2.35"/><circle cx="598.2" cy="788.0" r="2.35"/><circle cx="598.4" cy="777.4" r="2.35"/><circle cx="598.6" cy="723.2" r="2.35"/><circle cx="598.7" cy="780.0" r="2.35"/><circle cx="598.8" cy="784.7" r="2.35"/><circle cx="599.0" cy="781.6" r="2.35"/><circle cx="599.3" cy="717.8" r="2.35"/><circle cx="599.7" cy="786.4" r="2.35"/><circle cx="599.7" cy="762.9" r="2.35"/><circle cx="600.7" cy="773.3" r="2.35"/><circle cx="600.8" cy="775.9" r="2.35"/><circle cx="601.5" cy="782.3" r="2.35"/><circle cx="601.7" cy="779.6" r="2.35"/><circle cx="602.1" cy="754.7" r="2.35"/><circle cx="602.1" cy="768.8" r="2.35"/><circle cx="602.9" cy="781.4" r="2.35"/><circle cx="603.2" cy="784.9" r="2.35"/><circle cx="603.2" cy="762.2" r="2.35"/><circle cx="603.5" cy="777.9" r="2.35"/><circle cx="603.6" cy="783.6" r="2.35"/><circle cx="603.6" cy="785.6" r="2.35"/><circle cx="603.8" cy="787.3" r="2.35"/><circle cx="604.0" cy="784.5" r="2.35"/><circle cx="604.4" cy="702.2" r="2.35"/><circle cx="605.6" cy="755.9" r="2.35"/><circle cx="606.3" cy="784.2" r="2.35"/><circle cx="606.8" cy="686.5" r="2.35"/><circle cx="607.1" cy="787.0" r="2.35"/><circle cx="608.0" cy="777.0" r="2.35"/><circle cx="608.3" cy="787.0" r="2.35"/><circle cx="608.8" cy="785.7" r="2.35"/><circle cx="609.1" cy="730.2" r="2.35"/><circle cx="609.1" cy="757.1" r="2.35"/><circle cx="609.1" cy="769.9" r="2.35"/><circle cx="610.5" cy="725.5" r="2.35"/><circle cx="610.6" cy="773.3" r="2.35"/><circle cx="611.3" cy="775.8" r="2.35"/><circle cx="611.3" cy="786.5" r="2.35"/><circle cx="611.4" cy="747.3" r="2.35"/><circle cx="611.7" cy="778.1" r="2.35"/><circle cx="612.9" cy="776.3" r="2.35"/><circle cx="613.8" cy="773.4" r="2.35"/><circle cx="614.0" cy="774.2" r="2.35"/><circle cx="614.2" cy="778.8" r="2.35"/><circle cx="614.3" cy="787.9" r="2.35"/><circle cx="614.9" cy="762.9" r="2.35"/><circle cx="615.5" cy="779.8" r="2.35"/><circle cx="615.9" cy="787.1" r="2.35"/><circle cx="616.2" cy="774.2" r="2.35"/><circle cx="616.3" cy="772.4" r="2.35"/></g>
<rect x="618.4" y="786.7" width="14.0" height="6.1" rx="1.3" fill="#9E9E9E"/>
<g fill="#9E9E9E"><circle cx="619.1" cy="652.5" r="2.35"/><circle cx="619.2" cy="780.6" r="2.35"/><circle cx="619.6" cy="782.3" r="2.35"/><circle cx="619.6" cy="766.4" r="2.35"/><circle cx="619.7" cy="788.3" r="2.35"/><circle cx="620.0" cy="787.5" r="2.35"/><circle cx="620.8" cy="778.1" r="2.35"/><circle cx="621.7" cy="787.8" r="2.35"/><circle cx="621.9" cy="768.8" r="2.35"/><circle cx="622.1" cy="787.5" r="2.35"/><circle cx="622.2" cy="776.7" r="2.35"/><circle cx="623.8" cy="777.2" r="2.35"/><circle cx="624.4" cy="781.1" r="2.35"/><circle cx="625.0" cy="788.2" r="2.35"/><circle cx="625.4" cy="785.8" r="2.35"/><circle cx="625.4" cy="769.2" r="2.35"/><circle cx="626.5" cy="789.0" r="2.35"/><circle cx="627.6" cy="786.1" r="2.35"/><circle cx="628.6" cy="784.1" r="2.35"/><circle cx="628.9" cy="668.2" r="2.35"/><circle cx="629.9" cy="783.8" r="2.35"/><circle cx="630.1" cy="765.3" r="2.35"/><circle cx="631.1" cy="777.8" r="2.35"/><circle cx="631.1" cy="780.4" r="2.35"/></g>
<rect x="632.0" y="786.7" width="12.1" height="6.1" rx="1.3" fill="#000000"/>
<g fill="#000000"><circle cx="632.0" cy="785.8" r="2.35"/><circle cx="632.5" cy="789.5" r="2.35"/><circle cx="633.6" cy="766.0" r="2.35"/><circle cx="633.7" cy="785.4" r="2.35"/><circle cx="634.0" cy="787.2" r="2.35"/><circle cx="634.5" cy="787.4" r="2.35"/><circle cx="634.8" cy="778.1" r="2.35"/><circle cx="636.0" cy="788.2" r="2.35"/><circle cx="636.6" cy="771.6" r="2.35"/><circle cx="636.8" cy="785.4" r="2.35"/><circle cx="637.0" cy="782.7" r="2.35"/><circle cx="637.0" cy="785.6" r="2.35"/><circle cx="637.3" cy="783.2" r="2.35"/><circle cx="637.5" cy="787.7" r="2.35"/><circle cx="637.8" cy="783.4" r="2.35"/><circle cx="638.3" cy="698.7" r="2.35"/><circle cx="639.0" cy="766.9" r="2.35"/><circle cx="639.1" cy="779.6" r="2.35"/><circle cx="639.4" cy="785.4" r="2.35"/><circle cx="640.2" cy="758.2" r="2.35"/><circle cx="641.0" cy="783.4" r="2.35"/><circle cx="641.8" cy="769.9" r="2.35"/><circle cx="642.3" cy="787.7" r="2.35"/><circle cx="642.5" cy="748.9" r="2.35"/></g>
<rect x="643.0" y="787.4" width="12.8" height="5.4" rx="1.3" fill="#DF536B"/>
<g fill="#DF536B"><circle cx="643.3" cy="784.1" r="2.35"/></g>
<g fill="#000000"><circle cx="643.7" cy="743.1" r="2.35"/><circle cx="644.1" cy="772.3" r="2.35"/></g>
<g fill="#DF536B"><circle cx="644.8" cy="781.7" r="2.35"/><circle cx="645.5" cy="788.8" r="2.35"/><circle cx="646.0" cy="772.3" r="2.35"/><circle cx="646.0" cy="781.8" r="2.35"/><circle cx="646.5" cy="779.3" r="2.35"/><circle cx="646.7" cy="783.4" r="2.35"/><circle cx="648.0" cy="785.0" r="2.35"/><circle cx="648.7" cy="786.9" r="2.35"/><circle cx="648.8" cy="785.9" r="2.35"/><circle cx="649.3" cy="789.8" r="2.35"/><circle cx="650.2" cy="781.7" r="2.35"/><circle cx="651.6" cy="774.1" r="2.35"/><circle cx="651.7" cy="787.8" r="2.35"/><circle cx="651.8" cy="695.9" r="2.35"/><circle cx="652.3" cy="688.6" r="2.35"/><circle cx="653.0" cy="779.3" r="2.35"/><circle cx="654.2" cy="784.2" r="2.35"/><circle cx="654.2" cy="782.7" r="2.35"/><circle cx="655.2" cy="780.7" r="2.35"/></g>
<rect x="60.1" y="487.8" width="622.70" height="318.80" fill="none" stroke="#333333" stroke-width="1.5"/>
<line x1="57.5" x2="60.1" y1="791.90" y2="791.90" stroke="#333333" stroke-width="1.3"/>
<text transform="translate(53.10,795.55) scale(0.89,1)" font-size="10.2" fill="#4D4D4D" stroke="#4D4D4D" stroke-width="0.25" text-anchor="end">0</text>
<line x1="57.5" x2="60.1" y1="715.98" y2="715.98" stroke="#333333" stroke-width="1.3"/>
<text transform="translate(53.10,719.63) scale(0.89,1)" font-size="10.2" fill="#4D4D4D" stroke="#4D4D4D" stroke-width="0.25" text-anchor="end">250000</text>
<line x1="57.5" x2="60.1" y1="640.05" y2="640.05" stroke="#333333" stroke-width="1.3"/>
<text transform="translate(53.10,643.70) scale(0.89,1)" font-size="10.2" fill="#4D4D4D" stroke="#4D4D4D" stroke-width="0.25" text-anchor="end">500000</text>
<line x1="57.5" x2="60.1" y1="564.12" y2="564.12" stroke="#333333" stroke-width="1.3"/>
<text transform="translate(53.10,567.78) scale(0.89,1)" font-size="10.2" fill="#4D4D4D" stroke="#4D4D4D" stroke-width="0.25" text-anchor="end">750000</text>
<line x1="57.5" x2="60.1" y1="488.20" y2="488.20" stroke="#333333" stroke-width="1.3"/>
<text transform="translate(53.10,491.85) scale(0.89,1)" font-size="10.2" fill="#4D4D4D" stroke="#4D4D4D" stroke-width="0.25" text-anchor="end">1000000</text>
<line x1="114.10" x2="114.10" y1="806.6" y2="809.2" stroke="#333333" stroke-width="1.3"/>
<text transform="translate(114.10,820.5) scale(0.89,1)" font-size="10.2" fill="#4D4D4D" stroke="#4D4D4D" stroke-width="0.25" text-anchor="middle">1</text>
<line x1="165.10" x2="165.10" y1="806.6" y2="809.2" stroke="#333333" stroke-width="1.3"/>
<text transform="translate(165.10,820.5) scale(0.89,1)" font-size="10.2" fill="#4D4D4D" stroke="#4D4D4D" stroke-width="0.25" text-anchor="middle">2</text>
<line x1="207.60" x2="207.60" y1="806.6" y2="809.2" stroke="#333333" stroke-width="1.3"/>
<text transform="translate(207.60,820.5) scale(0.89,1)" font-size="10.2" fill="#4D4D4D" stroke="#4D4D4D" stroke-width="0.25" text-anchor="middle">3</text>
<line x1="246.20" x2="246.20" y1="806.6" y2="809.2" stroke="#333333" stroke-width="1.3"/>
<text transform="translate(246.20,820.5) scale(0.89,1)" font-size="10.2" fill="#4D4D4D" stroke="#4D4D4D" stroke-width="0.25" text-anchor="middle">4</text>
<line x1="277.70" x2="277.70" y1="806.6" y2="809.2" stroke="#333333" stroke-width="1.3"/>
<text transform="translate(277.70,820.5) scale(0.89,1)" font-size="10.2" fill="#4D4D4D" stroke="#4D4D4D" stroke-width="0.25" text-anchor="middle">5</text>
<line x1="304.40" x2="304.40" y1="806.6" y2="809.2" stroke="#333333" stroke-width="1.3"/>
<text transform="translate(304.40,820.5) scale(0.89,1)" font-size="10.2" fill="#4D4D4D" stroke="#4D4D4D" stroke-width="0.25" text-anchor="middle">6</text>
<line x1="337.40" x2="337.40" y1="806.6" y2="809.2" stroke="#333333" stroke-width="1.3"/>
<text transform="translate(337.40,820.5) scale(0.89,1)" font-size="10.2" fill="#4D4D4D" stroke="#4D4D4D" stroke-width="0.25" text-anchor="middle">7</text>
<line x1="384.60" x2="384.60" y1="806.6" y2="809.2" stroke="#333333" stroke-width="1.3"/>
<text transform="translate(384.60,820.5) scale(0.89,1)" font-size="10.2" fill="#4D4D4D" stroke="#4D4D4D" stroke-width="0.25" text-anchor="middle">8</text>
<line x1="434.80" x2="434.80" y1="806.6" y2="809.2" stroke="#333333" stroke-width="1.3"/>
<text transform="translate(434.80,820.5) scale(0.89,1)" font-size="10.2" fill="#4D4D4D" stroke="#4D4D4D" stroke-width="0.25" text-anchor="middle">9</text>
<line x1="463.70" x2="463.70" y1="806.6" y2="809.2" stroke="#333333" stroke-width="1.3"/>
<text transform="translate(463.70,820.5) scale(0.89,1)" font-size="10.2" fill="#4D4D4D" stroke="#4D4D4D" stroke-width="0.25" text-anchor="middle">10</text>
<line x1="489.60" x2="489.60" y1="806.6" y2="809.2" stroke="#333333" stroke-width="1.3"/>
<text transform="translate(489.60,820.5) scale(0.89,1)" font-size="10.2" fill="#4D4D4D" stroke="#4D4D4D" stroke-width="0.25" text-anchor="middle">11</text>
<line x1="515.00" x2="515.00" y1="806.6" y2="809.2" stroke="#333333" stroke-width="1.3"/>
<text transform="translate(515.00,820.5) scale(0.89,1)" font-size="10.2" fill="#4D4D4D" stroke="#4D4D4D" stroke-width="0.25" text-anchor="middle">12</text>
<line x1="543.50" x2="543.50" y1="806.6" y2="809.2" stroke="#333333" stroke-width="1.3"/>
<text transform="translate(543.50,820.5) scale(0.89,1)" font-size="10.2" fill="#4D4D4D" stroke="#4D4D4D" stroke-width="0.25" text-anchor="middle">13</text>
<line x1="577.70" x2="577.70" y1="806.6" y2="809.2" stroke="#333333" stroke-width="1.3"/>
<text transform="translate(577.70,820.5) scale(0.89,1)" font-size="10.2" fill="#4D4D4D" stroke="#4D4D4D" stroke-width="0.25" text-anchor="middle">14</text>
<line x1="604.70" x2="604.70" y1="806.6" y2="809.2" stroke="#333333" stroke-width="1.3"/>
<text transform="translate(604.70,820.5) scale(0.89,1)" font-size="10.2" fill="#4D4D4D" stroke="#4D4D4D" stroke-width="0.25" text-anchor="middle">15</text>
<line x1="626.20" x2="626.20" y1="806.6" y2="809.2" stroke="#333333" stroke-width="1.3"/>
<text transform="translate(626.20,820.5) scale(0.89,1)" font-size="10.2" fill="#4D4D4D" stroke="#4D4D4D" stroke-width="0.25" text-anchor="middle">16</text>
<line x1="638.80" x2="638.80" y1="806.6" y2="809.2" stroke="#333333" stroke-width="1.3"/>
<text transform="translate(638.80,820.5) scale(0.89,1)" font-size="10.2" fill="#4D4D4D" stroke="#4D4D4D" stroke-width="0.25" text-anchor="middle">17</text>
<line x1="649.50" x2="649.50" y1="806.6" y2="809.2" stroke="#333333" stroke-width="1.3"/>
<text transform="translate(649.50,820.5) scale(0.89,1)" font-size="10.2" fill="#4D4D4D" stroke="#4D4D4D" stroke-width="0.25" text-anchor="middle">18</text>
<text x="16.2" y="18.7" font-size="23.7" font-weight="bold" fill="#000">A</text><text x="34.9" y="18.7" font-size="23.7" font-weight="bold" fill="#000">)</text>
<text x="17.6" y="467.8" font-size="23.7" font-weight="bold" fill="#000">B</text><text x="35.6" y="467.8" font-size="23.7" font-weight="bold" fill="#000">)</text>
<text x="369" y="431.5" font-size="13.65" fill="#000" text-anchor="middle">Chromosome</text>
<text x="368.6" y="842" font-size="13.65" fill="#000" text-anchor="middle">Chromosome</text>
<text transform="translate(27.6,207.8) rotate(-90)" font-size="17.4" fill="#000" text-anchor="middle">Number of ME per SNP</text>
<text transform="translate(12.9,646.3) rotate(-90)" font-size="13.7" fill="#000" text-anchor="middle">Length of CNV (bp)</text>
</svg>
</body></html>
